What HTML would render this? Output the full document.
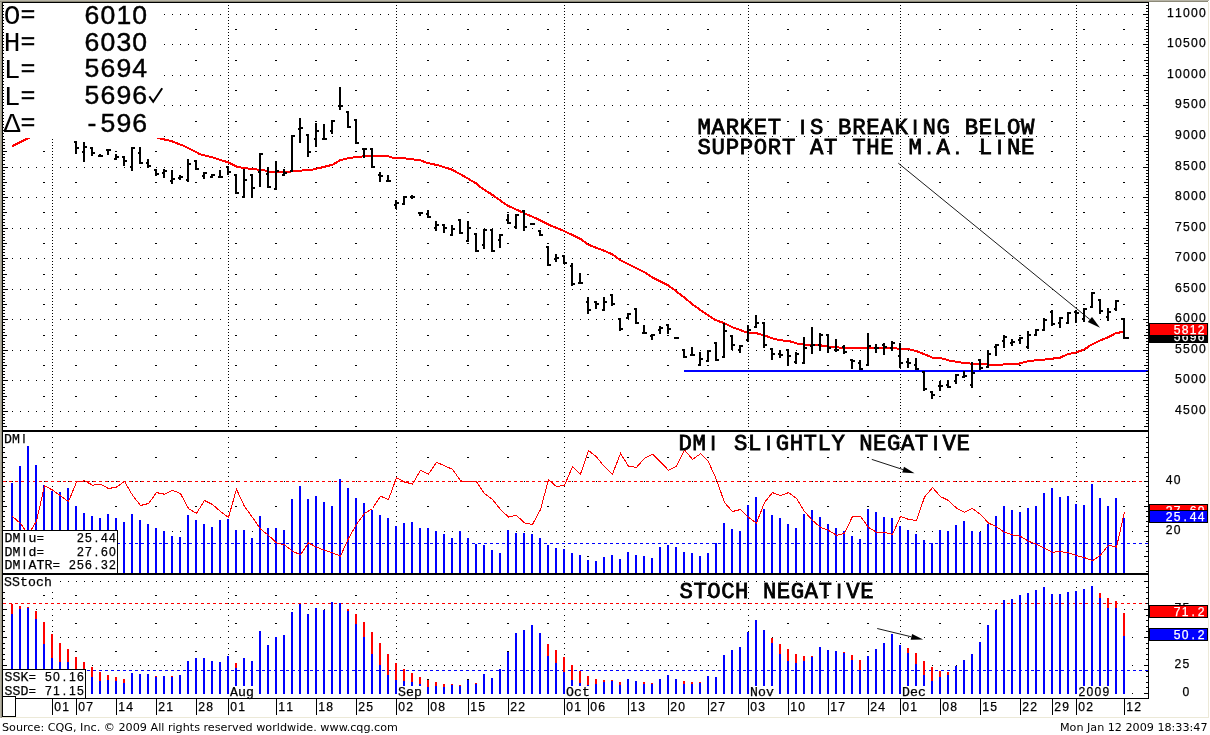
<!DOCTYPE html>
<html lang="en"><head><meta charset="utf-8"><title>CQG Chart</title>
<style>html,body{margin:0;padding:0;background:#fff;overflow:hidden}svg{display:block}text{white-space:pre}</style>
</head><body>
<svg width="1210" height="735" viewBox="0 0 1210 735">
<rect x="0" y="0" width="1210" height="735" fill="#fff"/>
<g shape-rendering="crispEdges">
<path fill="#000" d="M12 14h1v1h-1zM20 14h1v1h-1zM28 14h1v1h-1zM36 14h1v1h-1zM44 14h1v1h-1zM52 14h1v1h-1zM60 14h1v1h-1zM68 14h1v1h-1zM76 14h1v1h-1zM84 14h1v1h-1zM92 14h1v1h-1zM100 14h1v1h-1zM108 14h1v1h-1zM116 14h1v1h-1zM124 14h1v1h-1zM132 14h1v1h-1zM140 14h1v1h-1zM148 14h1v1h-1zM156 14h1v1h-1zM164 14h1v1h-1zM172 14h1v1h-1zM180 14h1v1h-1zM188 14h1v1h-1zM196 14h1v1h-1zM204 14h1v1h-1zM212 14h1v1h-1zM220 14h1v1h-1zM228 14h1v1h-1zM236 14h1v1h-1zM244 14h1v1h-1zM252 14h1v1h-1zM260 14h1v1h-1zM268 14h1v1h-1zM276 14h1v1h-1zM284 14h1v1h-1zM292 14h1v1h-1zM300 14h1v1h-1zM308 14h1v1h-1zM316 14h1v1h-1zM324 14h1v1h-1zM332 14h1v1h-1zM340 14h1v1h-1zM348 14h1v1h-1zM356 14h1v1h-1zM364 14h1v1h-1zM372 14h1v1h-1zM380 14h1v1h-1zM388 14h1v1h-1zM396 14h1v1h-1zM404 14h1v1h-1zM412 14h1v1h-1zM420 14h1v1h-1zM428 14h1v1h-1zM436 14h1v1h-1zM444 14h1v1h-1zM452 14h1v1h-1zM460 14h1v1h-1zM468 14h1v1h-1zM476 14h1v1h-1zM484 14h1v1h-1zM492 14h1v1h-1zM500 14h1v1h-1zM508 14h1v1h-1zM516 14h1v1h-1zM524 14h1v1h-1zM532 14h1v1h-1zM540 14h1v1h-1zM548 14h1v1h-1zM556 14h1v1h-1zM564 14h1v1h-1zM572 14h1v1h-1zM580 14h1v1h-1zM588 14h1v1h-1zM596 14h1v1h-1zM604 14h1v1h-1zM612 14h1v1h-1zM620 14h1v1h-1zM628 14h1v1h-1zM636 14h1v1h-1zM644 14h1v1h-1zM652 14h1v1h-1zM660 14h1v1h-1zM668 14h1v1h-1zM676 14h1v1h-1zM684 14h1v1h-1zM692 14h1v1h-1zM700 14h1v1h-1zM708 14h1v1h-1zM716 14h1v1h-1zM724 14h1v1h-1zM732 14h1v1h-1zM740 14h1v1h-1zM748 14h1v1h-1zM756 14h1v1h-1zM764 14h1v1h-1zM772 14h1v1h-1zM780 14h1v1h-1zM788 14h1v1h-1zM796 14h1v1h-1zM804 14h1v1h-1zM812 14h1v1h-1zM820 14h1v1h-1zM828 14h1v1h-1zM836 14h1v1h-1zM844 14h1v1h-1zM852 14h1v1h-1zM860 14h1v1h-1zM868 14h1v1h-1zM876 14h1v1h-1zM884 14h1v1h-1zM892 14h1v1h-1zM900 14h1v1h-1zM908 14h1v1h-1zM916 14h1v1h-1zM924 14h1v1h-1zM932 14h1v1h-1zM940 14h1v1h-1zM948 14h1v1h-1zM956 14h1v1h-1zM964 14h1v1h-1zM972 14h1v1h-1zM980 14h1v1h-1zM988 14h1v1h-1zM996 14h1v1h-1zM1004 14h1v1h-1zM1012 14h1v1h-1zM1020 14h1v1h-1zM1028 14h1v1h-1zM1036 14h1v1h-1zM1044 14h1v1h-1zM1052 14h1v1h-1zM1060 14h1v1h-1zM1068 14h1v1h-1zM1076 14h1v1h-1zM1084 14h1v1h-1zM1092 14h1v1h-1zM1100 14h1v1h-1zM1108 14h1v1h-1zM1116 14h1v1h-1zM1124 14h1v1h-1zM1132 14h1v1h-1zM43 29h2v1h-2zM75 29h2v1h-2zM115 29h2v1h-2zM155 29h2v1h-2zM195 29h2v1h-2zM235 29h2v1h-2zM275 29h2v1h-2zM315 29h2v1h-2zM355 29h2v1h-2zM427 29h2v1h-2zM467 29h2v1h-2zM507 29h2v1h-2zM547 29h2v1h-2zM587 29h2v1h-2zM627 29h2v1h-2zM667 29h2v1h-2zM707 29h2v1h-2zM787 29h2v1h-2zM827 29h2v1h-2zM867 29h2v1h-2zM939 29h2v1h-2zM979 29h2v1h-2zM1019 29h2v1h-2zM1051 29h2v1h-2zM1083 29h2v1h-2zM1123 29h2v1h-2zM12 44h1v1h-1zM20 44h1v1h-1zM28 44h1v1h-1zM36 44h1v1h-1zM44 44h1v1h-1zM52 44h1v1h-1zM60 44h1v1h-1zM68 44h1v1h-1zM76 44h1v1h-1zM84 44h1v1h-1zM92 44h1v1h-1zM100 44h1v1h-1zM108 44h1v1h-1zM116 44h1v1h-1zM124 44h1v1h-1zM132 44h1v1h-1zM140 44h1v1h-1zM148 44h1v1h-1zM156 44h1v1h-1zM164 44h1v1h-1zM172 44h1v1h-1zM180 44h1v1h-1zM188 44h1v1h-1zM196 44h1v1h-1zM204 44h1v1h-1zM212 44h1v1h-1zM220 44h1v1h-1zM228 44h1v1h-1zM236 44h1v1h-1zM244 44h1v1h-1zM252 44h1v1h-1zM260 44h1v1h-1zM268 44h1v1h-1zM276 44h1v1h-1zM284 44h1v1h-1zM292 44h1v1h-1zM300 44h1v1h-1zM308 44h1v1h-1zM316 44h1v1h-1zM324 44h1v1h-1zM332 44h1v1h-1zM340 44h1v1h-1zM348 44h1v1h-1zM356 44h1v1h-1zM364 44h1v1h-1zM372 44h1v1h-1zM380 44h1v1h-1zM388 44h1v1h-1zM396 44h1v1h-1zM404 44h1v1h-1zM412 44h1v1h-1zM420 44h1v1h-1zM428 44h1v1h-1zM436 44h1v1h-1zM444 44h1v1h-1zM452 44h1v1h-1zM460 44h1v1h-1zM468 44h1v1h-1zM476 44h1v1h-1zM484 44h1v1h-1zM492 44h1v1h-1zM500 44h1v1h-1zM508 44h1v1h-1zM516 44h1v1h-1zM524 44h1v1h-1zM532 44h1v1h-1zM540 44h1v1h-1zM548 44h1v1h-1zM556 44h1v1h-1zM564 44h1v1h-1zM572 44h1v1h-1zM580 44h1v1h-1zM588 44h1v1h-1zM596 44h1v1h-1zM604 44h1v1h-1zM612 44h1v1h-1zM620 44h1v1h-1zM628 44h1v1h-1zM636 44h1v1h-1zM644 44h1v1h-1zM652 44h1v1h-1zM660 44h1v1h-1zM668 44h1v1h-1zM676 44h1v1h-1zM684 44h1v1h-1zM692 44h1v1h-1zM700 44h1v1h-1zM708 44h1v1h-1zM716 44h1v1h-1zM724 44h1v1h-1zM732 44h1v1h-1zM740 44h1v1h-1zM748 44h1v1h-1zM756 44h1v1h-1zM764 44h1v1h-1zM772 44h1v1h-1zM780 44h1v1h-1zM788 44h1v1h-1zM796 44h1v1h-1zM804 44h1v1h-1zM812 44h1v1h-1zM820 44h1v1h-1zM828 44h1v1h-1zM836 44h1v1h-1zM844 44h1v1h-1zM852 44h1v1h-1zM860 44h1v1h-1zM868 44h1v1h-1zM876 44h1v1h-1zM884 44h1v1h-1zM892 44h1v1h-1zM900 44h1v1h-1zM908 44h1v1h-1zM916 44h1v1h-1zM924 44h1v1h-1zM932 44h1v1h-1zM940 44h1v1h-1zM948 44h1v1h-1zM956 44h1v1h-1zM964 44h1v1h-1zM972 44h1v1h-1zM980 44h1v1h-1zM988 44h1v1h-1zM996 44h1v1h-1zM1004 44h1v1h-1zM1012 44h1v1h-1zM1020 44h1v1h-1zM1028 44h1v1h-1zM1036 44h1v1h-1zM1044 44h1v1h-1zM1052 44h1v1h-1zM1060 44h1v1h-1zM1068 44h1v1h-1zM1076 44h1v1h-1zM1084 44h1v1h-1zM1092 44h1v1h-1zM1100 44h1v1h-1zM1108 44h1v1h-1zM1116 44h1v1h-1zM1124 44h1v1h-1zM1132 44h1v1h-1zM43 60h2v1h-2zM75 60h2v1h-2zM115 60h2v1h-2zM155 60h2v1h-2zM195 60h2v1h-2zM235 60h2v1h-2zM275 60h2v1h-2zM315 60h2v1h-2zM355 60h2v1h-2zM427 60h2v1h-2zM467 60h2v1h-2zM507 60h2v1h-2zM547 60h2v1h-2zM587 60h2v1h-2zM627 60h2v1h-2zM667 60h2v1h-2zM707 60h2v1h-2zM787 60h2v1h-2zM827 60h2v1h-2zM867 60h2v1h-2zM939 60h2v1h-2zM979 60h2v1h-2zM1019 60h2v1h-2zM1051 60h2v1h-2zM1083 60h2v1h-2zM1123 60h2v1h-2zM12 75h1v1h-1zM20 75h1v1h-1zM28 75h1v1h-1zM36 75h1v1h-1zM44 75h1v1h-1zM52 75h1v1h-1zM60 75h1v1h-1zM68 75h1v1h-1zM76 75h1v1h-1zM84 75h1v1h-1zM92 75h1v1h-1zM100 75h1v1h-1zM108 75h1v1h-1zM116 75h1v1h-1zM124 75h1v1h-1zM132 75h1v1h-1zM140 75h1v1h-1zM148 75h1v1h-1zM156 75h1v1h-1zM164 75h1v1h-1zM172 75h1v1h-1zM180 75h1v1h-1zM188 75h1v1h-1zM196 75h1v1h-1zM204 75h1v1h-1zM212 75h1v1h-1zM220 75h1v1h-1zM228 75h1v1h-1zM236 75h1v1h-1zM244 75h1v1h-1zM252 75h1v1h-1zM260 75h1v1h-1zM268 75h1v1h-1zM276 75h1v1h-1zM284 75h1v1h-1zM292 75h1v1h-1zM300 75h1v1h-1zM308 75h1v1h-1zM316 75h1v1h-1zM324 75h1v1h-1zM332 75h1v1h-1zM340 75h1v1h-1zM348 75h1v1h-1zM356 75h1v1h-1zM364 75h1v1h-1zM372 75h1v1h-1zM380 75h1v1h-1zM388 75h1v1h-1zM396 75h1v1h-1zM404 75h1v1h-1zM412 75h1v1h-1zM420 75h1v1h-1zM428 75h1v1h-1zM436 75h1v1h-1zM444 75h1v1h-1zM452 75h1v1h-1zM460 75h1v1h-1zM468 75h1v1h-1zM476 75h1v1h-1zM484 75h1v1h-1zM492 75h1v1h-1zM500 75h1v1h-1zM508 75h1v1h-1zM516 75h1v1h-1zM524 75h1v1h-1zM532 75h1v1h-1zM540 75h1v1h-1zM548 75h1v1h-1zM556 75h1v1h-1zM564 75h1v1h-1zM572 75h1v1h-1zM580 75h1v1h-1zM588 75h1v1h-1zM596 75h1v1h-1zM604 75h1v1h-1zM612 75h1v1h-1zM620 75h1v1h-1zM628 75h1v1h-1zM636 75h1v1h-1zM644 75h1v1h-1zM652 75h1v1h-1zM660 75h1v1h-1zM668 75h1v1h-1zM676 75h1v1h-1zM684 75h1v1h-1zM692 75h1v1h-1zM700 75h1v1h-1zM708 75h1v1h-1zM716 75h1v1h-1zM724 75h1v1h-1zM732 75h1v1h-1zM740 75h1v1h-1zM748 75h1v1h-1zM756 75h1v1h-1zM764 75h1v1h-1zM772 75h1v1h-1zM780 75h1v1h-1zM788 75h1v1h-1zM796 75h1v1h-1zM804 75h1v1h-1zM812 75h1v1h-1zM820 75h1v1h-1zM828 75h1v1h-1zM836 75h1v1h-1zM844 75h1v1h-1zM852 75h1v1h-1zM860 75h1v1h-1zM868 75h1v1h-1zM876 75h1v1h-1zM884 75h1v1h-1zM892 75h1v1h-1zM900 75h1v1h-1zM908 75h1v1h-1zM916 75h1v1h-1zM924 75h1v1h-1zM932 75h1v1h-1zM940 75h1v1h-1zM948 75h1v1h-1zM956 75h1v1h-1zM964 75h1v1h-1zM972 75h1v1h-1zM980 75h1v1h-1zM988 75h1v1h-1zM996 75h1v1h-1zM1004 75h1v1h-1zM1012 75h1v1h-1zM1020 75h1v1h-1zM1028 75h1v1h-1zM1036 75h1v1h-1zM1044 75h1v1h-1zM1052 75h1v1h-1zM1060 75h1v1h-1zM1068 75h1v1h-1zM1076 75h1v1h-1zM1084 75h1v1h-1zM1092 75h1v1h-1zM1100 75h1v1h-1zM1108 75h1v1h-1zM1116 75h1v1h-1zM1124 75h1v1h-1zM1132 75h1v1h-1zM43 90h2v1h-2zM75 90h2v1h-2zM115 90h2v1h-2zM155 90h2v1h-2zM195 90h2v1h-2zM235 90h2v1h-2zM275 90h2v1h-2zM315 90h2v1h-2zM355 90h2v1h-2zM427 90h2v1h-2zM467 90h2v1h-2zM507 90h2v1h-2zM547 90h2v1h-2zM587 90h2v1h-2zM627 90h2v1h-2zM667 90h2v1h-2zM707 90h2v1h-2zM787 90h2v1h-2zM827 90h2v1h-2zM867 90h2v1h-2zM939 90h2v1h-2zM979 90h2v1h-2zM1019 90h2v1h-2zM1051 90h2v1h-2zM1083 90h2v1h-2zM1123 90h2v1h-2zM12 105h1v1h-1zM20 105h1v1h-1zM28 105h1v1h-1zM36 105h1v1h-1zM44 105h1v1h-1zM52 105h1v1h-1zM60 105h1v1h-1zM68 105h1v1h-1zM76 105h1v1h-1zM84 105h1v1h-1zM92 105h1v1h-1zM100 105h1v1h-1zM108 105h1v1h-1zM116 105h1v1h-1zM124 105h1v1h-1zM132 105h1v1h-1zM140 105h1v1h-1zM148 105h1v1h-1zM156 105h1v1h-1zM164 105h1v1h-1zM172 105h1v1h-1zM180 105h1v1h-1zM188 105h1v1h-1zM196 105h1v1h-1zM204 105h1v1h-1zM212 105h1v1h-1zM220 105h1v1h-1zM228 105h1v1h-1zM236 105h1v1h-1zM244 105h1v1h-1zM252 105h1v1h-1zM260 105h1v1h-1zM268 105h1v1h-1zM276 105h1v1h-1zM284 105h1v1h-1zM292 105h1v1h-1zM300 105h1v1h-1zM308 105h1v1h-1zM316 105h1v1h-1zM324 105h1v1h-1zM332 105h1v1h-1zM340 105h1v1h-1zM348 105h1v1h-1zM356 105h1v1h-1zM364 105h1v1h-1zM372 105h1v1h-1zM380 105h1v1h-1zM388 105h1v1h-1zM396 105h1v1h-1zM404 105h1v1h-1zM412 105h1v1h-1zM420 105h1v1h-1zM428 105h1v1h-1zM436 105h1v1h-1zM444 105h1v1h-1zM452 105h1v1h-1zM460 105h1v1h-1zM468 105h1v1h-1zM476 105h1v1h-1zM484 105h1v1h-1zM492 105h1v1h-1zM500 105h1v1h-1zM508 105h1v1h-1zM516 105h1v1h-1zM524 105h1v1h-1zM532 105h1v1h-1zM540 105h1v1h-1zM548 105h1v1h-1zM556 105h1v1h-1zM564 105h1v1h-1zM572 105h1v1h-1zM580 105h1v1h-1zM588 105h1v1h-1zM596 105h1v1h-1zM604 105h1v1h-1zM612 105h1v1h-1zM620 105h1v1h-1zM628 105h1v1h-1zM636 105h1v1h-1zM644 105h1v1h-1zM652 105h1v1h-1zM660 105h1v1h-1zM668 105h1v1h-1zM676 105h1v1h-1zM684 105h1v1h-1zM692 105h1v1h-1zM700 105h1v1h-1zM708 105h1v1h-1zM716 105h1v1h-1zM724 105h1v1h-1zM732 105h1v1h-1zM740 105h1v1h-1zM748 105h1v1h-1zM756 105h1v1h-1zM764 105h1v1h-1zM772 105h1v1h-1zM780 105h1v1h-1zM788 105h1v1h-1zM796 105h1v1h-1zM804 105h1v1h-1zM812 105h1v1h-1zM820 105h1v1h-1zM828 105h1v1h-1zM836 105h1v1h-1zM844 105h1v1h-1zM852 105h1v1h-1zM860 105h1v1h-1zM868 105h1v1h-1zM876 105h1v1h-1zM884 105h1v1h-1zM892 105h1v1h-1zM900 105h1v1h-1zM908 105h1v1h-1zM916 105h1v1h-1zM924 105h1v1h-1zM932 105h1v1h-1zM940 105h1v1h-1zM948 105h1v1h-1zM956 105h1v1h-1zM964 105h1v1h-1zM972 105h1v1h-1zM980 105h1v1h-1zM988 105h1v1h-1zM996 105h1v1h-1zM1004 105h1v1h-1zM1012 105h1v1h-1zM1020 105h1v1h-1zM1028 105h1v1h-1zM1036 105h1v1h-1zM1044 105h1v1h-1zM1052 105h1v1h-1zM1060 105h1v1h-1zM1068 105h1v1h-1zM1076 105h1v1h-1zM1084 105h1v1h-1zM1092 105h1v1h-1zM1100 105h1v1h-1zM1108 105h1v1h-1zM1116 105h1v1h-1zM1124 105h1v1h-1zM1132 105h1v1h-1zM43 121h2v1h-2zM75 121h2v1h-2zM115 121h2v1h-2zM155 121h2v1h-2zM195 121h2v1h-2zM235 121h2v1h-2zM275 121h2v1h-2zM315 121h2v1h-2zM355 121h2v1h-2zM427 121h2v1h-2zM467 121h2v1h-2zM507 121h2v1h-2zM547 121h2v1h-2zM587 121h2v1h-2zM627 121h2v1h-2zM667 121h2v1h-2zM707 121h2v1h-2zM787 121h2v1h-2zM827 121h2v1h-2zM867 121h2v1h-2zM939 121h2v1h-2zM979 121h2v1h-2zM1019 121h2v1h-2zM1051 121h2v1h-2zM1083 121h2v1h-2zM1123 121h2v1h-2zM12 136h1v1h-1zM20 136h1v1h-1zM28 136h1v1h-1zM36 136h1v1h-1zM44 136h1v1h-1zM52 136h1v1h-1zM60 136h1v1h-1zM68 136h1v1h-1zM76 136h1v1h-1zM84 136h1v1h-1zM92 136h1v1h-1zM100 136h1v1h-1zM108 136h1v1h-1zM116 136h1v1h-1zM124 136h1v1h-1zM132 136h1v1h-1zM140 136h1v1h-1zM148 136h1v1h-1zM156 136h1v1h-1zM164 136h1v1h-1zM172 136h1v1h-1zM180 136h1v1h-1zM188 136h1v1h-1zM196 136h1v1h-1zM204 136h1v1h-1zM212 136h1v1h-1zM220 136h1v1h-1zM228 136h1v1h-1zM236 136h1v1h-1zM244 136h1v1h-1zM252 136h1v1h-1zM260 136h1v1h-1zM268 136h1v1h-1zM276 136h1v1h-1zM284 136h1v1h-1zM292 136h1v1h-1zM300 136h1v1h-1zM308 136h1v1h-1zM316 136h1v1h-1zM324 136h1v1h-1zM332 136h1v1h-1zM340 136h1v1h-1zM348 136h1v1h-1zM356 136h1v1h-1zM364 136h1v1h-1zM372 136h1v1h-1zM380 136h1v1h-1zM388 136h1v1h-1zM396 136h1v1h-1zM404 136h1v1h-1zM412 136h1v1h-1zM420 136h1v1h-1zM428 136h1v1h-1zM436 136h1v1h-1zM444 136h1v1h-1zM452 136h1v1h-1zM460 136h1v1h-1zM468 136h1v1h-1zM476 136h1v1h-1zM484 136h1v1h-1zM492 136h1v1h-1zM500 136h1v1h-1zM508 136h1v1h-1zM516 136h1v1h-1zM524 136h1v1h-1zM532 136h1v1h-1zM540 136h1v1h-1zM548 136h1v1h-1zM556 136h1v1h-1zM564 136h1v1h-1zM572 136h1v1h-1zM580 136h1v1h-1zM588 136h1v1h-1zM596 136h1v1h-1zM604 136h1v1h-1zM612 136h1v1h-1zM620 136h1v1h-1zM628 136h1v1h-1zM636 136h1v1h-1zM644 136h1v1h-1zM652 136h1v1h-1zM660 136h1v1h-1zM668 136h1v1h-1zM676 136h1v1h-1zM684 136h1v1h-1zM692 136h1v1h-1zM700 136h1v1h-1zM708 136h1v1h-1zM716 136h1v1h-1zM724 136h1v1h-1zM732 136h1v1h-1zM740 136h1v1h-1zM748 136h1v1h-1zM756 136h1v1h-1zM764 136h1v1h-1zM772 136h1v1h-1zM780 136h1v1h-1zM788 136h1v1h-1zM796 136h1v1h-1zM804 136h1v1h-1zM812 136h1v1h-1zM820 136h1v1h-1zM828 136h1v1h-1zM836 136h1v1h-1zM844 136h1v1h-1zM852 136h1v1h-1zM860 136h1v1h-1zM868 136h1v1h-1zM876 136h1v1h-1zM884 136h1v1h-1zM892 136h1v1h-1zM900 136h1v1h-1zM908 136h1v1h-1zM916 136h1v1h-1zM924 136h1v1h-1zM932 136h1v1h-1zM940 136h1v1h-1zM948 136h1v1h-1zM956 136h1v1h-1zM964 136h1v1h-1zM972 136h1v1h-1zM980 136h1v1h-1zM988 136h1v1h-1zM996 136h1v1h-1zM1004 136h1v1h-1zM1012 136h1v1h-1zM1020 136h1v1h-1zM1028 136h1v1h-1zM1036 136h1v1h-1zM1044 136h1v1h-1zM1052 136h1v1h-1zM1060 136h1v1h-1zM1068 136h1v1h-1zM1076 136h1v1h-1zM1084 136h1v1h-1zM1092 136h1v1h-1zM1100 136h1v1h-1zM1108 136h1v1h-1zM1116 136h1v1h-1zM1124 136h1v1h-1zM1132 136h1v1h-1zM43 151h2v1h-2zM75 151h2v1h-2zM115 151h2v1h-2zM155 151h2v1h-2zM195 151h2v1h-2zM235 151h2v1h-2zM275 151h2v1h-2zM315 151h2v1h-2zM355 151h2v1h-2zM427 151h2v1h-2zM467 151h2v1h-2zM507 151h2v1h-2zM547 151h2v1h-2zM587 151h2v1h-2zM627 151h2v1h-2zM667 151h2v1h-2zM707 151h2v1h-2zM787 151h2v1h-2zM827 151h2v1h-2zM867 151h2v1h-2zM939 151h2v1h-2zM979 151h2v1h-2zM1019 151h2v1h-2zM1051 151h2v1h-2zM1083 151h2v1h-2zM1123 151h2v1h-2zM12 167h1v1h-1zM20 167h1v1h-1zM28 167h1v1h-1zM36 167h1v1h-1zM44 167h1v1h-1zM52 167h1v1h-1zM60 167h1v1h-1zM68 167h1v1h-1zM76 167h1v1h-1zM84 167h1v1h-1zM92 167h1v1h-1zM100 167h1v1h-1zM108 167h1v1h-1zM116 167h1v1h-1zM124 167h1v1h-1zM132 167h1v1h-1zM140 167h1v1h-1zM148 167h1v1h-1zM156 167h1v1h-1zM164 167h1v1h-1zM172 167h1v1h-1zM180 167h1v1h-1zM188 167h1v1h-1zM196 167h1v1h-1zM204 167h1v1h-1zM212 167h1v1h-1zM220 167h1v1h-1zM228 167h1v1h-1zM236 167h1v1h-1zM244 167h1v1h-1zM252 167h1v1h-1zM260 167h1v1h-1zM268 167h1v1h-1zM276 167h1v1h-1zM284 167h1v1h-1zM292 167h1v1h-1zM300 167h1v1h-1zM308 167h1v1h-1zM316 167h1v1h-1zM324 167h1v1h-1zM332 167h1v1h-1zM340 167h1v1h-1zM348 167h1v1h-1zM356 167h1v1h-1zM364 167h1v1h-1zM372 167h1v1h-1zM380 167h1v1h-1zM388 167h1v1h-1zM396 167h1v1h-1zM404 167h1v1h-1zM412 167h1v1h-1zM420 167h1v1h-1zM428 167h1v1h-1zM436 167h1v1h-1zM444 167h1v1h-1zM452 167h1v1h-1zM460 167h1v1h-1zM468 167h1v1h-1zM476 167h1v1h-1zM484 167h1v1h-1zM492 167h1v1h-1zM500 167h1v1h-1zM508 167h1v1h-1zM516 167h1v1h-1zM524 167h1v1h-1zM532 167h1v1h-1zM540 167h1v1h-1zM548 167h1v1h-1zM556 167h1v1h-1zM564 167h1v1h-1zM572 167h1v1h-1zM580 167h1v1h-1zM588 167h1v1h-1zM596 167h1v1h-1zM604 167h1v1h-1zM612 167h1v1h-1zM620 167h1v1h-1zM628 167h1v1h-1zM636 167h1v1h-1zM644 167h1v1h-1zM652 167h1v1h-1zM660 167h1v1h-1zM668 167h1v1h-1zM676 167h1v1h-1zM684 167h1v1h-1zM692 167h1v1h-1zM700 167h1v1h-1zM708 167h1v1h-1zM716 167h1v1h-1zM724 167h1v1h-1zM732 167h1v1h-1zM740 167h1v1h-1zM748 167h1v1h-1zM756 167h1v1h-1zM764 167h1v1h-1zM772 167h1v1h-1zM780 167h1v1h-1zM788 167h1v1h-1zM796 167h1v1h-1zM804 167h1v1h-1zM812 167h1v1h-1zM820 167h1v1h-1zM828 167h1v1h-1zM836 167h1v1h-1zM844 167h1v1h-1zM852 167h1v1h-1zM860 167h1v1h-1zM868 167h1v1h-1zM876 167h1v1h-1zM884 167h1v1h-1zM892 167h1v1h-1zM900 167h1v1h-1zM908 167h1v1h-1zM916 167h1v1h-1zM924 167h1v1h-1zM932 167h1v1h-1zM940 167h1v1h-1zM948 167h1v1h-1zM956 167h1v1h-1zM964 167h1v1h-1zM972 167h1v1h-1zM980 167h1v1h-1zM988 167h1v1h-1zM996 167h1v1h-1zM1004 167h1v1h-1zM1012 167h1v1h-1zM1020 167h1v1h-1zM1028 167h1v1h-1zM1036 167h1v1h-1zM1044 167h1v1h-1zM1052 167h1v1h-1zM1060 167h1v1h-1zM1068 167h1v1h-1zM1076 167h1v1h-1zM1084 167h1v1h-1zM1092 167h1v1h-1zM1100 167h1v1h-1zM1108 167h1v1h-1zM1116 167h1v1h-1zM1124 167h1v1h-1zM1132 167h1v1h-1zM43 182h2v1h-2zM75 182h2v1h-2zM115 182h2v1h-2zM155 182h2v1h-2zM195 182h2v1h-2zM235 182h2v1h-2zM275 182h2v1h-2zM315 182h2v1h-2zM355 182h2v1h-2zM427 182h2v1h-2zM467 182h2v1h-2zM507 182h2v1h-2zM547 182h2v1h-2zM587 182h2v1h-2zM627 182h2v1h-2zM667 182h2v1h-2zM707 182h2v1h-2zM787 182h2v1h-2zM827 182h2v1h-2zM867 182h2v1h-2zM939 182h2v1h-2zM979 182h2v1h-2zM1019 182h2v1h-2zM1051 182h2v1h-2zM1083 182h2v1h-2zM1123 182h2v1h-2zM12 197h1v1h-1zM20 197h1v1h-1zM28 197h1v1h-1zM36 197h1v1h-1zM44 197h1v1h-1zM52 197h1v1h-1zM60 197h1v1h-1zM68 197h1v1h-1zM76 197h1v1h-1zM84 197h1v1h-1zM92 197h1v1h-1zM100 197h1v1h-1zM108 197h1v1h-1zM116 197h1v1h-1zM124 197h1v1h-1zM132 197h1v1h-1zM140 197h1v1h-1zM148 197h1v1h-1zM156 197h1v1h-1zM164 197h1v1h-1zM172 197h1v1h-1zM180 197h1v1h-1zM188 197h1v1h-1zM196 197h1v1h-1zM204 197h1v1h-1zM212 197h1v1h-1zM220 197h1v1h-1zM228 197h1v1h-1zM236 197h1v1h-1zM244 197h1v1h-1zM252 197h1v1h-1zM260 197h1v1h-1zM268 197h1v1h-1zM276 197h1v1h-1zM284 197h1v1h-1zM292 197h1v1h-1zM300 197h1v1h-1zM308 197h1v1h-1zM316 197h1v1h-1zM324 197h1v1h-1zM332 197h1v1h-1zM340 197h1v1h-1zM348 197h1v1h-1zM356 197h1v1h-1zM364 197h1v1h-1zM372 197h1v1h-1zM380 197h1v1h-1zM388 197h1v1h-1zM396 197h1v1h-1zM404 197h1v1h-1zM412 197h1v1h-1zM420 197h1v1h-1zM428 197h1v1h-1zM436 197h1v1h-1zM444 197h1v1h-1zM452 197h1v1h-1zM460 197h1v1h-1zM468 197h1v1h-1zM476 197h1v1h-1zM484 197h1v1h-1zM492 197h1v1h-1zM500 197h1v1h-1zM508 197h1v1h-1zM516 197h1v1h-1zM524 197h1v1h-1zM532 197h1v1h-1zM540 197h1v1h-1zM548 197h1v1h-1zM556 197h1v1h-1zM564 197h1v1h-1zM572 197h1v1h-1zM580 197h1v1h-1zM588 197h1v1h-1zM596 197h1v1h-1zM604 197h1v1h-1zM612 197h1v1h-1zM620 197h1v1h-1zM628 197h1v1h-1zM636 197h1v1h-1zM644 197h1v1h-1zM652 197h1v1h-1zM660 197h1v1h-1zM668 197h1v1h-1zM676 197h1v1h-1zM684 197h1v1h-1zM692 197h1v1h-1zM700 197h1v1h-1zM708 197h1v1h-1zM716 197h1v1h-1zM724 197h1v1h-1zM732 197h1v1h-1zM740 197h1v1h-1zM748 197h1v1h-1zM756 197h1v1h-1zM764 197h1v1h-1zM772 197h1v1h-1zM780 197h1v1h-1zM788 197h1v1h-1zM796 197h1v1h-1zM804 197h1v1h-1zM812 197h1v1h-1zM820 197h1v1h-1zM828 197h1v1h-1zM836 197h1v1h-1zM844 197h1v1h-1zM852 197h1v1h-1zM860 197h1v1h-1zM868 197h1v1h-1zM876 197h1v1h-1zM884 197h1v1h-1zM892 197h1v1h-1zM900 197h1v1h-1zM908 197h1v1h-1zM916 197h1v1h-1zM924 197h1v1h-1zM932 197h1v1h-1zM940 197h1v1h-1zM948 197h1v1h-1zM956 197h1v1h-1zM964 197h1v1h-1zM972 197h1v1h-1zM980 197h1v1h-1zM988 197h1v1h-1zM996 197h1v1h-1zM1004 197h1v1h-1zM1012 197h1v1h-1zM1020 197h1v1h-1zM1028 197h1v1h-1zM1036 197h1v1h-1zM1044 197h1v1h-1zM1052 197h1v1h-1zM1060 197h1v1h-1zM1068 197h1v1h-1zM1076 197h1v1h-1zM1084 197h1v1h-1zM1092 197h1v1h-1zM1100 197h1v1h-1zM1108 197h1v1h-1zM1116 197h1v1h-1zM1124 197h1v1h-1zM1132 197h1v1h-1zM43 212h2v1h-2zM75 212h2v1h-2zM115 212h2v1h-2zM155 212h2v1h-2zM195 212h2v1h-2zM235 212h2v1h-2zM275 212h2v1h-2zM315 212h2v1h-2zM355 212h2v1h-2zM427 212h2v1h-2zM467 212h2v1h-2zM507 212h2v1h-2zM547 212h2v1h-2zM587 212h2v1h-2zM627 212h2v1h-2zM667 212h2v1h-2zM707 212h2v1h-2zM787 212h2v1h-2zM827 212h2v1h-2zM867 212h2v1h-2zM939 212h2v1h-2zM979 212h2v1h-2zM1019 212h2v1h-2zM1051 212h2v1h-2zM1083 212h2v1h-2zM1123 212h2v1h-2zM12 228h1v1h-1zM20 228h1v1h-1zM28 228h1v1h-1zM36 228h1v1h-1zM44 228h1v1h-1zM52 228h1v1h-1zM60 228h1v1h-1zM68 228h1v1h-1zM76 228h1v1h-1zM84 228h1v1h-1zM92 228h1v1h-1zM100 228h1v1h-1zM108 228h1v1h-1zM116 228h1v1h-1zM124 228h1v1h-1zM132 228h1v1h-1zM140 228h1v1h-1zM148 228h1v1h-1zM156 228h1v1h-1zM164 228h1v1h-1zM172 228h1v1h-1zM180 228h1v1h-1zM188 228h1v1h-1zM196 228h1v1h-1zM204 228h1v1h-1zM212 228h1v1h-1zM220 228h1v1h-1zM228 228h1v1h-1zM236 228h1v1h-1zM244 228h1v1h-1zM252 228h1v1h-1zM260 228h1v1h-1zM268 228h1v1h-1zM276 228h1v1h-1zM284 228h1v1h-1zM292 228h1v1h-1zM300 228h1v1h-1zM308 228h1v1h-1zM316 228h1v1h-1zM324 228h1v1h-1zM332 228h1v1h-1zM340 228h1v1h-1zM348 228h1v1h-1zM356 228h1v1h-1zM364 228h1v1h-1zM372 228h1v1h-1zM380 228h1v1h-1zM388 228h1v1h-1zM396 228h1v1h-1zM404 228h1v1h-1zM412 228h1v1h-1zM420 228h1v1h-1zM428 228h1v1h-1zM436 228h1v1h-1zM444 228h1v1h-1zM452 228h1v1h-1zM460 228h1v1h-1zM468 228h1v1h-1zM476 228h1v1h-1zM484 228h1v1h-1zM492 228h1v1h-1zM500 228h1v1h-1zM508 228h1v1h-1zM516 228h1v1h-1zM524 228h1v1h-1zM532 228h1v1h-1zM540 228h1v1h-1zM548 228h1v1h-1zM556 228h1v1h-1zM564 228h1v1h-1zM572 228h1v1h-1zM580 228h1v1h-1zM588 228h1v1h-1zM596 228h1v1h-1zM604 228h1v1h-1zM612 228h1v1h-1zM620 228h1v1h-1zM628 228h1v1h-1zM636 228h1v1h-1zM644 228h1v1h-1zM652 228h1v1h-1zM660 228h1v1h-1zM668 228h1v1h-1zM676 228h1v1h-1zM684 228h1v1h-1zM692 228h1v1h-1zM700 228h1v1h-1zM708 228h1v1h-1zM716 228h1v1h-1zM724 228h1v1h-1zM732 228h1v1h-1zM740 228h1v1h-1zM748 228h1v1h-1zM756 228h1v1h-1zM764 228h1v1h-1zM772 228h1v1h-1zM780 228h1v1h-1zM788 228h1v1h-1zM796 228h1v1h-1zM804 228h1v1h-1zM812 228h1v1h-1zM820 228h1v1h-1zM828 228h1v1h-1zM836 228h1v1h-1zM844 228h1v1h-1zM852 228h1v1h-1zM860 228h1v1h-1zM868 228h1v1h-1zM876 228h1v1h-1zM884 228h1v1h-1zM892 228h1v1h-1zM900 228h1v1h-1zM908 228h1v1h-1zM916 228h1v1h-1zM924 228h1v1h-1zM932 228h1v1h-1zM940 228h1v1h-1zM948 228h1v1h-1zM956 228h1v1h-1zM964 228h1v1h-1zM972 228h1v1h-1zM980 228h1v1h-1zM988 228h1v1h-1zM996 228h1v1h-1zM1004 228h1v1h-1zM1012 228h1v1h-1zM1020 228h1v1h-1zM1028 228h1v1h-1zM1036 228h1v1h-1zM1044 228h1v1h-1zM1052 228h1v1h-1zM1060 228h1v1h-1zM1068 228h1v1h-1zM1076 228h1v1h-1zM1084 228h1v1h-1zM1092 228h1v1h-1zM1100 228h1v1h-1zM1108 228h1v1h-1zM1116 228h1v1h-1zM1124 228h1v1h-1zM1132 228h1v1h-1zM43 243h2v1h-2zM75 243h2v1h-2zM115 243h2v1h-2zM155 243h2v1h-2zM195 243h2v1h-2zM235 243h2v1h-2zM275 243h2v1h-2zM315 243h2v1h-2zM355 243h2v1h-2zM427 243h2v1h-2zM467 243h2v1h-2zM507 243h2v1h-2zM547 243h2v1h-2zM587 243h2v1h-2zM627 243h2v1h-2zM667 243h2v1h-2zM707 243h2v1h-2zM787 243h2v1h-2zM827 243h2v1h-2zM867 243h2v1h-2zM939 243h2v1h-2zM979 243h2v1h-2zM1019 243h2v1h-2zM1051 243h2v1h-2zM1083 243h2v1h-2zM1123 243h2v1h-2zM12 258h1v1h-1zM20 258h1v1h-1zM28 258h1v1h-1zM36 258h1v1h-1zM44 258h1v1h-1zM52 258h1v1h-1zM60 258h1v1h-1zM68 258h1v1h-1zM76 258h1v1h-1zM84 258h1v1h-1zM92 258h1v1h-1zM100 258h1v1h-1zM108 258h1v1h-1zM116 258h1v1h-1zM124 258h1v1h-1zM132 258h1v1h-1zM140 258h1v1h-1zM148 258h1v1h-1zM156 258h1v1h-1zM164 258h1v1h-1zM172 258h1v1h-1zM180 258h1v1h-1zM188 258h1v1h-1zM196 258h1v1h-1zM204 258h1v1h-1zM212 258h1v1h-1zM220 258h1v1h-1zM228 258h1v1h-1zM236 258h1v1h-1zM244 258h1v1h-1zM252 258h1v1h-1zM260 258h1v1h-1zM268 258h1v1h-1zM276 258h1v1h-1zM284 258h1v1h-1zM292 258h1v1h-1zM300 258h1v1h-1zM308 258h1v1h-1zM316 258h1v1h-1zM324 258h1v1h-1zM332 258h1v1h-1zM340 258h1v1h-1zM348 258h1v1h-1zM356 258h1v1h-1zM364 258h1v1h-1zM372 258h1v1h-1zM380 258h1v1h-1zM388 258h1v1h-1zM396 258h1v1h-1zM404 258h1v1h-1zM412 258h1v1h-1zM420 258h1v1h-1zM428 258h1v1h-1zM436 258h1v1h-1zM444 258h1v1h-1zM452 258h1v1h-1zM460 258h1v1h-1zM468 258h1v1h-1zM476 258h1v1h-1zM484 258h1v1h-1zM492 258h1v1h-1zM500 258h1v1h-1zM508 258h1v1h-1zM516 258h1v1h-1zM524 258h1v1h-1zM532 258h1v1h-1zM540 258h1v1h-1zM548 258h1v1h-1zM556 258h1v1h-1zM564 258h1v1h-1zM572 258h1v1h-1zM580 258h1v1h-1zM588 258h1v1h-1zM596 258h1v1h-1zM604 258h1v1h-1zM612 258h1v1h-1zM620 258h1v1h-1zM628 258h1v1h-1zM636 258h1v1h-1zM644 258h1v1h-1zM652 258h1v1h-1zM660 258h1v1h-1zM668 258h1v1h-1zM676 258h1v1h-1zM684 258h1v1h-1zM692 258h1v1h-1zM700 258h1v1h-1zM708 258h1v1h-1zM716 258h1v1h-1zM724 258h1v1h-1zM732 258h1v1h-1zM740 258h1v1h-1zM748 258h1v1h-1zM756 258h1v1h-1zM764 258h1v1h-1zM772 258h1v1h-1zM780 258h1v1h-1zM788 258h1v1h-1zM796 258h1v1h-1zM804 258h1v1h-1zM812 258h1v1h-1zM820 258h1v1h-1zM828 258h1v1h-1zM836 258h1v1h-1zM844 258h1v1h-1zM852 258h1v1h-1zM860 258h1v1h-1zM868 258h1v1h-1zM876 258h1v1h-1zM884 258h1v1h-1zM892 258h1v1h-1zM900 258h1v1h-1zM908 258h1v1h-1zM916 258h1v1h-1zM924 258h1v1h-1zM932 258h1v1h-1zM940 258h1v1h-1zM948 258h1v1h-1zM956 258h1v1h-1zM964 258h1v1h-1zM972 258h1v1h-1zM980 258h1v1h-1zM988 258h1v1h-1zM996 258h1v1h-1zM1004 258h1v1h-1zM1012 258h1v1h-1zM1020 258h1v1h-1zM1028 258h1v1h-1zM1036 258h1v1h-1zM1044 258h1v1h-1zM1052 258h1v1h-1zM1060 258h1v1h-1zM1068 258h1v1h-1zM1076 258h1v1h-1zM1084 258h1v1h-1zM1092 258h1v1h-1zM1100 258h1v1h-1zM1108 258h1v1h-1zM1116 258h1v1h-1zM1124 258h1v1h-1zM1132 258h1v1h-1zM43 274h2v1h-2zM75 274h2v1h-2zM115 274h2v1h-2zM155 274h2v1h-2zM195 274h2v1h-2zM235 274h2v1h-2zM275 274h2v1h-2zM315 274h2v1h-2zM355 274h2v1h-2zM427 274h2v1h-2zM467 274h2v1h-2zM507 274h2v1h-2zM547 274h2v1h-2zM587 274h2v1h-2zM627 274h2v1h-2zM667 274h2v1h-2zM707 274h2v1h-2zM787 274h2v1h-2zM827 274h2v1h-2zM867 274h2v1h-2zM939 274h2v1h-2zM979 274h2v1h-2zM1019 274h2v1h-2zM1051 274h2v1h-2zM1083 274h2v1h-2zM1123 274h2v1h-2zM12 289h1v1h-1zM20 289h1v1h-1zM28 289h1v1h-1zM36 289h1v1h-1zM44 289h1v1h-1zM52 289h1v1h-1zM60 289h1v1h-1zM68 289h1v1h-1zM76 289h1v1h-1zM84 289h1v1h-1zM92 289h1v1h-1zM100 289h1v1h-1zM108 289h1v1h-1zM116 289h1v1h-1zM124 289h1v1h-1zM132 289h1v1h-1zM140 289h1v1h-1zM148 289h1v1h-1zM156 289h1v1h-1zM164 289h1v1h-1zM172 289h1v1h-1zM180 289h1v1h-1zM188 289h1v1h-1zM196 289h1v1h-1zM204 289h1v1h-1zM212 289h1v1h-1zM220 289h1v1h-1zM228 289h1v1h-1zM236 289h1v1h-1zM244 289h1v1h-1zM252 289h1v1h-1zM260 289h1v1h-1zM268 289h1v1h-1zM276 289h1v1h-1zM284 289h1v1h-1zM292 289h1v1h-1zM300 289h1v1h-1zM308 289h1v1h-1zM316 289h1v1h-1zM324 289h1v1h-1zM332 289h1v1h-1zM340 289h1v1h-1zM348 289h1v1h-1zM356 289h1v1h-1zM364 289h1v1h-1zM372 289h1v1h-1zM380 289h1v1h-1zM388 289h1v1h-1zM396 289h1v1h-1zM404 289h1v1h-1zM412 289h1v1h-1zM420 289h1v1h-1zM428 289h1v1h-1zM436 289h1v1h-1zM444 289h1v1h-1zM452 289h1v1h-1zM460 289h1v1h-1zM468 289h1v1h-1zM476 289h1v1h-1zM484 289h1v1h-1zM492 289h1v1h-1zM500 289h1v1h-1zM508 289h1v1h-1zM516 289h1v1h-1zM524 289h1v1h-1zM532 289h1v1h-1zM540 289h1v1h-1zM548 289h1v1h-1zM556 289h1v1h-1zM564 289h1v1h-1zM572 289h1v1h-1zM580 289h1v1h-1zM588 289h1v1h-1zM596 289h1v1h-1zM604 289h1v1h-1zM612 289h1v1h-1zM620 289h1v1h-1zM628 289h1v1h-1zM636 289h1v1h-1zM644 289h1v1h-1zM652 289h1v1h-1zM660 289h1v1h-1zM668 289h1v1h-1zM676 289h1v1h-1zM684 289h1v1h-1zM692 289h1v1h-1zM700 289h1v1h-1zM708 289h1v1h-1zM716 289h1v1h-1zM724 289h1v1h-1zM732 289h1v1h-1zM740 289h1v1h-1zM748 289h1v1h-1zM756 289h1v1h-1zM764 289h1v1h-1zM772 289h1v1h-1zM780 289h1v1h-1zM788 289h1v1h-1zM796 289h1v1h-1zM804 289h1v1h-1zM812 289h1v1h-1zM820 289h1v1h-1zM828 289h1v1h-1zM836 289h1v1h-1zM844 289h1v1h-1zM852 289h1v1h-1zM860 289h1v1h-1zM868 289h1v1h-1zM876 289h1v1h-1zM884 289h1v1h-1zM892 289h1v1h-1zM900 289h1v1h-1zM908 289h1v1h-1zM916 289h1v1h-1zM924 289h1v1h-1zM932 289h1v1h-1zM940 289h1v1h-1zM948 289h1v1h-1zM956 289h1v1h-1zM964 289h1v1h-1zM972 289h1v1h-1zM980 289h1v1h-1zM988 289h1v1h-1zM996 289h1v1h-1zM1004 289h1v1h-1zM1012 289h1v1h-1zM1020 289h1v1h-1zM1028 289h1v1h-1zM1036 289h1v1h-1zM1044 289h1v1h-1zM1052 289h1v1h-1zM1060 289h1v1h-1zM1068 289h1v1h-1zM1076 289h1v1h-1zM1084 289h1v1h-1zM1092 289h1v1h-1zM1100 289h1v1h-1zM1108 289h1v1h-1zM1116 289h1v1h-1zM1124 289h1v1h-1zM1132 289h1v1h-1zM43 304h2v1h-2zM75 304h2v1h-2zM115 304h2v1h-2zM155 304h2v1h-2zM195 304h2v1h-2zM235 304h2v1h-2zM275 304h2v1h-2zM315 304h2v1h-2zM355 304h2v1h-2zM427 304h2v1h-2zM467 304h2v1h-2zM507 304h2v1h-2zM547 304h2v1h-2zM587 304h2v1h-2zM627 304h2v1h-2zM667 304h2v1h-2zM707 304h2v1h-2zM787 304h2v1h-2zM827 304h2v1h-2zM867 304h2v1h-2zM939 304h2v1h-2zM979 304h2v1h-2zM1019 304h2v1h-2zM1051 304h2v1h-2zM1083 304h2v1h-2zM1123 304h2v1h-2zM12 319h1v1h-1zM20 319h1v1h-1zM28 319h1v1h-1zM36 319h1v1h-1zM44 319h1v1h-1zM52 319h1v1h-1zM60 319h1v1h-1zM68 319h1v1h-1zM76 319h1v1h-1zM84 319h1v1h-1zM92 319h1v1h-1zM100 319h1v1h-1zM108 319h1v1h-1zM116 319h1v1h-1zM124 319h1v1h-1zM132 319h1v1h-1zM140 319h1v1h-1zM148 319h1v1h-1zM156 319h1v1h-1zM164 319h1v1h-1zM172 319h1v1h-1zM180 319h1v1h-1zM188 319h1v1h-1zM196 319h1v1h-1zM204 319h1v1h-1zM212 319h1v1h-1zM220 319h1v1h-1zM228 319h1v1h-1zM236 319h1v1h-1zM244 319h1v1h-1zM252 319h1v1h-1zM260 319h1v1h-1zM268 319h1v1h-1zM276 319h1v1h-1zM284 319h1v1h-1zM292 319h1v1h-1zM300 319h1v1h-1zM308 319h1v1h-1zM316 319h1v1h-1zM324 319h1v1h-1zM332 319h1v1h-1zM340 319h1v1h-1zM348 319h1v1h-1zM356 319h1v1h-1zM364 319h1v1h-1zM372 319h1v1h-1zM380 319h1v1h-1zM388 319h1v1h-1zM396 319h1v1h-1zM404 319h1v1h-1zM412 319h1v1h-1zM420 319h1v1h-1zM428 319h1v1h-1zM436 319h1v1h-1zM444 319h1v1h-1zM452 319h1v1h-1zM460 319h1v1h-1zM468 319h1v1h-1zM476 319h1v1h-1zM484 319h1v1h-1zM492 319h1v1h-1zM500 319h1v1h-1zM508 319h1v1h-1zM516 319h1v1h-1zM524 319h1v1h-1zM532 319h1v1h-1zM540 319h1v1h-1zM548 319h1v1h-1zM556 319h1v1h-1zM564 319h1v1h-1zM572 319h1v1h-1zM580 319h1v1h-1zM588 319h1v1h-1zM596 319h1v1h-1zM604 319h1v1h-1zM612 319h1v1h-1zM620 319h1v1h-1zM628 319h1v1h-1zM636 319h1v1h-1zM644 319h1v1h-1zM652 319h1v1h-1zM660 319h1v1h-1zM668 319h1v1h-1zM676 319h1v1h-1zM684 319h1v1h-1zM692 319h1v1h-1zM700 319h1v1h-1zM708 319h1v1h-1zM716 319h1v1h-1zM724 319h1v1h-1zM732 319h1v1h-1zM740 319h1v1h-1zM748 319h1v1h-1zM756 319h1v1h-1zM764 319h1v1h-1zM772 319h1v1h-1zM780 319h1v1h-1zM788 319h1v1h-1zM796 319h1v1h-1zM804 319h1v1h-1zM812 319h1v1h-1zM820 319h1v1h-1zM828 319h1v1h-1zM836 319h1v1h-1zM844 319h1v1h-1zM852 319h1v1h-1zM860 319h1v1h-1zM868 319h1v1h-1zM876 319h1v1h-1zM884 319h1v1h-1zM892 319h1v1h-1zM900 319h1v1h-1zM908 319h1v1h-1zM916 319h1v1h-1zM924 319h1v1h-1zM932 319h1v1h-1zM940 319h1v1h-1zM948 319h1v1h-1zM956 319h1v1h-1zM964 319h1v1h-1zM972 319h1v1h-1zM980 319h1v1h-1zM988 319h1v1h-1zM996 319h1v1h-1zM1004 319h1v1h-1zM1012 319h1v1h-1zM1020 319h1v1h-1zM1028 319h1v1h-1zM1036 319h1v1h-1zM1044 319h1v1h-1zM1052 319h1v1h-1zM1060 319h1v1h-1zM1068 319h1v1h-1zM1076 319h1v1h-1zM1084 319h1v1h-1zM1092 319h1v1h-1zM1100 319h1v1h-1zM1108 319h1v1h-1zM1116 319h1v1h-1zM1124 319h1v1h-1zM1132 319h1v1h-1zM43 335h2v1h-2zM75 335h2v1h-2zM115 335h2v1h-2zM155 335h2v1h-2zM195 335h2v1h-2zM235 335h2v1h-2zM275 335h2v1h-2zM315 335h2v1h-2zM355 335h2v1h-2zM427 335h2v1h-2zM467 335h2v1h-2zM507 335h2v1h-2zM547 335h2v1h-2zM587 335h2v1h-2zM627 335h2v1h-2zM667 335h2v1h-2zM707 335h2v1h-2zM787 335h2v1h-2zM827 335h2v1h-2zM867 335h2v1h-2zM939 335h2v1h-2zM979 335h2v1h-2zM1019 335h2v1h-2zM1051 335h2v1h-2zM1083 335h2v1h-2zM1123 335h2v1h-2zM12 350h1v1h-1zM20 350h1v1h-1zM28 350h1v1h-1zM36 350h1v1h-1zM44 350h1v1h-1zM52 350h1v1h-1zM60 350h1v1h-1zM68 350h1v1h-1zM76 350h1v1h-1zM84 350h1v1h-1zM92 350h1v1h-1zM100 350h1v1h-1zM108 350h1v1h-1zM116 350h1v1h-1zM124 350h1v1h-1zM132 350h1v1h-1zM140 350h1v1h-1zM148 350h1v1h-1zM156 350h1v1h-1zM164 350h1v1h-1zM172 350h1v1h-1zM180 350h1v1h-1zM188 350h1v1h-1zM196 350h1v1h-1zM204 350h1v1h-1zM212 350h1v1h-1zM220 350h1v1h-1zM228 350h1v1h-1zM236 350h1v1h-1zM244 350h1v1h-1zM252 350h1v1h-1zM260 350h1v1h-1zM268 350h1v1h-1zM276 350h1v1h-1zM284 350h1v1h-1zM292 350h1v1h-1zM300 350h1v1h-1zM308 350h1v1h-1zM316 350h1v1h-1zM324 350h1v1h-1zM332 350h1v1h-1zM340 350h1v1h-1zM348 350h1v1h-1zM356 350h1v1h-1zM364 350h1v1h-1zM372 350h1v1h-1zM380 350h1v1h-1zM388 350h1v1h-1zM396 350h1v1h-1zM404 350h1v1h-1zM412 350h1v1h-1zM420 350h1v1h-1zM428 350h1v1h-1zM436 350h1v1h-1zM444 350h1v1h-1zM452 350h1v1h-1zM460 350h1v1h-1zM468 350h1v1h-1zM476 350h1v1h-1zM484 350h1v1h-1zM492 350h1v1h-1zM500 350h1v1h-1zM508 350h1v1h-1zM516 350h1v1h-1zM524 350h1v1h-1zM532 350h1v1h-1zM540 350h1v1h-1zM548 350h1v1h-1zM556 350h1v1h-1zM564 350h1v1h-1zM572 350h1v1h-1zM580 350h1v1h-1zM588 350h1v1h-1zM596 350h1v1h-1zM604 350h1v1h-1zM612 350h1v1h-1zM620 350h1v1h-1zM628 350h1v1h-1zM636 350h1v1h-1zM644 350h1v1h-1zM652 350h1v1h-1zM660 350h1v1h-1zM668 350h1v1h-1zM676 350h1v1h-1zM684 350h1v1h-1zM692 350h1v1h-1zM700 350h1v1h-1zM708 350h1v1h-1zM716 350h1v1h-1zM724 350h1v1h-1zM732 350h1v1h-1zM740 350h1v1h-1zM748 350h1v1h-1zM756 350h1v1h-1zM764 350h1v1h-1zM772 350h1v1h-1zM780 350h1v1h-1zM788 350h1v1h-1zM796 350h1v1h-1zM804 350h1v1h-1zM812 350h1v1h-1zM820 350h1v1h-1zM828 350h1v1h-1zM836 350h1v1h-1zM844 350h1v1h-1zM852 350h1v1h-1zM860 350h1v1h-1zM868 350h1v1h-1zM876 350h1v1h-1zM884 350h1v1h-1zM892 350h1v1h-1zM900 350h1v1h-1zM908 350h1v1h-1zM916 350h1v1h-1zM924 350h1v1h-1zM932 350h1v1h-1zM940 350h1v1h-1zM948 350h1v1h-1zM956 350h1v1h-1zM964 350h1v1h-1zM972 350h1v1h-1zM980 350h1v1h-1zM988 350h1v1h-1zM996 350h1v1h-1zM1004 350h1v1h-1zM1012 350h1v1h-1zM1020 350h1v1h-1zM1028 350h1v1h-1zM1036 350h1v1h-1zM1044 350h1v1h-1zM1052 350h1v1h-1zM1060 350h1v1h-1zM1068 350h1v1h-1zM1076 350h1v1h-1zM1084 350h1v1h-1zM1092 350h1v1h-1zM1100 350h1v1h-1zM1108 350h1v1h-1zM1116 350h1v1h-1zM1124 350h1v1h-1zM1132 350h1v1h-1zM43 365h2v1h-2zM75 365h2v1h-2zM115 365h2v1h-2zM155 365h2v1h-2zM195 365h2v1h-2zM235 365h2v1h-2zM275 365h2v1h-2zM315 365h2v1h-2zM355 365h2v1h-2zM427 365h2v1h-2zM467 365h2v1h-2zM507 365h2v1h-2zM547 365h2v1h-2zM587 365h2v1h-2zM627 365h2v1h-2zM667 365h2v1h-2zM707 365h2v1h-2zM787 365h2v1h-2zM827 365h2v1h-2zM867 365h2v1h-2zM939 365h2v1h-2zM979 365h2v1h-2zM1019 365h2v1h-2zM1051 365h2v1h-2zM1083 365h2v1h-2zM1123 365h2v1h-2zM12 380h1v1h-1zM20 380h1v1h-1zM28 380h1v1h-1zM36 380h1v1h-1zM44 380h1v1h-1zM52 380h1v1h-1zM60 380h1v1h-1zM68 380h1v1h-1zM76 380h1v1h-1zM84 380h1v1h-1zM92 380h1v1h-1zM100 380h1v1h-1zM108 380h1v1h-1zM116 380h1v1h-1zM124 380h1v1h-1zM132 380h1v1h-1zM140 380h1v1h-1zM148 380h1v1h-1zM156 380h1v1h-1zM164 380h1v1h-1zM172 380h1v1h-1zM180 380h1v1h-1zM188 380h1v1h-1zM196 380h1v1h-1zM204 380h1v1h-1zM212 380h1v1h-1zM220 380h1v1h-1zM228 380h1v1h-1zM236 380h1v1h-1zM244 380h1v1h-1zM252 380h1v1h-1zM260 380h1v1h-1zM268 380h1v1h-1zM276 380h1v1h-1zM284 380h1v1h-1zM292 380h1v1h-1zM300 380h1v1h-1zM308 380h1v1h-1zM316 380h1v1h-1zM324 380h1v1h-1zM332 380h1v1h-1zM340 380h1v1h-1zM348 380h1v1h-1zM356 380h1v1h-1zM364 380h1v1h-1zM372 380h1v1h-1zM380 380h1v1h-1zM388 380h1v1h-1zM396 380h1v1h-1zM404 380h1v1h-1zM412 380h1v1h-1zM420 380h1v1h-1zM428 380h1v1h-1zM436 380h1v1h-1zM444 380h1v1h-1zM452 380h1v1h-1zM460 380h1v1h-1zM468 380h1v1h-1zM476 380h1v1h-1zM484 380h1v1h-1zM492 380h1v1h-1zM500 380h1v1h-1zM508 380h1v1h-1zM516 380h1v1h-1zM524 380h1v1h-1zM532 380h1v1h-1zM540 380h1v1h-1zM548 380h1v1h-1zM556 380h1v1h-1zM564 380h1v1h-1zM572 380h1v1h-1zM580 380h1v1h-1zM588 380h1v1h-1zM596 380h1v1h-1zM604 380h1v1h-1zM612 380h1v1h-1zM620 380h1v1h-1zM628 380h1v1h-1zM636 380h1v1h-1zM644 380h1v1h-1zM652 380h1v1h-1zM660 380h1v1h-1zM668 380h1v1h-1zM676 380h1v1h-1zM684 380h1v1h-1zM692 380h1v1h-1zM700 380h1v1h-1zM708 380h1v1h-1zM716 380h1v1h-1zM724 380h1v1h-1zM732 380h1v1h-1zM740 380h1v1h-1zM748 380h1v1h-1zM756 380h1v1h-1zM764 380h1v1h-1zM772 380h1v1h-1zM780 380h1v1h-1zM788 380h1v1h-1zM796 380h1v1h-1zM804 380h1v1h-1zM812 380h1v1h-1zM820 380h1v1h-1zM828 380h1v1h-1zM836 380h1v1h-1zM844 380h1v1h-1zM852 380h1v1h-1zM860 380h1v1h-1zM868 380h1v1h-1zM876 380h1v1h-1zM884 380h1v1h-1zM892 380h1v1h-1zM900 380h1v1h-1zM908 380h1v1h-1zM916 380h1v1h-1zM924 380h1v1h-1zM932 380h1v1h-1zM940 380h1v1h-1zM948 380h1v1h-1zM956 380h1v1h-1zM964 380h1v1h-1zM972 380h1v1h-1zM980 380h1v1h-1zM988 380h1v1h-1zM996 380h1v1h-1zM1004 380h1v1h-1zM1012 380h1v1h-1zM1020 380h1v1h-1zM1028 380h1v1h-1zM1036 380h1v1h-1zM1044 380h1v1h-1zM1052 380h1v1h-1zM1060 380h1v1h-1zM1068 380h1v1h-1zM1076 380h1v1h-1zM1084 380h1v1h-1zM1092 380h1v1h-1zM1100 380h1v1h-1zM1108 380h1v1h-1zM1116 380h1v1h-1zM1124 380h1v1h-1zM1132 380h1v1h-1zM43 396h2v1h-2zM75 396h2v1h-2zM115 396h2v1h-2zM155 396h2v1h-2zM195 396h2v1h-2zM235 396h2v1h-2zM275 396h2v1h-2zM315 396h2v1h-2zM355 396h2v1h-2zM427 396h2v1h-2zM467 396h2v1h-2zM507 396h2v1h-2zM547 396h2v1h-2zM587 396h2v1h-2zM627 396h2v1h-2zM667 396h2v1h-2zM707 396h2v1h-2zM787 396h2v1h-2zM827 396h2v1h-2zM867 396h2v1h-2zM939 396h2v1h-2zM979 396h2v1h-2zM1019 396h2v1h-2zM1051 396h2v1h-2zM1083 396h2v1h-2zM1123 396h2v1h-2zM12 411h1v1h-1zM20 411h1v1h-1zM28 411h1v1h-1zM36 411h1v1h-1zM44 411h1v1h-1zM52 411h1v1h-1zM60 411h1v1h-1zM68 411h1v1h-1zM76 411h1v1h-1zM84 411h1v1h-1zM92 411h1v1h-1zM100 411h1v1h-1zM108 411h1v1h-1zM116 411h1v1h-1zM124 411h1v1h-1zM132 411h1v1h-1zM140 411h1v1h-1zM148 411h1v1h-1zM156 411h1v1h-1zM164 411h1v1h-1zM172 411h1v1h-1zM180 411h1v1h-1zM188 411h1v1h-1zM196 411h1v1h-1zM204 411h1v1h-1zM212 411h1v1h-1zM220 411h1v1h-1zM228 411h1v1h-1zM236 411h1v1h-1zM244 411h1v1h-1zM252 411h1v1h-1zM260 411h1v1h-1zM268 411h1v1h-1zM276 411h1v1h-1zM284 411h1v1h-1zM292 411h1v1h-1zM300 411h1v1h-1zM308 411h1v1h-1zM316 411h1v1h-1zM324 411h1v1h-1zM332 411h1v1h-1zM340 411h1v1h-1zM348 411h1v1h-1zM356 411h1v1h-1zM364 411h1v1h-1zM372 411h1v1h-1zM380 411h1v1h-1zM388 411h1v1h-1zM396 411h1v1h-1zM404 411h1v1h-1zM412 411h1v1h-1zM420 411h1v1h-1zM428 411h1v1h-1zM436 411h1v1h-1zM444 411h1v1h-1zM452 411h1v1h-1zM460 411h1v1h-1zM468 411h1v1h-1zM476 411h1v1h-1zM484 411h1v1h-1zM492 411h1v1h-1zM500 411h1v1h-1zM508 411h1v1h-1zM516 411h1v1h-1zM524 411h1v1h-1zM532 411h1v1h-1zM540 411h1v1h-1zM548 411h1v1h-1zM556 411h1v1h-1zM564 411h1v1h-1zM572 411h1v1h-1zM580 411h1v1h-1zM588 411h1v1h-1zM596 411h1v1h-1zM604 411h1v1h-1zM612 411h1v1h-1zM620 411h1v1h-1zM628 411h1v1h-1zM636 411h1v1h-1zM644 411h1v1h-1zM652 411h1v1h-1zM660 411h1v1h-1zM668 411h1v1h-1zM676 411h1v1h-1zM684 411h1v1h-1zM692 411h1v1h-1zM700 411h1v1h-1zM708 411h1v1h-1zM716 411h1v1h-1zM724 411h1v1h-1zM732 411h1v1h-1zM740 411h1v1h-1zM748 411h1v1h-1zM756 411h1v1h-1zM764 411h1v1h-1zM772 411h1v1h-1zM780 411h1v1h-1zM788 411h1v1h-1zM796 411h1v1h-1zM804 411h1v1h-1zM812 411h1v1h-1zM820 411h1v1h-1zM828 411h1v1h-1zM836 411h1v1h-1zM844 411h1v1h-1zM852 411h1v1h-1zM860 411h1v1h-1zM868 411h1v1h-1zM876 411h1v1h-1zM884 411h1v1h-1zM892 411h1v1h-1zM900 411h1v1h-1zM908 411h1v1h-1zM916 411h1v1h-1zM924 411h1v1h-1zM932 411h1v1h-1zM940 411h1v1h-1zM948 411h1v1h-1zM956 411h1v1h-1zM964 411h1v1h-1zM972 411h1v1h-1zM980 411h1v1h-1zM988 411h1v1h-1zM996 411h1v1h-1zM1004 411h1v1h-1zM1012 411h1v1h-1zM1020 411h1v1h-1zM1028 411h1v1h-1zM1036 411h1v1h-1zM1044 411h1v1h-1zM1052 411h1v1h-1zM1060 411h1v1h-1zM1068 411h1v1h-1zM1076 411h1v1h-1zM1084 411h1v1h-1zM1092 411h1v1h-1zM1100 411h1v1h-1zM1108 411h1v1h-1zM1116 411h1v1h-1zM1124 411h1v1h-1zM1132 411h1v1h-1zM43 426h2v1h-2zM75 426h2v1h-2zM115 426h2v1h-2zM155 426h2v1h-2zM195 426h2v1h-2zM235 426h2v1h-2zM275 426h2v1h-2zM315 426h2v1h-2zM355 426h2v1h-2zM427 426h2v1h-2zM467 426h2v1h-2zM507 426h2v1h-2zM547 426h2v1h-2zM587 426h2v1h-2zM627 426h2v1h-2zM667 426h2v1h-2zM707 426h2v1h-2zM787 426h2v1h-2zM827 426h2v1h-2zM867 426h2v1h-2zM939 426h2v1h-2zM979 426h2v1h-2zM1019 426h2v1h-2zM1051 426h2v1h-2zM1083 426h2v1h-2zM1123 426h2v1h-2zM12 481h1v1h-1zM20 481h1v1h-1zM28 481h1v1h-1zM36 481h1v1h-1zM44 481h1v1h-1zM52 481h1v1h-1zM60 481h1v1h-1zM68 481h1v1h-1zM76 481h1v1h-1zM84 481h1v1h-1zM92 481h1v1h-1zM100 481h1v1h-1zM108 481h1v1h-1zM116 481h1v1h-1zM124 481h1v1h-1zM132 481h1v1h-1zM140 481h1v1h-1zM148 481h1v1h-1zM156 481h1v1h-1zM164 481h1v1h-1zM172 481h1v1h-1zM180 481h1v1h-1zM188 481h1v1h-1zM196 481h1v1h-1zM204 481h1v1h-1zM212 481h1v1h-1zM220 481h1v1h-1zM228 481h1v1h-1zM236 481h1v1h-1zM244 481h1v1h-1zM252 481h1v1h-1zM260 481h1v1h-1zM268 481h1v1h-1zM276 481h1v1h-1zM284 481h1v1h-1zM292 481h1v1h-1zM300 481h1v1h-1zM308 481h1v1h-1zM316 481h1v1h-1zM324 481h1v1h-1zM332 481h1v1h-1zM340 481h1v1h-1zM348 481h1v1h-1zM356 481h1v1h-1zM364 481h1v1h-1zM372 481h1v1h-1zM380 481h1v1h-1zM388 481h1v1h-1zM396 481h1v1h-1zM404 481h1v1h-1zM412 481h1v1h-1zM420 481h1v1h-1zM428 481h1v1h-1zM436 481h1v1h-1zM444 481h1v1h-1zM452 481h1v1h-1zM460 481h1v1h-1zM468 481h1v1h-1zM476 481h1v1h-1zM484 481h1v1h-1zM492 481h1v1h-1zM500 481h1v1h-1zM508 481h1v1h-1zM516 481h1v1h-1zM524 481h1v1h-1zM532 481h1v1h-1zM540 481h1v1h-1zM548 481h1v1h-1zM556 481h1v1h-1zM564 481h1v1h-1zM572 481h1v1h-1zM580 481h1v1h-1zM588 481h1v1h-1zM596 481h1v1h-1zM604 481h1v1h-1zM612 481h1v1h-1zM620 481h1v1h-1zM628 481h1v1h-1zM636 481h1v1h-1zM644 481h1v1h-1zM652 481h1v1h-1zM660 481h1v1h-1zM668 481h1v1h-1zM676 481h1v1h-1zM684 481h1v1h-1zM692 481h1v1h-1zM700 481h1v1h-1zM708 481h1v1h-1zM716 481h1v1h-1zM724 481h1v1h-1zM732 481h1v1h-1zM740 481h1v1h-1zM748 481h1v1h-1zM756 481h1v1h-1zM764 481h1v1h-1zM772 481h1v1h-1zM780 481h1v1h-1zM788 481h1v1h-1zM796 481h1v1h-1zM804 481h1v1h-1zM812 481h1v1h-1zM820 481h1v1h-1zM828 481h1v1h-1zM836 481h1v1h-1zM844 481h1v1h-1zM852 481h1v1h-1zM860 481h1v1h-1zM868 481h1v1h-1zM876 481h1v1h-1zM884 481h1v1h-1zM892 481h1v1h-1zM900 481h1v1h-1zM908 481h1v1h-1zM916 481h1v1h-1zM924 481h1v1h-1zM932 481h1v1h-1zM940 481h1v1h-1zM948 481h1v1h-1zM956 481h1v1h-1zM964 481h1v1h-1zM972 481h1v1h-1zM980 481h1v1h-1zM988 481h1v1h-1zM996 481h1v1h-1zM1004 481h1v1h-1zM1012 481h1v1h-1zM1020 481h1v1h-1zM1028 481h1v1h-1zM1036 481h1v1h-1zM1044 481h1v1h-1zM1052 481h1v1h-1zM1060 481h1v1h-1zM1068 481h1v1h-1zM1076 481h1v1h-1zM1084 481h1v1h-1zM1092 481h1v1h-1zM1100 481h1v1h-1zM1108 481h1v1h-1zM1116 481h1v1h-1zM1124 481h1v1h-1zM1132 481h1v1h-1zM12 531h1v1h-1zM20 531h1v1h-1zM28 531h1v1h-1zM36 531h1v1h-1zM44 531h1v1h-1zM52 531h1v1h-1zM60 531h1v1h-1zM68 531h1v1h-1zM76 531h1v1h-1zM84 531h1v1h-1zM92 531h1v1h-1zM100 531h1v1h-1zM108 531h1v1h-1zM116 531h1v1h-1zM124 531h1v1h-1zM132 531h1v1h-1zM140 531h1v1h-1zM148 531h1v1h-1zM156 531h1v1h-1zM164 531h1v1h-1zM172 531h1v1h-1zM180 531h1v1h-1zM188 531h1v1h-1zM196 531h1v1h-1zM204 531h1v1h-1zM212 531h1v1h-1zM220 531h1v1h-1zM228 531h1v1h-1zM236 531h1v1h-1zM244 531h1v1h-1zM252 531h1v1h-1zM260 531h1v1h-1zM268 531h1v1h-1zM276 531h1v1h-1zM284 531h1v1h-1zM292 531h1v1h-1zM300 531h1v1h-1zM308 531h1v1h-1zM316 531h1v1h-1zM324 531h1v1h-1zM332 531h1v1h-1zM340 531h1v1h-1zM348 531h1v1h-1zM356 531h1v1h-1zM364 531h1v1h-1zM372 531h1v1h-1zM380 531h1v1h-1zM388 531h1v1h-1zM396 531h1v1h-1zM404 531h1v1h-1zM412 531h1v1h-1zM420 531h1v1h-1zM428 531h1v1h-1zM436 531h1v1h-1zM444 531h1v1h-1zM452 531h1v1h-1zM460 531h1v1h-1zM468 531h1v1h-1zM476 531h1v1h-1zM484 531h1v1h-1zM492 531h1v1h-1zM500 531h1v1h-1zM508 531h1v1h-1zM516 531h1v1h-1zM524 531h1v1h-1zM532 531h1v1h-1zM540 531h1v1h-1zM548 531h1v1h-1zM556 531h1v1h-1zM564 531h1v1h-1zM572 531h1v1h-1zM580 531h1v1h-1zM588 531h1v1h-1zM596 531h1v1h-1zM604 531h1v1h-1zM612 531h1v1h-1zM620 531h1v1h-1zM628 531h1v1h-1zM636 531h1v1h-1zM644 531h1v1h-1zM652 531h1v1h-1zM660 531h1v1h-1zM668 531h1v1h-1zM676 531h1v1h-1zM684 531h1v1h-1zM692 531h1v1h-1zM700 531h1v1h-1zM708 531h1v1h-1zM716 531h1v1h-1zM724 531h1v1h-1zM732 531h1v1h-1zM740 531h1v1h-1zM748 531h1v1h-1zM756 531h1v1h-1zM764 531h1v1h-1zM772 531h1v1h-1zM780 531h1v1h-1zM788 531h1v1h-1zM796 531h1v1h-1zM804 531h1v1h-1zM812 531h1v1h-1zM820 531h1v1h-1zM828 531h1v1h-1zM836 531h1v1h-1zM844 531h1v1h-1zM852 531h1v1h-1zM860 531h1v1h-1zM868 531h1v1h-1zM876 531h1v1h-1zM884 531h1v1h-1zM892 531h1v1h-1zM900 531h1v1h-1zM908 531h1v1h-1zM916 531h1v1h-1zM924 531h1v1h-1zM932 531h1v1h-1zM940 531h1v1h-1zM948 531h1v1h-1zM956 531h1v1h-1zM964 531h1v1h-1zM972 531h1v1h-1zM980 531h1v1h-1zM988 531h1v1h-1zM996 531h1v1h-1zM1004 531h1v1h-1zM1012 531h1v1h-1zM1020 531h1v1h-1zM1028 531h1v1h-1zM1036 531h1v1h-1zM1044 531h1v1h-1zM1052 531h1v1h-1zM1060 531h1v1h-1zM1068 531h1v1h-1zM1076 531h1v1h-1zM1084 531h1v1h-1zM1092 531h1v1h-1zM1100 531h1v1h-1zM1108 531h1v1h-1zM1116 531h1v1h-1zM1124 531h1v1h-1zM1132 531h1v1h-1zM43 457h2v1h-2zM75 457h2v1h-2zM115 457h2v1h-2zM155 457h2v1h-2zM195 457h2v1h-2zM235 457h2v1h-2zM275 457h2v1h-2zM315 457h2v1h-2zM355 457h2v1h-2zM427 457h2v1h-2zM467 457h2v1h-2zM507 457h2v1h-2zM547 457h2v1h-2zM587 457h2v1h-2zM627 457h2v1h-2zM667 457h2v1h-2zM707 457h2v1h-2zM787 457h2v1h-2zM827 457h2v1h-2zM867 457h2v1h-2zM939 457h2v1h-2zM979 457h2v1h-2zM1019 457h2v1h-2zM1051 457h2v1h-2zM1083 457h2v1h-2zM1123 457h2v1h-2zM43 506h2v1h-2zM75 506h2v1h-2zM115 506h2v1h-2zM155 506h2v1h-2zM195 506h2v1h-2zM235 506h2v1h-2zM275 506h2v1h-2zM315 506h2v1h-2zM355 506h2v1h-2zM427 506h2v1h-2zM467 506h2v1h-2zM507 506h2v1h-2zM547 506h2v1h-2zM587 506h2v1h-2zM627 506h2v1h-2zM667 506h2v1h-2zM707 506h2v1h-2zM787 506h2v1h-2zM827 506h2v1h-2zM867 506h2v1h-2zM939 506h2v1h-2zM979 506h2v1h-2zM1019 506h2v1h-2zM1051 506h2v1h-2zM1083 506h2v1h-2zM1123 506h2v1h-2zM43 556h2v1h-2zM75 556h2v1h-2zM115 556h2v1h-2zM155 556h2v1h-2zM195 556h2v1h-2zM235 556h2v1h-2zM275 556h2v1h-2zM315 556h2v1h-2zM355 556h2v1h-2zM427 556h2v1h-2zM467 556h2v1h-2zM507 556h2v1h-2zM547 556h2v1h-2zM587 556h2v1h-2zM627 556h2v1h-2zM667 556h2v1h-2zM707 556h2v1h-2zM787 556h2v1h-2zM827 556h2v1h-2zM867 556h2v1h-2zM939 556h2v1h-2zM979 556h2v1h-2zM1019 556h2v1h-2zM1051 556h2v1h-2zM1083 556h2v1h-2zM1123 556h2v1h-2zM12 581h1v1h-1zM20 581h1v1h-1zM28 581h1v1h-1zM36 581h1v1h-1zM44 581h1v1h-1zM52 581h1v1h-1zM60 581h1v1h-1zM68 581h1v1h-1zM76 581h1v1h-1zM84 581h1v1h-1zM92 581h1v1h-1zM100 581h1v1h-1zM108 581h1v1h-1zM116 581h1v1h-1zM124 581h1v1h-1zM132 581h1v1h-1zM140 581h1v1h-1zM148 581h1v1h-1zM156 581h1v1h-1zM164 581h1v1h-1zM172 581h1v1h-1zM180 581h1v1h-1zM188 581h1v1h-1zM196 581h1v1h-1zM204 581h1v1h-1zM212 581h1v1h-1zM220 581h1v1h-1zM228 581h1v1h-1zM236 581h1v1h-1zM244 581h1v1h-1zM252 581h1v1h-1zM260 581h1v1h-1zM268 581h1v1h-1zM276 581h1v1h-1zM284 581h1v1h-1zM292 581h1v1h-1zM300 581h1v1h-1zM308 581h1v1h-1zM316 581h1v1h-1zM324 581h1v1h-1zM332 581h1v1h-1zM340 581h1v1h-1zM348 581h1v1h-1zM356 581h1v1h-1zM364 581h1v1h-1zM372 581h1v1h-1zM380 581h1v1h-1zM388 581h1v1h-1zM396 581h1v1h-1zM404 581h1v1h-1zM412 581h1v1h-1zM420 581h1v1h-1zM428 581h1v1h-1zM436 581h1v1h-1zM444 581h1v1h-1zM452 581h1v1h-1zM460 581h1v1h-1zM468 581h1v1h-1zM476 581h1v1h-1zM484 581h1v1h-1zM492 581h1v1h-1zM500 581h1v1h-1zM508 581h1v1h-1zM516 581h1v1h-1zM524 581h1v1h-1zM532 581h1v1h-1zM540 581h1v1h-1zM548 581h1v1h-1zM556 581h1v1h-1zM564 581h1v1h-1zM572 581h1v1h-1zM580 581h1v1h-1zM588 581h1v1h-1zM596 581h1v1h-1zM604 581h1v1h-1zM612 581h1v1h-1zM620 581h1v1h-1zM628 581h1v1h-1zM636 581h1v1h-1zM644 581h1v1h-1zM652 581h1v1h-1zM660 581h1v1h-1zM668 581h1v1h-1zM676 581h1v1h-1zM684 581h1v1h-1zM692 581h1v1h-1zM700 581h1v1h-1zM708 581h1v1h-1zM716 581h1v1h-1zM724 581h1v1h-1zM732 581h1v1h-1zM740 581h1v1h-1zM748 581h1v1h-1zM756 581h1v1h-1zM764 581h1v1h-1zM772 581h1v1h-1zM780 581h1v1h-1zM788 581h1v1h-1zM796 581h1v1h-1zM804 581h1v1h-1zM812 581h1v1h-1zM820 581h1v1h-1zM828 581h1v1h-1zM836 581h1v1h-1zM844 581h1v1h-1zM852 581h1v1h-1zM860 581h1v1h-1zM868 581h1v1h-1zM876 581h1v1h-1zM884 581h1v1h-1zM892 581h1v1h-1zM900 581h1v1h-1zM908 581h1v1h-1zM916 581h1v1h-1zM924 581h1v1h-1zM932 581h1v1h-1zM940 581h1v1h-1zM948 581h1v1h-1zM956 581h1v1h-1zM964 581h1v1h-1zM972 581h1v1h-1zM980 581h1v1h-1zM988 581h1v1h-1zM996 581h1v1h-1zM1004 581h1v1h-1zM1012 581h1v1h-1zM1020 581h1v1h-1zM1028 581h1v1h-1zM1036 581h1v1h-1zM1044 581h1v1h-1zM1052 581h1v1h-1zM1060 581h1v1h-1zM1068 581h1v1h-1zM1076 581h1v1h-1zM1084 581h1v1h-1zM1092 581h1v1h-1zM1100 581h1v1h-1zM1108 581h1v1h-1zM1116 581h1v1h-1zM1124 581h1v1h-1zM1132 581h1v1h-1zM12 609h1v1h-1zM20 609h1v1h-1zM28 609h1v1h-1zM36 609h1v1h-1zM44 609h1v1h-1zM52 609h1v1h-1zM60 609h1v1h-1zM68 609h1v1h-1zM76 609h1v1h-1zM84 609h1v1h-1zM92 609h1v1h-1zM100 609h1v1h-1zM108 609h1v1h-1zM116 609h1v1h-1zM124 609h1v1h-1zM132 609h1v1h-1zM140 609h1v1h-1zM148 609h1v1h-1zM156 609h1v1h-1zM164 609h1v1h-1zM172 609h1v1h-1zM180 609h1v1h-1zM188 609h1v1h-1zM196 609h1v1h-1zM204 609h1v1h-1zM212 609h1v1h-1zM220 609h1v1h-1zM228 609h1v1h-1zM236 609h1v1h-1zM244 609h1v1h-1zM252 609h1v1h-1zM260 609h1v1h-1zM268 609h1v1h-1zM276 609h1v1h-1zM284 609h1v1h-1zM292 609h1v1h-1zM300 609h1v1h-1zM308 609h1v1h-1zM316 609h1v1h-1zM324 609h1v1h-1zM332 609h1v1h-1zM340 609h1v1h-1zM348 609h1v1h-1zM356 609h1v1h-1zM364 609h1v1h-1zM372 609h1v1h-1zM380 609h1v1h-1zM388 609h1v1h-1zM396 609h1v1h-1zM404 609h1v1h-1zM412 609h1v1h-1zM420 609h1v1h-1zM428 609h1v1h-1zM436 609h1v1h-1zM444 609h1v1h-1zM452 609h1v1h-1zM460 609h1v1h-1zM468 609h1v1h-1zM476 609h1v1h-1zM484 609h1v1h-1zM492 609h1v1h-1zM500 609h1v1h-1zM508 609h1v1h-1zM516 609h1v1h-1zM524 609h1v1h-1zM532 609h1v1h-1zM540 609h1v1h-1zM548 609h1v1h-1zM556 609h1v1h-1zM564 609h1v1h-1zM572 609h1v1h-1zM580 609h1v1h-1zM588 609h1v1h-1zM596 609h1v1h-1zM604 609h1v1h-1zM612 609h1v1h-1zM620 609h1v1h-1zM628 609h1v1h-1zM636 609h1v1h-1zM644 609h1v1h-1zM652 609h1v1h-1zM660 609h1v1h-1zM668 609h1v1h-1zM676 609h1v1h-1zM684 609h1v1h-1zM692 609h1v1h-1zM700 609h1v1h-1zM708 609h1v1h-1zM716 609h1v1h-1zM724 609h1v1h-1zM732 609h1v1h-1zM740 609h1v1h-1zM748 609h1v1h-1zM756 609h1v1h-1zM764 609h1v1h-1zM772 609h1v1h-1zM780 609h1v1h-1zM788 609h1v1h-1zM796 609h1v1h-1zM804 609h1v1h-1zM812 609h1v1h-1zM820 609h1v1h-1zM828 609h1v1h-1zM836 609h1v1h-1zM844 609h1v1h-1zM852 609h1v1h-1zM860 609h1v1h-1zM868 609h1v1h-1zM876 609h1v1h-1zM884 609h1v1h-1zM892 609h1v1h-1zM900 609h1v1h-1zM908 609h1v1h-1zM916 609h1v1h-1zM924 609h1v1h-1zM932 609h1v1h-1zM940 609h1v1h-1zM948 609h1v1h-1zM956 609h1v1h-1zM964 609h1v1h-1zM972 609h1v1h-1zM980 609h1v1h-1zM988 609h1v1h-1zM996 609h1v1h-1zM1004 609h1v1h-1zM1012 609h1v1h-1zM1020 609h1v1h-1zM1028 609h1v1h-1zM1036 609h1v1h-1zM1044 609h1v1h-1zM1052 609h1v1h-1zM1060 609h1v1h-1zM1068 609h1v1h-1zM1076 609h1v1h-1zM1084 609h1v1h-1zM1092 609h1v1h-1zM1100 609h1v1h-1zM1108 609h1v1h-1zM1116 609h1v1h-1zM1124 609h1v1h-1zM1132 609h1v1h-1zM12 637h1v1h-1zM20 637h1v1h-1zM28 637h1v1h-1zM36 637h1v1h-1zM44 637h1v1h-1zM52 637h1v1h-1zM60 637h1v1h-1zM68 637h1v1h-1zM76 637h1v1h-1zM84 637h1v1h-1zM92 637h1v1h-1zM100 637h1v1h-1zM108 637h1v1h-1zM116 637h1v1h-1zM124 637h1v1h-1zM132 637h1v1h-1zM140 637h1v1h-1zM148 637h1v1h-1zM156 637h1v1h-1zM164 637h1v1h-1zM172 637h1v1h-1zM180 637h1v1h-1zM188 637h1v1h-1zM196 637h1v1h-1zM204 637h1v1h-1zM212 637h1v1h-1zM220 637h1v1h-1zM228 637h1v1h-1zM236 637h1v1h-1zM244 637h1v1h-1zM252 637h1v1h-1zM260 637h1v1h-1zM268 637h1v1h-1zM276 637h1v1h-1zM284 637h1v1h-1zM292 637h1v1h-1zM300 637h1v1h-1zM308 637h1v1h-1zM316 637h1v1h-1zM324 637h1v1h-1zM332 637h1v1h-1zM340 637h1v1h-1zM348 637h1v1h-1zM356 637h1v1h-1zM364 637h1v1h-1zM372 637h1v1h-1zM380 637h1v1h-1zM388 637h1v1h-1zM396 637h1v1h-1zM404 637h1v1h-1zM412 637h1v1h-1zM420 637h1v1h-1zM428 637h1v1h-1zM436 637h1v1h-1zM444 637h1v1h-1zM452 637h1v1h-1zM460 637h1v1h-1zM468 637h1v1h-1zM476 637h1v1h-1zM484 637h1v1h-1zM492 637h1v1h-1zM500 637h1v1h-1zM508 637h1v1h-1zM516 637h1v1h-1zM524 637h1v1h-1zM532 637h1v1h-1zM540 637h1v1h-1zM548 637h1v1h-1zM556 637h1v1h-1zM564 637h1v1h-1zM572 637h1v1h-1zM580 637h1v1h-1zM588 637h1v1h-1zM596 637h1v1h-1zM604 637h1v1h-1zM612 637h1v1h-1zM620 637h1v1h-1zM628 637h1v1h-1zM636 637h1v1h-1zM644 637h1v1h-1zM652 637h1v1h-1zM660 637h1v1h-1zM668 637h1v1h-1zM676 637h1v1h-1zM684 637h1v1h-1zM692 637h1v1h-1zM700 637h1v1h-1zM708 637h1v1h-1zM716 637h1v1h-1zM724 637h1v1h-1zM732 637h1v1h-1zM740 637h1v1h-1zM748 637h1v1h-1zM756 637h1v1h-1zM764 637h1v1h-1zM772 637h1v1h-1zM780 637h1v1h-1zM788 637h1v1h-1zM796 637h1v1h-1zM804 637h1v1h-1zM812 637h1v1h-1zM820 637h1v1h-1zM828 637h1v1h-1zM836 637h1v1h-1zM844 637h1v1h-1zM852 637h1v1h-1zM860 637h1v1h-1zM868 637h1v1h-1zM876 637h1v1h-1zM884 637h1v1h-1zM892 637h1v1h-1zM900 637h1v1h-1zM908 637h1v1h-1zM916 637h1v1h-1zM924 637h1v1h-1zM932 637h1v1h-1zM940 637h1v1h-1zM948 637h1v1h-1zM956 637h1v1h-1zM964 637h1v1h-1zM972 637h1v1h-1zM980 637h1v1h-1zM988 637h1v1h-1zM996 637h1v1h-1zM1004 637h1v1h-1zM1012 637h1v1h-1zM1020 637h1v1h-1zM1028 637h1v1h-1zM1036 637h1v1h-1zM1044 637h1v1h-1zM1052 637h1v1h-1zM1060 637h1v1h-1zM1068 637h1v1h-1zM1076 637h1v1h-1zM1084 637h1v1h-1zM1092 637h1v1h-1zM1100 637h1v1h-1zM1108 637h1v1h-1zM1116 637h1v1h-1zM1124 637h1v1h-1zM1132 637h1v1h-1zM12 665h1v1h-1zM20 665h1v1h-1zM28 665h1v1h-1zM36 665h1v1h-1zM44 665h1v1h-1zM52 665h1v1h-1zM60 665h1v1h-1zM68 665h1v1h-1zM76 665h1v1h-1zM84 665h1v1h-1zM92 665h1v1h-1zM100 665h1v1h-1zM108 665h1v1h-1zM116 665h1v1h-1zM124 665h1v1h-1zM132 665h1v1h-1zM140 665h1v1h-1zM148 665h1v1h-1zM156 665h1v1h-1zM164 665h1v1h-1zM172 665h1v1h-1zM180 665h1v1h-1zM188 665h1v1h-1zM196 665h1v1h-1zM204 665h1v1h-1zM212 665h1v1h-1zM220 665h1v1h-1zM228 665h1v1h-1zM236 665h1v1h-1zM244 665h1v1h-1zM252 665h1v1h-1zM260 665h1v1h-1zM268 665h1v1h-1zM276 665h1v1h-1zM284 665h1v1h-1zM292 665h1v1h-1zM300 665h1v1h-1zM308 665h1v1h-1zM316 665h1v1h-1zM324 665h1v1h-1zM332 665h1v1h-1zM340 665h1v1h-1zM348 665h1v1h-1zM356 665h1v1h-1zM364 665h1v1h-1zM372 665h1v1h-1zM380 665h1v1h-1zM388 665h1v1h-1zM396 665h1v1h-1zM404 665h1v1h-1zM412 665h1v1h-1zM420 665h1v1h-1zM428 665h1v1h-1zM436 665h1v1h-1zM444 665h1v1h-1zM452 665h1v1h-1zM460 665h1v1h-1zM468 665h1v1h-1zM476 665h1v1h-1zM484 665h1v1h-1zM492 665h1v1h-1zM500 665h1v1h-1zM508 665h1v1h-1zM516 665h1v1h-1zM524 665h1v1h-1zM532 665h1v1h-1zM540 665h1v1h-1zM548 665h1v1h-1zM556 665h1v1h-1zM564 665h1v1h-1zM572 665h1v1h-1zM580 665h1v1h-1zM588 665h1v1h-1zM596 665h1v1h-1zM604 665h1v1h-1zM612 665h1v1h-1zM620 665h1v1h-1zM628 665h1v1h-1zM636 665h1v1h-1zM644 665h1v1h-1zM652 665h1v1h-1zM660 665h1v1h-1zM668 665h1v1h-1zM676 665h1v1h-1zM684 665h1v1h-1zM692 665h1v1h-1zM700 665h1v1h-1zM708 665h1v1h-1zM716 665h1v1h-1zM724 665h1v1h-1zM732 665h1v1h-1zM740 665h1v1h-1zM748 665h1v1h-1zM756 665h1v1h-1zM764 665h1v1h-1zM772 665h1v1h-1zM780 665h1v1h-1zM788 665h1v1h-1zM796 665h1v1h-1zM804 665h1v1h-1zM812 665h1v1h-1zM820 665h1v1h-1zM828 665h1v1h-1zM836 665h1v1h-1zM844 665h1v1h-1zM852 665h1v1h-1zM860 665h1v1h-1zM868 665h1v1h-1zM876 665h1v1h-1zM884 665h1v1h-1zM892 665h1v1h-1zM900 665h1v1h-1zM908 665h1v1h-1zM916 665h1v1h-1zM924 665h1v1h-1zM932 665h1v1h-1zM940 665h1v1h-1zM948 665h1v1h-1zM956 665h1v1h-1zM964 665h1v1h-1zM972 665h1v1h-1zM980 665h1v1h-1zM988 665h1v1h-1zM996 665h1v1h-1zM1004 665h1v1h-1zM1012 665h1v1h-1zM1020 665h1v1h-1zM1028 665h1v1h-1zM1036 665h1v1h-1zM1044 665h1v1h-1zM1052 665h1v1h-1zM1060 665h1v1h-1zM1068 665h1v1h-1zM1076 665h1v1h-1zM1084 665h1v1h-1zM1092 665h1v1h-1zM1100 665h1v1h-1zM1108 665h1v1h-1zM1116 665h1v1h-1zM1124 665h1v1h-1zM1132 665h1v1h-1zM12 693h1v1h-1zM20 693h1v1h-1zM28 693h1v1h-1zM36 693h1v1h-1zM44 693h1v1h-1zM52 693h1v1h-1zM60 693h1v1h-1zM68 693h1v1h-1zM76 693h1v1h-1zM84 693h1v1h-1zM92 693h1v1h-1zM100 693h1v1h-1zM108 693h1v1h-1zM116 693h1v1h-1zM124 693h1v1h-1zM132 693h1v1h-1zM140 693h1v1h-1zM148 693h1v1h-1zM156 693h1v1h-1zM164 693h1v1h-1zM172 693h1v1h-1zM180 693h1v1h-1zM188 693h1v1h-1zM196 693h1v1h-1zM204 693h1v1h-1zM212 693h1v1h-1zM220 693h1v1h-1zM228 693h1v1h-1zM236 693h1v1h-1zM244 693h1v1h-1zM252 693h1v1h-1zM260 693h1v1h-1zM268 693h1v1h-1zM276 693h1v1h-1zM284 693h1v1h-1zM292 693h1v1h-1zM300 693h1v1h-1zM308 693h1v1h-1zM316 693h1v1h-1zM324 693h1v1h-1zM332 693h1v1h-1zM340 693h1v1h-1zM348 693h1v1h-1zM356 693h1v1h-1zM364 693h1v1h-1zM372 693h1v1h-1zM380 693h1v1h-1zM388 693h1v1h-1zM396 693h1v1h-1zM404 693h1v1h-1zM412 693h1v1h-1zM420 693h1v1h-1zM428 693h1v1h-1zM436 693h1v1h-1zM444 693h1v1h-1zM452 693h1v1h-1zM460 693h1v1h-1zM468 693h1v1h-1zM476 693h1v1h-1zM484 693h1v1h-1zM492 693h1v1h-1zM500 693h1v1h-1zM508 693h1v1h-1zM516 693h1v1h-1zM524 693h1v1h-1zM532 693h1v1h-1zM540 693h1v1h-1zM548 693h1v1h-1zM556 693h1v1h-1zM564 693h1v1h-1zM572 693h1v1h-1zM580 693h1v1h-1zM588 693h1v1h-1zM596 693h1v1h-1zM604 693h1v1h-1zM612 693h1v1h-1zM620 693h1v1h-1zM628 693h1v1h-1zM636 693h1v1h-1zM644 693h1v1h-1zM652 693h1v1h-1zM660 693h1v1h-1zM668 693h1v1h-1zM676 693h1v1h-1zM684 693h1v1h-1zM692 693h1v1h-1zM700 693h1v1h-1zM708 693h1v1h-1zM716 693h1v1h-1zM724 693h1v1h-1zM732 693h1v1h-1zM740 693h1v1h-1zM748 693h1v1h-1zM756 693h1v1h-1zM764 693h1v1h-1zM772 693h1v1h-1zM780 693h1v1h-1zM788 693h1v1h-1zM796 693h1v1h-1zM804 693h1v1h-1zM812 693h1v1h-1zM820 693h1v1h-1zM828 693h1v1h-1zM836 693h1v1h-1zM844 693h1v1h-1zM852 693h1v1h-1zM860 693h1v1h-1zM868 693h1v1h-1zM876 693h1v1h-1zM884 693h1v1h-1zM892 693h1v1h-1zM900 693h1v1h-1zM908 693h1v1h-1zM916 693h1v1h-1zM924 693h1v1h-1zM932 693h1v1h-1zM940 693h1v1h-1zM948 693h1v1h-1zM956 693h1v1h-1zM964 693h1v1h-1zM972 693h1v1h-1zM980 693h1v1h-1zM988 693h1v1h-1zM996 693h1v1h-1zM1004 693h1v1h-1zM1012 693h1v1h-1zM1020 693h1v1h-1zM1028 693h1v1h-1zM1036 693h1v1h-1zM1044 693h1v1h-1zM1052 693h1v1h-1zM1060 693h1v1h-1zM1068 693h1v1h-1zM1076 693h1v1h-1zM1084 693h1v1h-1zM1092 693h1v1h-1zM1100 693h1v1h-1zM1108 693h1v1h-1zM1116 693h1v1h-1zM1124 693h1v1h-1zM1132 693h1v1h-1zM43 595h2v1h-2zM75 595h2v1h-2zM115 595h2v1h-2zM155 595h2v1h-2zM195 595h2v1h-2zM235 595h2v1h-2zM275 595h2v1h-2zM315 595h2v1h-2zM355 595h2v1h-2zM427 595h2v1h-2zM467 595h2v1h-2zM507 595h2v1h-2zM547 595h2v1h-2zM587 595h2v1h-2zM627 595h2v1h-2zM667 595h2v1h-2zM707 595h2v1h-2zM787 595h2v1h-2zM827 595h2v1h-2zM867 595h2v1h-2zM939 595h2v1h-2zM979 595h2v1h-2zM1019 595h2v1h-2zM1051 595h2v1h-2zM1083 595h2v1h-2zM1123 595h2v1h-2zM43 623h2v1h-2zM75 623h2v1h-2zM115 623h2v1h-2zM155 623h2v1h-2zM195 623h2v1h-2zM235 623h2v1h-2zM275 623h2v1h-2zM315 623h2v1h-2zM355 623h2v1h-2zM427 623h2v1h-2zM467 623h2v1h-2zM507 623h2v1h-2zM547 623h2v1h-2zM587 623h2v1h-2zM627 623h2v1h-2zM667 623h2v1h-2zM707 623h2v1h-2zM787 623h2v1h-2zM827 623h2v1h-2zM867 623h2v1h-2zM939 623h2v1h-2zM979 623h2v1h-2zM1019 623h2v1h-2zM1051 623h2v1h-2zM1083 623h2v1h-2zM1123 623h2v1h-2zM43 651h2v1h-2zM75 651h2v1h-2zM115 651h2v1h-2zM155 651h2v1h-2zM195 651h2v1h-2zM235 651h2v1h-2zM275 651h2v1h-2zM315 651h2v1h-2zM355 651h2v1h-2zM427 651h2v1h-2zM467 651h2v1h-2zM507 651h2v1h-2zM547 651h2v1h-2zM587 651h2v1h-2zM627 651h2v1h-2zM667 651h2v1h-2zM707 651h2v1h-2zM787 651h2v1h-2zM827 651h2v1h-2zM867 651h2v1h-2zM939 651h2v1h-2zM979 651h2v1h-2zM1019 651h2v1h-2zM1051 651h2v1h-2zM1083 651h2v1h-2zM1123 651h2v1h-2zM43 679h2v1h-2zM75 679h2v1h-2zM115 679h2v1h-2zM155 679h2v1h-2zM195 679h2v1h-2zM235 679h2v1h-2zM275 679h2v1h-2zM315 679h2v1h-2zM355 679h2v1h-2zM427 679h2v1h-2zM467 679h2v1h-2zM507 679h2v1h-2zM547 679h2v1h-2zM587 679h2v1h-2zM627 679h2v1h-2zM667 679h2v1h-2zM707 679h2v1h-2zM787 679h2v1h-2zM827 679h2v1h-2zM867 679h2v1h-2zM939 679h2v1h-2zM979 679h2v1h-2zM1019 679h2v1h-2zM1051 679h2v1h-2zM1083 679h2v1h-2zM1123 679h2v1h-2zM52 5h1v1h-1zM52 8h1v1h-1zM52 11h1v1h-1zM52 14h1v1h-1zM52 17h1v1h-1zM52 20h1v1h-1zM52 23h1v1h-1zM52 26h1v1h-1zM52 29h1v1h-1zM52 32h1v1h-1zM52 35h1v1h-1zM52 38h1v1h-1zM52 41h1v1h-1zM52 44h1v1h-1zM52 47h1v1h-1zM52 50h1v1h-1zM52 53h1v1h-1zM52 57h1v1h-1zM52 60h1v1h-1zM52 63h1v1h-1zM52 66h1v1h-1zM52 69h1v1h-1zM52 72h1v1h-1zM52 75h1v1h-1zM52 78h1v1h-1zM52 81h1v1h-1zM52 84h1v1h-1zM52 87h1v1h-1zM52 90h1v1h-1zM52 93h1v1h-1zM52 96h1v1h-1zM52 99h1v1h-1zM52 102h1v1h-1zM52 105h1v1h-1zM52 108h1v1h-1zM52 112h1v1h-1zM52 115h1v1h-1zM52 118h1v1h-1zM52 121h1v1h-1zM52 124h1v1h-1zM52 127h1v1h-1zM52 130h1v1h-1zM52 133h1v1h-1zM52 136h1v1h-1zM52 139h1v1h-1zM52 142h1v1h-1zM52 145h1v1h-1zM52 148h1v1h-1zM52 151h1v1h-1zM52 154h1v1h-1zM52 157h1v1h-1zM52 160h1v1h-1zM52 164h1v1h-1zM52 167h1v1h-1zM52 170h1v1h-1zM52 173h1v1h-1zM52 176h1v1h-1zM52 179h1v1h-1zM52 182h1v1h-1zM52 185h1v1h-1zM52 188h1v1h-1zM52 191h1v1h-1zM52 194h1v1h-1zM52 197h1v1h-1zM52 200h1v1h-1zM52 203h1v1h-1zM52 206h1v1h-1zM52 209h1v1h-1zM52 212h1v1h-1zM52 215h1v1h-1zM52 219h1v1h-1zM52 222h1v1h-1zM52 225h1v1h-1zM52 228h1v1h-1zM52 231h1v1h-1zM52 234h1v1h-1zM52 237h1v1h-1zM52 240h1v1h-1zM52 243h1v1h-1zM52 246h1v1h-1zM52 249h1v1h-1zM52 252h1v1h-1zM52 255h1v1h-1zM52 258h1v1h-1zM52 261h1v1h-1zM52 264h1v1h-1zM52 267h1v1h-1zM52 270h1v1h-1zM52 274h1v1h-1zM52 277h1v1h-1zM52 280h1v1h-1zM52 283h1v1h-1zM52 286h1v1h-1zM52 289h1v1h-1zM52 292h1v1h-1zM52 295h1v1h-1zM52 298h1v1h-1zM52 301h1v1h-1zM52 304h1v1h-1zM52 307h1v1h-1zM52 310h1v1h-1zM52 313h1v1h-1zM52 316h1v1h-1zM52 319h1v1h-1zM52 322h1v1h-1zM52 325h1v1h-1zM52 329h1v1h-1zM52 332h1v1h-1zM52 335h1v1h-1zM52 338h1v1h-1zM52 341h1v1h-1zM52 344h1v1h-1zM52 347h1v1h-1zM52 350h1v1h-1zM52 353h1v1h-1zM52 356h1v1h-1zM52 359h1v1h-1zM52 362h1v1h-1zM52 365h1v1h-1zM52 368h1v1h-1zM52 371h1v1h-1zM52 374h1v1h-1zM52 377h1v1h-1zM52 380h1v1h-1zM52 384h1v1h-1zM52 387h1v1h-1zM52 390h1v1h-1zM52 393h1v1h-1zM52 396h1v1h-1zM52 399h1v1h-1zM52 402h1v1h-1zM52 405h1v1h-1zM52 408h1v1h-1zM52 411h1v1h-1zM52 414h1v1h-1zM52 417h1v1h-1zM52 420h1v1h-1zM52 423h1v1h-1zM52 426h1v1h-1zM52 437h1v1h-1zM52 442h1v1h-1zM52 447h1v1h-1zM52 452h1v1h-1zM52 457h1v1h-1zM52 462h1v1h-1zM52 467h1v1h-1zM52 472h1v1h-1zM52 476h1v1h-1zM52 481h1v1h-1zM52 486h1v1h-1zM52 491h1v1h-1zM52 496h1v1h-1zM52 501h1v1h-1zM52 506h1v1h-1zM52 511h1v1h-1zM52 516h1v1h-1zM52 521h1v1h-1zM52 526h1v1h-1zM52 531h1v1h-1zM52 536h1v1h-1zM52 541h1v1h-1zM52 546h1v1h-1zM52 551h1v1h-1zM52 556h1v1h-1zM52 561h1v1h-1zM52 566h1v1h-1zM52 571h1v1h-1zM52 581h1v1h-1zM52 587h1v1h-1zM52 592h1v1h-1zM52 598h1v1h-1zM52 603h1v1h-1zM52 609h1v1h-1zM52 615h1v1h-1zM52 620h1v1h-1zM52 626h1v1h-1zM52 631h1v1h-1zM52 637h1v1h-1zM52 643h1v1h-1zM52 648h1v1h-1zM52 654h1v1h-1zM52 659h1v1h-1zM52 665h1v1h-1zM52 671h1v1h-1zM52 676h1v1h-1zM52 682h1v1h-1zM52 687h1v1h-1zM52 693h1v1h-1zM228 5h1v1h-1zM228 8h1v1h-1zM228 11h1v1h-1zM228 14h1v1h-1zM228 17h1v1h-1zM228 20h1v1h-1zM228 23h1v1h-1zM228 26h1v1h-1zM228 29h1v1h-1zM228 32h1v1h-1zM228 35h1v1h-1zM228 38h1v1h-1zM228 41h1v1h-1zM228 44h1v1h-1zM228 47h1v1h-1zM228 50h1v1h-1zM228 53h1v1h-1zM228 57h1v1h-1zM228 60h1v1h-1zM228 63h1v1h-1zM228 66h1v1h-1zM228 69h1v1h-1zM228 72h1v1h-1zM228 75h1v1h-1zM228 78h1v1h-1zM228 81h1v1h-1zM228 84h1v1h-1zM228 87h1v1h-1zM228 90h1v1h-1zM228 93h1v1h-1zM228 96h1v1h-1zM228 99h1v1h-1zM228 102h1v1h-1zM228 105h1v1h-1zM228 108h1v1h-1zM228 112h1v1h-1zM228 115h1v1h-1zM228 118h1v1h-1zM228 121h1v1h-1zM228 124h1v1h-1zM228 127h1v1h-1zM228 130h1v1h-1zM228 133h1v1h-1zM228 136h1v1h-1zM228 139h1v1h-1zM228 142h1v1h-1zM228 145h1v1h-1zM228 148h1v1h-1zM228 151h1v1h-1zM228 154h1v1h-1zM228 157h1v1h-1zM228 160h1v1h-1zM228 164h1v1h-1zM228 167h1v1h-1zM228 170h1v1h-1zM228 173h1v1h-1zM228 176h1v1h-1zM228 179h1v1h-1zM228 182h1v1h-1zM228 185h1v1h-1zM228 188h1v1h-1zM228 191h1v1h-1zM228 194h1v1h-1zM228 197h1v1h-1zM228 200h1v1h-1zM228 203h1v1h-1zM228 206h1v1h-1zM228 209h1v1h-1zM228 212h1v1h-1zM228 215h1v1h-1zM228 219h1v1h-1zM228 222h1v1h-1zM228 225h1v1h-1zM228 228h1v1h-1zM228 231h1v1h-1zM228 234h1v1h-1zM228 237h1v1h-1zM228 240h1v1h-1zM228 243h1v1h-1zM228 246h1v1h-1zM228 249h1v1h-1zM228 252h1v1h-1zM228 255h1v1h-1zM228 258h1v1h-1zM228 261h1v1h-1zM228 264h1v1h-1zM228 267h1v1h-1zM228 270h1v1h-1zM228 274h1v1h-1zM228 277h1v1h-1zM228 280h1v1h-1zM228 283h1v1h-1zM228 286h1v1h-1zM228 289h1v1h-1zM228 292h1v1h-1zM228 295h1v1h-1zM228 298h1v1h-1zM228 301h1v1h-1zM228 304h1v1h-1zM228 307h1v1h-1zM228 310h1v1h-1zM228 313h1v1h-1zM228 316h1v1h-1zM228 319h1v1h-1zM228 322h1v1h-1zM228 325h1v1h-1zM228 329h1v1h-1zM228 332h1v1h-1zM228 335h1v1h-1zM228 338h1v1h-1zM228 341h1v1h-1zM228 344h1v1h-1zM228 347h1v1h-1zM228 350h1v1h-1zM228 353h1v1h-1zM228 356h1v1h-1zM228 359h1v1h-1zM228 362h1v1h-1zM228 365h1v1h-1zM228 368h1v1h-1zM228 371h1v1h-1zM228 374h1v1h-1zM228 377h1v1h-1zM228 380h1v1h-1zM228 384h1v1h-1zM228 387h1v1h-1zM228 390h1v1h-1zM228 393h1v1h-1zM228 396h1v1h-1zM228 399h1v1h-1zM228 402h1v1h-1zM228 405h1v1h-1zM228 408h1v1h-1zM228 411h1v1h-1zM228 414h1v1h-1zM228 417h1v1h-1zM228 420h1v1h-1zM228 423h1v1h-1zM228 426h1v1h-1zM228 437h1v1h-1zM228 442h1v1h-1zM228 447h1v1h-1zM228 452h1v1h-1zM228 457h1v1h-1zM228 462h1v1h-1zM228 467h1v1h-1zM228 472h1v1h-1zM228 476h1v1h-1zM228 481h1v1h-1zM228 486h1v1h-1zM228 491h1v1h-1zM228 496h1v1h-1zM228 501h1v1h-1zM228 506h1v1h-1zM228 511h1v1h-1zM228 516h1v1h-1zM228 521h1v1h-1zM228 526h1v1h-1zM228 531h1v1h-1zM228 536h1v1h-1zM228 541h1v1h-1zM228 546h1v1h-1zM228 551h1v1h-1zM228 556h1v1h-1zM228 561h1v1h-1zM228 566h1v1h-1zM228 571h1v1h-1zM228 581h1v1h-1zM228 587h1v1h-1zM228 592h1v1h-1zM228 598h1v1h-1zM228 603h1v1h-1zM228 609h1v1h-1zM228 615h1v1h-1zM228 620h1v1h-1zM228 626h1v1h-1zM228 631h1v1h-1zM228 637h1v1h-1zM228 643h1v1h-1zM228 648h1v1h-1zM228 654h1v1h-1zM228 659h1v1h-1zM228 665h1v1h-1zM228 671h1v1h-1zM228 676h1v1h-1zM228 682h1v1h-1zM228 687h1v1h-1zM228 693h1v1h-1zM396 5h1v1h-1zM396 8h1v1h-1zM396 11h1v1h-1zM396 14h1v1h-1zM396 17h1v1h-1zM396 20h1v1h-1zM396 23h1v1h-1zM396 26h1v1h-1zM396 29h1v1h-1zM396 32h1v1h-1zM396 35h1v1h-1zM396 38h1v1h-1zM396 41h1v1h-1zM396 44h1v1h-1zM396 47h1v1h-1zM396 50h1v1h-1zM396 53h1v1h-1zM396 57h1v1h-1zM396 60h1v1h-1zM396 63h1v1h-1zM396 66h1v1h-1zM396 69h1v1h-1zM396 72h1v1h-1zM396 75h1v1h-1zM396 78h1v1h-1zM396 81h1v1h-1zM396 84h1v1h-1zM396 87h1v1h-1zM396 90h1v1h-1zM396 93h1v1h-1zM396 96h1v1h-1zM396 99h1v1h-1zM396 102h1v1h-1zM396 105h1v1h-1zM396 108h1v1h-1zM396 112h1v1h-1zM396 115h1v1h-1zM396 118h1v1h-1zM396 121h1v1h-1zM396 124h1v1h-1zM396 127h1v1h-1zM396 130h1v1h-1zM396 133h1v1h-1zM396 136h1v1h-1zM396 139h1v1h-1zM396 142h1v1h-1zM396 145h1v1h-1zM396 148h1v1h-1zM396 151h1v1h-1zM396 154h1v1h-1zM396 157h1v1h-1zM396 160h1v1h-1zM396 164h1v1h-1zM396 167h1v1h-1zM396 170h1v1h-1zM396 173h1v1h-1zM396 176h1v1h-1zM396 179h1v1h-1zM396 182h1v1h-1zM396 185h1v1h-1zM396 188h1v1h-1zM396 191h1v1h-1zM396 194h1v1h-1zM396 197h1v1h-1zM396 200h1v1h-1zM396 203h1v1h-1zM396 206h1v1h-1zM396 209h1v1h-1zM396 212h1v1h-1zM396 215h1v1h-1zM396 219h1v1h-1zM396 222h1v1h-1zM396 225h1v1h-1zM396 228h1v1h-1zM396 231h1v1h-1zM396 234h1v1h-1zM396 237h1v1h-1zM396 240h1v1h-1zM396 243h1v1h-1zM396 246h1v1h-1zM396 249h1v1h-1zM396 252h1v1h-1zM396 255h1v1h-1zM396 258h1v1h-1zM396 261h1v1h-1zM396 264h1v1h-1zM396 267h1v1h-1zM396 270h1v1h-1zM396 274h1v1h-1zM396 277h1v1h-1zM396 280h1v1h-1zM396 283h1v1h-1zM396 286h1v1h-1zM396 289h1v1h-1zM396 292h1v1h-1zM396 295h1v1h-1zM396 298h1v1h-1zM396 301h1v1h-1zM396 304h1v1h-1zM396 307h1v1h-1zM396 310h1v1h-1zM396 313h1v1h-1zM396 316h1v1h-1zM396 319h1v1h-1zM396 322h1v1h-1zM396 325h1v1h-1zM396 329h1v1h-1zM396 332h1v1h-1zM396 335h1v1h-1zM396 338h1v1h-1zM396 341h1v1h-1zM396 344h1v1h-1zM396 347h1v1h-1zM396 350h1v1h-1zM396 353h1v1h-1zM396 356h1v1h-1zM396 359h1v1h-1zM396 362h1v1h-1zM396 365h1v1h-1zM396 368h1v1h-1zM396 371h1v1h-1zM396 374h1v1h-1zM396 377h1v1h-1zM396 380h1v1h-1zM396 384h1v1h-1zM396 387h1v1h-1zM396 390h1v1h-1zM396 393h1v1h-1zM396 396h1v1h-1zM396 399h1v1h-1zM396 402h1v1h-1zM396 405h1v1h-1zM396 408h1v1h-1zM396 411h1v1h-1zM396 414h1v1h-1zM396 417h1v1h-1zM396 420h1v1h-1zM396 423h1v1h-1zM396 426h1v1h-1zM396 437h1v1h-1zM396 442h1v1h-1zM396 447h1v1h-1zM396 452h1v1h-1zM396 457h1v1h-1zM396 462h1v1h-1zM396 467h1v1h-1zM396 472h1v1h-1zM396 476h1v1h-1zM396 481h1v1h-1zM396 486h1v1h-1zM396 491h1v1h-1zM396 496h1v1h-1zM396 501h1v1h-1zM396 506h1v1h-1zM396 511h1v1h-1zM396 516h1v1h-1zM396 521h1v1h-1zM396 526h1v1h-1zM396 531h1v1h-1zM396 536h1v1h-1zM396 541h1v1h-1zM396 546h1v1h-1zM396 551h1v1h-1zM396 556h1v1h-1zM396 561h1v1h-1zM396 566h1v1h-1zM396 571h1v1h-1zM396 581h1v1h-1zM396 587h1v1h-1zM396 592h1v1h-1zM396 598h1v1h-1zM396 603h1v1h-1zM396 609h1v1h-1zM396 615h1v1h-1zM396 620h1v1h-1zM396 626h1v1h-1zM396 631h1v1h-1zM396 637h1v1h-1zM396 643h1v1h-1zM396 648h1v1h-1zM396 654h1v1h-1zM396 659h1v1h-1zM396 665h1v1h-1zM396 671h1v1h-1zM396 676h1v1h-1zM396 682h1v1h-1zM396 687h1v1h-1zM396 693h1v1h-1zM564 5h1v1h-1zM564 8h1v1h-1zM564 11h1v1h-1zM564 14h1v1h-1zM564 17h1v1h-1zM564 20h1v1h-1zM564 23h1v1h-1zM564 26h1v1h-1zM564 29h1v1h-1zM564 32h1v1h-1zM564 35h1v1h-1zM564 38h1v1h-1zM564 41h1v1h-1zM564 44h1v1h-1zM564 47h1v1h-1zM564 50h1v1h-1zM564 53h1v1h-1zM564 57h1v1h-1zM564 60h1v1h-1zM564 63h1v1h-1zM564 66h1v1h-1zM564 69h1v1h-1zM564 72h1v1h-1zM564 75h1v1h-1zM564 78h1v1h-1zM564 81h1v1h-1zM564 84h1v1h-1zM564 87h1v1h-1zM564 90h1v1h-1zM564 93h1v1h-1zM564 96h1v1h-1zM564 99h1v1h-1zM564 102h1v1h-1zM564 105h1v1h-1zM564 108h1v1h-1zM564 112h1v1h-1zM564 115h1v1h-1zM564 118h1v1h-1zM564 121h1v1h-1zM564 124h1v1h-1zM564 127h1v1h-1zM564 130h1v1h-1zM564 133h1v1h-1zM564 136h1v1h-1zM564 139h1v1h-1zM564 142h1v1h-1zM564 145h1v1h-1zM564 148h1v1h-1zM564 151h1v1h-1zM564 154h1v1h-1zM564 157h1v1h-1zM564 160h1v1h-1zM564 164h1v1h-1zM564 167h1v1h-1zM564 170h1v1h-1zM564 173h1v1h-1zM564 176h1v1h-1zM564 179h1v1h-1zM564 182h1v1h-1zM564 185h1v1h-1zM564 188h1v1h-1zM564 191h1v1h-1zM564 194h1v1h-1zM564 197h1v1h-1zM564 200h1v1h-1zM564 203h1v1h-1zM564 206h1v1h-1zM564 209h1v1h-1zM564 212h1v1h-1zM564 215h1v1h-1zM564 219h1v1h-1zM564 222h1v1h-1zM564 225h1v1h-1zM564 228h1v1h-1zM564 231h1v1h-1zM564 234h1v1h-1zM564 237h1v1h-1zM564 240h1v1h-1zM564 243h1v1h-1zM564 246h1v1h-1zM564 249h1v1h-1zM564 252h1v1h-1zM564 255h1v1h-1zM564 258h1v1h-1zM564 261h1v1h-1zM564 264h1v1h-1zM564 267h1v1h-1zM564 270h1v1h-1zM564 274h1v1h-1zM564 277h1v1h-1zM564 280h1v1h-1zM564 283h1v1h-1zM564 286h1v1h-1zM564 289h1v1h-1zM564 292h1v1h-1zM564 295h1v1h-1zM564 298h1v1h-1zM564 301h1v1h-1zM564 304h1v1h-1zM564 307h1v1h-1zM564 310h1v1h-1zM564 313h1v1h-1zM564 316h1v1h-1zM564 319h1v1h-1zM564 322h1v1h-1zM564 325h1v1h-1zM564 329h1v1h-1zM564 332h1v1h-1zM564 335h1v1h-1zM564 338h1v1h-1zM564 341h1v1h-1zM564 344h1v1h-1zM564 347h1v1h-1zM564 350h1v1h-1zM564 353h1v1h-1zM564 356h1v1h-1zM564 359h1v1h-1zM564 362h1v1h-1zM564 365h1v1h-1zM564 368h1v1h-1zM564 371h1v1h-1zM564 374h1v1h-1zM564 377h1v1h-1zM564 380h1v1h-1zM564 384h1v1h-1zM564 387h1v1h-1zM564 390h1v1h-1zM564 393h1v1h-1zM564 396h1v1h-1zM564 399h1v1h-1zM564 402h1v1h-1zM564 405h1v1h-1zM564 408h1v1h-1zM564 411h1v1h-1zM564 414h1v1h-1zM564 417h1v1h-1zM564 420h1v1h-1zM564 423h1v1h-1zM564 426h1v1h-1zM564 437h1v1h-1zM564 442h1v1h-1zM564 447h1v1h-1zM564 452h1v1h-1zM564 457h1v1h-1zM564 462h1v1h-1zM564 467h1v1h-1zM564 472h1v1h-1zM564 476h1v1h-1zM564 481h1v1h-1zM564 486h1v1h-1zM564 491h1v1h-1zM564 496h1v1h-1zM564 501h1v1h-1zM564 506h1v1h-1zM564 511h1v1h-1zM564 516h1v1h-1zM564 521h1v1h-1zM564 526h1v1h-1zM564 531h1v1h-1zM564 536h1v1h-1zM564 541h1v1h-1zM564 546h1v1h-1zM564 551h1v1h-1zM564 556h1v1h-1zM564 561h1v1h-1zM564 566h1v1h-1zM564 571h1v1h-1zM564 581h1v1h-1zM564 587h1v1h-1zM564 592h1v1h-1zM564 598h1v1h-1zM564 603h1v1h-1zM564 609h1v1h-1zM564 615h1v1h-1zM564 620h1v1h-1zM564 626h1v1h-1zM564 631h1v1h-1zM564 637h1v1h-1zM564 643h1v1h-1zM564 648h1v1h-1zM564 654h1v1h-1zM564 659h1v1h-1zM564 665h1v1h-1zM564 671h1v1h-1zM564 676h1v1h-1zM564 682h1v1h-1zM564 687h1v1h-1zM564 693h1v1h-1zM748 5h1v1h-1zM748 8h1v1h-1zM748 11h1v1h-1zM748 14h1v1h-1zM748 17h1v1h-1zM748 20h1v1h-1zM748 23h1v1h-1zM748 26h1v1h-1zM748 29h1v1h-1zM748 32h1v1h-1zM748 35h1v1h-1zM748 38h1v1h-1zM748 41h1v1h-1zM748 44h1v1h-1zM748 47h1v1h-1zM748 50h1v1h-1zM748 53h1v1h-1zM748 57h1v1h-1zM748 60h1v1h-1zM748 63h1v1h-1zM748 66h1v1h-1zM748 69h1v1h-1zM748 72h1v1h-1zM748 75h1v1h-1zM748 78h1v1h-1zM748 81h1v1h-1zM748 84h1v1h-1zM748 87h1v1h-1zM748 90h1v1h-1zM748 93h1v1h-1zM748 96h1v1h-1zM748 99h1v1h-1zM748 102h1v1h-1zM748 105h1v1h-1zM748 108h1v1h-1zM748 112h1v1h-1zM748 115h1v1h-1zM748 118h1v1h-1zM748 121h1v1h-1zM748 124h1v1h-1zM748 127h1v1h-1zM748 130h1v1h-1zM748 133h1v1h-1zM748 136h1v1h-1zM748 139h1v1h-1zM748 142h1v1h-1zM748 145h1v1h-1zM748 148h1v1h-1zM748 151h1v1h-1zM748 154h1v1h-1zM748 157h1v1h-1zM748 160h1v1h-1zM748 164h1v1h-1zM748 167h1v1h-1zM748 170h1v1h-1zM748 173h1v1h-1zM748 176h1v1h-1zM748 179h1v1h-1zM748 182h1v1h-1zM748 185h1v1h-1zM748 188h1v1h-1zM748 191h1v1h-1zM748 194h1v1h-1zM748 197h1v1h-1zM748 200h1v1h-1zM748 203h1v1h-1zM748 206h1v1h-1zM748 209h1v1h-1zM748 212h1v1h-1zM748 215h1v1h-1zM748 219h1v1h-1zM748 222h1v1h-1zM748 225h1v1h-1zM748 228h1v1h-1zM748 231h1v1h-1zM748 234h1v1h-1zM748 237h1v1h-1zM748 240h1v1h-1zM748 243h1v1h-1zM748 246h1v1h-1zM748 249h1v1h-1zM748 252h1v1h-1zM748 255h1v1h-1zM748 258h1v1h-1zM748 261h1v1h-1zM748 264h1v1h-1zM748 267h1v1h-1zM748 270h1v1h-1zM748 274h1v1h-1zM748 277h1v1h-1zM748 280h1v1h-1zM748 283h1v1h-1zM748 286h1v1h-1zM748 289h1v1h-1zM748 292h1v1h-1zM748 295h1v1h-1zM748 298h1v1h-1zM748 301h1v1h-1zM748 304h1v1h-1zM748 307h1v1h-1zM748 310h1v1h-1zM748 313h1v1h-1zM748 316h1v1h-1zM748 319h1v1h-1zM748 322h1v1h-1zM748 325h1v1h-1zM748 329h1v1h-1zM748 332h1v1h-1zM748 335h1v1h-1zM748 338h1v1h-1zM748 341h1v1h-1zM748 344h1v1h-1zM748 347h1v1h-1zM748 350h1v1h-1zM748 353h1v1h-1zM748 356h1v1h-1zM748 359h1v1h-1zM748 362h1v1h-1zM748 365h1v1h-1zM748 368h1v1h-1zM748 371h1v1h-1zM748 374h1v1h-1zM748 377h1v1h-1zM748 380h1v1h-1zM748 384h1v1h-1zM748 387h1v1h-1zM748 390h1v1h-1zM748 393h1v1h-1zM748 396h1v1h-1zM748 399h1v1h-1zM748 402h1v1h-1zM748 405h1v1h-1zM748 408h1v1h-1zM748 411h1v1h-1zM748 414h1v1h-1zM748 417h1v1h-1zM748 420h1v1h-1zM748 423h1v1h-1zM748 426h1v1h-1zM748 437h1v1h-1zM748 442h1v1h-1zM748 447h1v1h-1zM748 452h1v1h-1zM748 457h1v1h-1zM748 462h1v1h-1zM748 467h1v1h-1zM748 472h1v1h-1zM748 476h1v1h-1zM748 481h1v1h-1zM748 486h1v1h-1zM748 491h1v1h-1zM748 496h1v1h-1zM748 501h1v1h-1zM748 506h1v1h-1zM748 511h1v1h-1zM748 516h1v1h-1zM748 521h1v1h-1zM748 526h1v1h-1zM748 531h1v1h-1zM748 536h1v1h-1zM748 541h1v1h-1zM748 546h1v1h-1zM748 551h1v1h-1zM748 556h1v1h-1zM748 561h1v1h-1zM748 566h1v1h-1zM748 571h1v1h-1zM748 581h1v1h-1zM748 587h1v1h-1zM748 592h1v1h-1zM748 598h1v1h-1zM748 603h1v1h-1zM748 609h1v1h-1zM748 615h1v1h-1zM748 620h1v1h-1zM748 626h1v1h-1zM748 631h1v1h-1zM748 637h1v1h-1zM748 643h1v1h-1zM748 648h1v1h-1zM748 654h1v1h-1zM748 659h1v1h-1zM748 665h1v1h-1zM748 671h1v1h-1zM748 676h1v1h-1zM748 682h1v1h-1zM748 687h1v1h-1zM748 693h1v1h-1zM900 5h1v1h-1zM900 8h1v1h-1zM900 11h1v1h-1zM900 14h1v1h-1zM900 17h1v1h-1zM900 20h1v1h-1zM900 23h1v1h-1zM900 26h1v1h-1zM900 29h1v1h-1zM900 32h1v1h-1zM900 35h1v1h-1zM900 38h1v1h-1zM900 41h1v1h-1zM900 44h1v1h-1zM900 47h1v1h-1zM900 50h1v1h-1zM900 53h1v1h-1zM900 57h1v1h-1zM900 60h1v1h-1zM900 63h1v1h-1zM900 66h1v1h-1zM900 69h1v1h-1zM900 72h1v1h-1zM900 75h1v1h-1zM900 78h1v1h-1zM900 81h1v1h-1zM900 84h1v1h-1zM900 87h1v1h-1zM900 90h1v1h-1zM900 93h1v1h-1zM900 96h1v1h-1zM900 99h1v1h-1zM900 102h1v1h-1zM900 105h1v1h-1zM900 108h1v1h-1zM900 112h1v1h-1zM900 115h1v1h-1zM900 118h1v1h-1zM900 121h1v1h-1zM900 124h1v1h-1zM900 127h1v1h-1zM900 130h1v1h-1zM900 133h1v1h-1zM900 136h1v1h-1zM900 139h1v1h-1zM900 142h1v1h-1zM900 145h1v1h-1zM900 148h1v1h-1zM900 151h1v1h-1zM900 154h1v1h-1zM900 157h1v1h-1zM900 160h1v1h-1zM900 164h1v1h-1zM900 167h1v1h-1zM900 170h1v1h-1zM900 173h1v1h-1zM900 176h1v1h-1zM900 179h1v1h-1zM900 182h1v1h-1zM900 185h1v1h-1zM900 188h1v1h-1zM900 191h1v1h-1zM900 194h1v1h-1zM900 197h1v1h-1zM900 200h1v1h-1zM900 203h1v1h-1zM900 206h1v1h-1zM900 209h1v1h-1zM900 212h1v1h-1zM900 215h1v1h-1zM900 219h1v1h-1zM900 222h1v1h-1zM900 225h1v1h-1zM900 228h1v1h-1zM900 231h1v1h-1zM900 234h1v1h-1zM900 237h1v1h-1zM900 240h1v1h-1zM900 243h1v1h-1zM900 246h1v1h-1zM900 249h1v1h-1zM900 252h1v1h-1zM900 255h1v1h-1zM900 258h1v1h-1zM900 261h1v1h-1zM900 264h1v1h-1zM900 267h1v1h-1zM900 270h1v1h-1zM900 274h1v1h-1zM900 277h1v1h-1zM900 280h1v1h-1zM900 283h1v1h-1zM900 286h1v1h-1zM900 289h1v1h-1zM900 292h1v1h-1zM900 295h1v1h-1zM900 298h1v1h-1zM900 301h1v1h-1zM900 304h1v1h-1zM900 307h1v1h-1zM900 310h1v1h-1zM900 313h1v1h-1zM900 316h1v1h-1zM900 319h1v1h-1zM900 322h1v1h-1zM900 325h1v1h-1zM900 329h1v1h-1zM900 332h1v1h-1zM900 335h1v1h-1zM900 338h1v1h-1zM900 341h1v1h-1zM900 344h1v1h-1zM900 347h1v1h-1zM900 350h1v1h-1zM900 353h1v1h-1zM900 356h1v1h-1zM900 359h1v1h-1zM900 362h1v1h-1zM900 365h1v1h-1zM900 368h1v1h-1zM900 371h1v1h-1zM900 374h1v1h-1zM900 377h1v1h-1zM900 380h1v1h-1zM900 384h1v1h-1zM900 387h1v1h-1zM900 390h1v1h-1zM900 393h1v1h-1zM900 396h1v1h-1zM900 399h1v1h-1zM900 402h1v1h-1zM900 405h1v1h-1zM900 408h1v1h-1zM900 411h1v1h-1zM900 414h1v1h-1zM900 417h1v1h-1zM900 420h1v1h-1zM900 423h1v1h-1zM900 426h1v1h-1zM900 437h1v1h-1zM900 442h1v1h-1zM900 447h1v1h-1zM900 452h1v1h-1zM900 457h1v1h-1zM900 462h1v1h-1zM900 467h1v1h-1zM900 472h1v1h-1zM900 476h1v1h-1zM900 481h1v1h-1zM900 486h1v1h-1zM900 491h1v1h-1zM900 496h1v1h-1zM900 501h1v1h-1zM900 506h1v1h-1zM900 511h1v1h-1zM900 516h1v1h-1zM900 521h1v1h-1zM900 526h1v1h-1zM900 531h1v1h-1zM900 536h1v1h-1zM900 541h1v1h-1zM900 546h1v1h-1zM900 551h1v1h-1zM900 556h1v1h-1zM900 561h1v1h-1zM900 566h1v1h-1zM900 571h1v1h-1zM900 581h1v1h-1zM900 587h1v1h-1zM900 592h1v1h-1zM900 598h1v1h-1zM900 603h1v1h-1zM900 609h1v1h-1zM900 615h1v1h-1zM900 620h1v1h-1zM900 626h1v1h-1zM900 631h1v1h-1zM900 637h1v1h-1zM900 643h1v1h-1zM900 648h1v1h-1zM900 654h1v1h-1zM900 659h1v1h-1zM900 665h1v1h-1zM900 671h1v1h-1zM900 676h1v1h-1zM900 682h1v1h-1zM900 687h1v1h-1zM900 693h1v1h-1zM1076 5h1v1h-1zM1076 8h1v1h-1zM1076 11h1v1h-1zM1076 14h1v1h-1zM1076 17h1v1h-1zM1076 20h1v1h-1zM1076 23h1v1h-1zM1076 26h1v1h-1zM1076 29h1v1h-1zM1076 32h1v1h-1zM1076 35h1v1h-1zM1076 38h1v1h-1zM1076 41h1v1h-1zM1076 44h1v1h-1zM1076 47h1v1h-1zM1076 50h1v1h-1zM1076 53h1v1h-1zM1076 57h1v1h-1zM1076 60h1v1h-1zM1076 63h1v1h-1zM1076 66h1v1h-1zM1076 69h1v1h-1zM1076 72h1v1h-1zM1076 75h1v1h-1zM1076 78h1v1h-1zM1076 81h1v1h-1zM1076 84h1v1h-1zM1076 87h1v1h-1zM1076 90h1v1h-1zM1076 93h1v1h-1zM1076 96h1v1h-1zM1076 99h1v1h-1zM1076 102h1v1h-1zM1076 105h1v1h-1zM1076 108h1v1h-1zM1076 112h1v1h-1zM1076 115h1v1h-1zM1076 118h1v1h-1zM1076 121h1v1h-1zM1076 124h1v1h-1zM1076 127h1v1h-1zM1076 130h1v1h-1zM1076 133h1v1h-1zM1076 136h1v1h-1zM1076 139h1v1h-1zM1076 142h1v1h-1zM1076 145h1v1h-1zM1076 148h1v1h-1zM1076 151h1v1h-1zM1076 154h1v1h-1zM1076 157h1v1h-1zM1076 160h1v1h-1zM1076 164h1v1h-1zM1076 167h1v1h-1zM1076 170h1v1h-1zM1076 173h1v1h-1zM1076 176h1v1h-1zM1076 179h1v1h-1zM1076 182h1v1h-1zM1076 185h1v1h-1zM1076 188h1v1h-1zM1076 191h1v1h-1zM1076 194h1v1h-1zM1076 197h1v1h-1zM1076 200h1v1h-1zM1076 203h1v1h-1zM1076 206h1v1h-1zM1076 209h1v1h-1zM1076 212h1v1h-1zM1076 215h1v1h-1zM1076 219h1v1h-1zM1076 222h1v1h-1zM1076 225h1v1h-1zM1076 228h1v1h-1zM1076 231h1v1h-1zM1076 234h1v1h-1zM1076 237h1v1h-1zM1076 240h1v1h-1zM1076 243h1v1h-1zM1076 246h1v1h-1zM1076 249h1v1h-1zM1076 252h1v1h-1zM1076 255h1v1h-1zM1076 258h1v1h-1zM1076 261h1v1h-1zM1076 264h1v1h-1zM1076 267h1v1h-1zM1076 270h1v1h-1zM1076 274h1v1h-1zM1076 277h1v1h-1zM1076 280h1v1h-1zM1076 283h1v1h-1zM1076 286h1v1h-1zM1076 289h1v1h-1zM1076 292h1v1h-1zM1076 295h1v1h-1zM1076 298h1v1h-1zM1076 301h1v1h-1zM1076 304h1v1h-1zM1076 307h1v1h-1zM1076 310h1v1h-1zM1076 313h1v1h-1zM1076 316h1v1h-1zM1076 319h1v1h-1zM1076 322h1v1h-1zM1076 325h1v1h-1zM1076 329h1v1h-1zM1076 332h1v1h-1zM1076 335h1v1h-1zM1076 338h1v1h-1zM1076 341h1v1h-1zM1076 344h1v1h-1zM1076 347h1v1h-1zM1076 350h1v1h-1zM1076 353h1v1h-1zM1076 356h1v1h-1zM1076 359h1v1h-1zM1076 362h1v1h-1zM1076 365h1v1h-1zM1076 368h1v1h-1zM1076 371h1v1h-1zM1076 374h1v1h-1zM1076 377h1v1h-1zM1076 380h1v1h-1zM1076 384h1v1h-1zM1076 387h1v1h-1zM1076 390h1v1h-1zM1076 393h1v1h-1zM1076 396h1v1h-1zM1076 399h1v1h-1zM1076 402h1v1h-1zM1076 405h1v1h-1zM1076 408h1v1h-1zM1076 411h1v1h-1zM1076 414h1v1h-1zM1076 417h1v1h-1zM1076 420h1v1h-1zM1076 423h1v1h-1zM1076 426h1v1h-1zM1076 437h1v1h-1zM1076 442h1v1h-1zM1076 447h1v1h-1zM1076 452h1v1h-1zM1076 457h1v1h-1zM1076 462h1v1h-1zM1076 467h1v1h-1zM1076 472h1v1h-1zM1076 476h1v1h-1zM1076 481h1v1h-1zM1076 486h1v1h-1zM1076 491h1v1h-1zM1076 496h1v1h-1zM1076 501h1v1h-1zM1076 506h1v1h-1zM1076 511h1v1h-1zM1076 516h1v1h-1zM1076 521h1v1h-1zM1076 526h1v1h-1zM1076 531h1v1h-1zM1076 536h1v1h-1zM1076 541h1v1h-1zM1076 546h1v1h-1zM1076 551h1v1h-1zM1076 556h1v1h-1zM1076 561h1v1h-1zM1076 566h1v1h-1zM1076 571h1v1h-1zM1076 581h1v1h-1zM1076 587h1v1h-1zM1076 592h1v1h-1zM1076 598h1v1h-1zM1076 603h1v1h-1zM1076 609h1v1h-1zM1076 615h1v1h-1zM1076 620h1v1h-1zM1076 626h1v1h-1zM1076 631h1v1h-1zM1076 637h1v1h-1zM1076 643h1v1h-1zM1076 648h1v1h-1zM1076 654h1v1h-1zM1076 659h1v1h-1zM1076 665h1v1h-1zM1076 671h1v1h-1zM1076 676h1v1h-1zM1076 682h1v1h-1zM1076 687h1v1h-1zM1076 693h1v1h-1z"/>
<path fill="#f00" d="M3 481h3v1h-3zM9 481h3v1h-3zM15 481h3v1h-3zM21 481h3v1h-3zM27 481h3v1h-3zM33 481h3v1h-3zM39 481h3v1h-3zM45 481h3v1h-3zM51 481h3v1h-3zM57 481h3v1h-3zM63 481h3v1h-3zM69 481h3v1h-3zM75 481h3v1h-3zM81 481h3v1h-3zM87 481h3v1h-3zM93 481h3v1h-3zM99 481h3v1h-3zM105 481h3v1h-3zM111 481h3v1h-3zM117 481h3v1h-3zM123 481h3v1h-3zM129 481h3v1h-3zM135 481h3v1h-3zM141 481h3v1h-3zM147 481h3v1h-3zM153 481h3v1h-3zM159 481h3v1h-3zM165 481h3v1h-3zM171 481h3v1h-3zM177 481h3v1h-3zM183 481h3v1h-3zM189 481h3v1h-3zM195 481h3v1h-3zM201 481h3v1h-3zM207 481h3v1h-3zM213 481h3v1h-3zM219 481h3v1h-3zM225 481h3v1h-3zM231 481h3v1h-3zM237 481h3v1h-3zM244 481h3v1h-3zM250 481h3v1h-3zM256 481h3v1h-3zM262 481h3v1h-3zM268 481h3v1h-3zM274 481h3v1h-3zM280 481h3v1h-3zM286 481h3v1h-3zM292 481h3v1h-3zM298 481h3v1h-3zM304 481h3v1h-3zM310 481h3v1h-3zM316 481h3v1h-3zM322 481h3v1h-3zM328 481h3v1h-3zM334 481h3v1h-3zM340 481h3v1h-3zM346 481h3v1h-3zM352 481h3v1h-3zM358 481h3v1h-3zM364 481h3v1h-3zM370 481h3v1h-3zM376 481h3v1h-3zM382 481h3v1h-3zM388 481h3v1h-3zM394 481h3v1h-3zM400 481h3v1h-3zM406 481h3v1h-3zM412 481h3v1h-3zM418 481h3v1h-3zM424 481h3v1h-3zM430 481h3v1h-3zM436 481h3v1h-3zM442 481h3v1h-3zM448 481h3v1h-3zM454 481h3v1h-3zM460 481h3v1h-3zM466 481h3v1h-3zM472 481h3v1h-3zM478 481h3v1h-3zM484 481h3v1h-3zM490 481h3v1h-3zM496 481h3v1h-3zM502 481h3v1h-3zM508 481h3v1h-3zM514 481h3v1h-3zM520 481h3v1h-3zM526 481h3v1h-3zM532 481h3v1h-3zM538 481h3v1h-3zM544 481h3v1h-3zM550 481h3v1h-3zM556 481h3v1h-3zM562 481h3v1h-3zM568 481h3v1h-3zM574 481h3v1h-3zM580 481h3v1h-3zM586 481h3v1h-3zM592 481h3v1h-3zM598 481h3v1h-3zM604 481h3v1h-3zM610 481h3v1h-3zM616 481h3v1h-3zM622 481h3v1h-3zM628 481h3v1h-3zM634 481h3v1h-3zM640 481h3v1h-3zM646 481h3v1h-3zM652 481h3v1h-3zM658 481h3v1h-3zM664 481h3v1h-3zM670 481h3v1h-3zM676 481h3v1h-3zM682 481h3v1h-3zM688 481h3v1h-3zM694 481h3v1h-3zM700 481h3v1h-3zM706 481h3v1h-3zM712 481h3v1h-3zM718 481h3v1h-3zM724 481h3v1h-3zM731 481h3v1h-3zM737 481h3v1h-3zM743 481h3v1h-3zM749 481h3v1h-3zM755 481h3v1h-3zM761 481h3v1h-3zM767 481h3v1h-3zM773 481h3v1h-3zM779 481h3v1h-3zM785 481h3v1h-3zM791 481h3v1h-3zM797 481h3v1h-3zM803 481h3v1h-3zM809 481h3v1h-3zM815 481h3v1h-3zM821 481h3v1h-3zM827 481h3v1h-3zM833 481h3v1h-3zM839 481h3v1h-3zM845 481h3v1h-3zM851 481h3v1h-3zM857 481h3v1h-3zM863 481h3v1h-3zM869 481h3v1h-3zM875 481h3v1h-3zM881 481h3v1h-3zM887 481h3v1h-3zM893 481h3v1h-3zM899 481h3v1h-3zM905 481h3v1h-3zM911 481h3v1h-3zM917 481h3v1h-3zM923 481h3v1h-3zM929 481h3v1h-3zM935 481h3v1h-3zM941 481h3v1h-3zM947 481h3v1h-3zM953 481h3v1h-3zM959 481h3v1h-3zM965 481h3v1h-3zM971 481h3v1h-3zM977 481h3v1h-3zM983 481h3v1h-3zM989 481h3v1h-3zM995 481h3v1h-3zM1001 481h3v1h-3zM1007 481h3v1h-3zM1013 481h3v1h-3zM1019 481h3v1h-3zM1025 481h3v1h-3zM1031 481h3v1h-3zM1037 481h3v1h-3zM1043 481h3v1h-3zM1049 481h3v1h-3zM1055 481h3v1h-3zM1061 481h3v1h-3zM1067 481h3v1h-3zM1073 481h3v1h-3zM1079 481h3v1h-3zM1085 481h3v1h-3zM1091 481h3v1h-3zM1097 481h3v1h-3zM1103 481h3v1h-3zM1109 481h3v1h-3zM1115 481h3v1h-3zM1121 481h3v1h-3zM1127 481h3v1h-3zM1133 481h3v1h-3zM1139 481h3v1h-3zM1145 481h3v1h-3z"/>
<path fill="#00f" d="M3 543h3v1h-3zM9 543h3v1h-3zM15 543h3v1h-3zM21 543h3v1h-3zM27 543h3v1h-3zM33 543h3v1h-3zM39 543h3v1h-3zM45 543h3v1h-3zM51 543h3v1h-3zM57 543h3v1h-3zM63 543h3v1h-3zM69 543h3v1h-3zM75 543h3v1h-3zM81 543h3v1h-3zM87 543h3v1h-3zM93 543h3v1h-3zM99 543h3v1h-3zM105 543h3v1h-3zM111 543h3v1h-3zM117 543h3v1h-3zM123 543h3v1h-3zM129 543h3v1h-3zM135 543h3v1h-3zM141 543h3v1h-3zM147 543h3v1h-3zM153 543h3v1h-3zM159 543h3v1h-3zM165 543h3v1h-3zM171 543h3v1h-3zM177 543h3v1h-3zM183 543h3v1h-3zM189 543h3v1h-3zM195 543h3v1h-3zM201 543h3v1h-3zM207 543h3v1h-3zM213 543h3v1h-3zM219 543h3v1h-3zM225 543h3v1h-3zM231 543h3v1h-3zM237 543h3v1h-3zM244 543h3v1h-3zM250 543h3v1h-3zM256 543h3v1h-3zM262 543h3v1h-3zM268 543h3v1h-3zM274 543h3v1h-3zM280 543h3v1h-3zM286 543h3v1h-3zM292 543h3v1h-3zM298 543h3v1h-3zM304 543h3v1h-3zM310 543h3v1h-3zM316 543h3v1h-3zM322 543h3v1h-3zM328 543h3v1h-3zM334 543h3v1h-3zM340 543h3v1h-3zM346 543h3v1h-3zM352 543h3v1h-3zM358 543h3v1h-3zM364 543h3v1h-3zM370 543h3v1h-3zM376 543h3v1h-3zM382 543h3v1h-3zM388 543h3v1h-3zM394 543h3v1h-3zM400 543h3v1h-3zM406 543h3v1h-3zM412 543h3v1h-3zM418 543h3v1h-3zM424 543h3v1h-3zM430 543h3v1h-3zM436 543h3v1h-3zM442 543h3v1h-3zM448 543h3v1h-3zM454 543h3v1h-3zM460 543h3v1h-3zM466 543h3v1h-3zM472 543h3v1h-3zM478 543h3v1h-3zM484 543h3v1h-3zM490 543h3v1h-3zM496 543h3v1h-3zM502 543h3v1h-3zM508 543h3v1h-3zM514 543h3v1h-3zM520 543h3v1h-3zM526 543h3v1h-3zM532 543h3v1h-3zM538 543h3v1h-3zM544 543h3v1h-3zM550 543h3v1h-3zM556 543h3v1h-3zM562 543h3v1h-3zM568 543h3v1h-3zM574 543h3v1h-3zM580 543h3v1h-3zM586 543h3v1h-3zM592 543h3v1h-3zM598 543h3v1h-3zM604 543h3v1h-3zM610 543h3v1h-3zM616 543h3v1h-3zM622 543h3v1h-3zM628 543h3v1h-3zM634 543h3v1h-3zM640 543h3v1h-3zM646 543h3v1h-3zM652 543h3v1h-3zM658 543h3v1h-3zM664 543h3v1h-3zM670 543h3v1h-3zM676 543h3v1h-3zM682 543h3v1h-3zM688 543h3v1h-3zM694 543h3v1h-3zM700 543h3v1h-3zM706 543h3v1h-3zM712 543h3v1h-3zM718 543h3v1h-3zM724 543h3v1h-3zM731 543h3v1h-3zM737 543h3v1h-3zM743 543h3v1h-3zM749 543h3v1h-3zM755 543h3v1h-3zM761 543h3v1h-3zM767 543h3v1h-3zM773 543h3v1h-3zM779 543h3v1h-3zM785 543h3v1h-3zM791 543h3v1h-3zM797 543h3v1h-3zM803 543h3v1h-3zM809 543h3v1h-3zM815 543h3v1h-3zM821 543h3v1h-3zM827 543h3v1h-3zM833 543h3v1h-3zM839 543h3v1h-3zM845 543h3v1h-3zM851 543h3v1h-3zM857 543h3v1h-3zM863 543h3v1h-3zM869 543h3v1h-3zM875 543h3v1h-3zM881 543h3v1h-3zM887 543h3v1h-3zM893 543h3v1h-3zM899 543h3v1h-3zM905 543h3v1h-3zM911 543h3v1h-3zM917 543h3v1h-3zM923 543h3v1h-3zM929 543h3v1h-3zM935 543h3v1h-3zM941 543h3v1h-3zM947 543h3v1h-3zM953 543h3v1h-3zM959 543h3v1h-3zM965 543h3v1h-3zM971 543h3v1h-3zM977 543h3v1h-3zM983 543h3v1h-3zM989 543h3v1h-3zM995 543h3v1h-3zM1001 543h3v1h-3zM1007 543h3v1h-3zM1013 543h3v1h-3zM1019 543h3v1h-3zM1025 543h3v1h-3zM1031 543h3v1h-3zM1037 543h3v1h-3zM1043 543h3v1h-3zM1049 543h3v1h-3zM1055 543h3v1h-3zM1061 543h3v1h-3zM1067 543h3v1h-3zM1073 543h3v1h-3zM1079 543h3v1h-3zM1085 543h3v1h-3zM1091 543h3v1h-3zM1097 543h3v1h-3zM1103 543h3v1h-3zM1109 543h3v1h-3zM1115 543h3v1h-3zM1121 543h3v1h-3zM1127 543h3v1h-3zM1133 543h3v1h-3zM1139 543h3v1h-3zM1145 543h3v1h-3z"/>
<path fill="#f00" d="M3 603h3v1h-3zM9 603h3v1h-3zM15 603h3v1h-3zM21 603h3v1h-3zM27 603h3v1h-3zM33 603h3v1h-3zM39 603h3v1h-3zM45 603h3v1h-3zM51 603h3v1h-3zM57 603h3v1h-3zM63 603h3v1h-3zM69 603h3v1h-3zM75 603h3v1h-3zM81 603h3v1h-3zM87 603h3v1h-3zM93 603h3v1h-3zM99 603h3v1h-3zM105 603h3v1h-3zM111 603h3v1h-3zM117 603h3v1h-3zM123 603h3v1h-3zM129 603h3v1h-3zM135 603h3v1h-3zM141 603h3v1h-3zM147 603h3v1h-3zM153 603h3v1h-3zM159 603h3v1h-3zM165 603h3v1h-3zM171 603h3v1h-3zM177 603h3v1h-3zM183 603h3v1h-3zM189 603h3v1h-3zM195 603h3v1h-3zM201 603h3v1h-3zM207 603h3v1h-3zM213 603h3v1h-3zM219 603h3v1h-3zM225 603h3v1h-3zM231 603h3v1h-3zM237 603h3v1h-3zM244 603h3v1h-3zM250 603h3v1h-3zM256 603h3v1h-3zM262 603h3v1h-3zM268 603h3v1h-3zM274 603h3v1h-3zM280 603h3v1h-3zM286 603h3v1h-3zM292 603h3v1h-3zM298 603h3v1h-3zM304 603h3v1h-3zM310 603h3v1h-3zM316 603h3v1h-3zM322 603h3v1h-3zM328 603h3v1h-3zM334 603h3v1h-3zM340 603h3v1h-3zM346 603h3v1h-3zM352 603h3v1h-3zM358 603h3v1h-3zM364 603h3v1h-3zM370 603h3v1h-3zM376 603h3v1h-3zM382 603h3v1h-3zM388 603h3v1h-3zM394 603h3v1h-3zM400 603h3v1h-3zM406 603h3v1h-3zM412 603h3v1h-3zM418 603h3v1h-3zM424 603h3v1h-3zM430 603h3v1h-3zM436 603h3v1h-3zM442 603h3v1h-3zM448 603h3v1h-3zM454 603h3v1h-3zM460 603h3v1h-3zM466 603h3v1h-3zM472 603h3v1h-3zM478 603h3v1h-3zM484 603h3v1h-3zM490 603h3v1h-3zM496 603h3v1h-3zM502 603h3v1h-3zM508 603h3v1h-3zM514 603h3v1h-3zM520 603h3v1h-3zM526 603h3v1h-3zM532 603h3v1h-3zM538 603h3v1h-3zM544 603h3v1h-3zM550 603h3v1h-3zM556 603h3v1h-3zM562 603h3v1h-3zM568 603h3v1h-3zM574 603h3v1h-3zM580 603h3v1h-3zM586 603h3v1h-3zM592 603h3v1h-3zM598 603h3v1h-3zM604 603h3v1h-3zM610 603h3v1h-3zM616 603h3v1h-3zM622 603h3v1h-3zM628 603h3v1h-3zM634 603h3v1h-3zM640 603h3v1h-3zM646 603h3v1h-3zM652 603h3v1h-3zM658 603h3v1h-3zM664 603h3v1h-3zM670 603h3v1h-3zM676 603h3v1h-3zM682 603h3v1h-3zM688 603h3v1h-3zM694 603h3v1h-3zM700 603h3v1h-3zM706 603h3v1h-3zM712 603h3v1h-3zM718 603h3v1h-3zM724 603h3v1h-3zM731 603h3v1h-3zM737 603h3v1h-3zM743 603h3v1h-3zM749 603h3v1h-3zM755 603h3v1h-3zM761 603h3v1h-3zM767 603h3v1h-3zM773 603h3v1h-3zM779 603h3v1h-3zM785 603h3v1h-3zM791 603h3v1h-3zM797 603h3v1h-3zM803 603h3v1h-3zM809 603h3v1h-3zM815 603h3v1h-3zM821 603h3v1h-3zM827 603h3v1h-3zM833 603h3v1h-3zM839 603h3v1h-3zM845 603h3v1h-3zM851 603h3v1h-3zM857 603h3v1h-3zM863 603h3v1h-3zM869 603h3v1h-3zM875 603h3v1h-3zM881 603h3v1h-3zM887 603h3v1h-3zM893 603h3v1h-3zM899 603h3v1h-3zM905 603h3v1h-3zM911 603h3v1h-3zM917 603h3v1h-3zM923 603h3v1h-3zM929 603h3v1h-3zM935 603h3v1h-3zM941 603h3v1h-3zM947 603h3v1h-3zM953 603h3v1h-3zM959 603h3v1h-3zM965 603h3v1h-3zM971 603h3v1h-3zM977 603h3v1h-3zM983 603h3v1h-3zM989 603h3v1h-3zM995 603h3v1h-3zM1001 603h3v1h-3zM1007 603h3v1h-3zM1013 603h3v1h-3zM1019 603h3v1h-3zM1025 603h3v1h-3zM1031 603h3v1h-3zM1037 603h3v1h-3zM1043 603h3v1h-3zM1049 603h3v1h-3zM1055 603h3v1h-3zM1061 603h3v1h-3zM1067 603h3v1h-3zM1073 603h3v1h-3zM1079 603h3v1h-3zM1085 603h3v1h-3zM1091 603h3v1h-3zM1097 603h3v1h-3zM1103 603h3v1h-3zM1109 603h3v1h-3zM1115 603h3v1h-3zM1121 603h3v1h-3zM1127 603h3v1h-3zM1133 603h3v1h-3zM1139 603h3v1h-3zM1145 603h3v1h-3z"/>
<path fill="#00f" d="M3 670h3v1h-3zM9 670h3v1h-3zM15 670h3v1h-3zM21 670h3v1h-3zM27 670h3v1h-3zM33 670h3v1h-3zM39 670h3v1h-3zM45 670h3v1h-3zM51 670h3v1h-3zM57 670h3v1h-3zM63 670h3v1h-3zM69 670h3v1h-3zM75 670h3v1h-3zM81 670h3v1h-3zM87 670h3v1h-3zM93 670h3v1h-3zM99 670h3v1h-3zM105 670h3v1h-3zM111 670h3v1h-3zM117 670h3v1h-3zM123 670h3v1h-3zM129 670h3v1h-3zM135 670h3v1h-3zM141 670h3v1h-3zM147 670h3v1h-3zM153 670h3v1h-3zM159 670h3v1h-3zM165 670h3v1h-3zM171 670h3v1h-3zM177 670h3v1h-3zM183 670h3v1h-3zM189 670h3v1h-3zM195 670h3v1h-3zM201 670h3v1h-3zM207 670h3v1h-3zM213 670h3v1h-3zM219 670h3v1h-3zM225 670h3v1h-3zM231 670h3v1h-3zM237 670h3v1h-3zM244 670h3v1h-3zM250 670h3v1h-3zM256 670h3v1h-3zM262 670h3v1h-3zM268 670h3v1h-3zM274 670h3v1h-3zM280 670h3v1h-3zM286 670h3v1h-3zM292 670h3v1h-3zM298 670h3v1h-3zM304 670h3v1h-3zM310 670h3v1h-3zM316 670h3v1h-3zM322 670h3v1h-3zM328 670h3v1h-3zM334 670h3v1h-3zM340 670h3v1h-3zM346 670h3v1h-3zM352 670h3v1h-3zM358 670h3v1h-3zM364 670h3v1h-3zM370 670h3v1h-3zM376 670h3v1h-3zM382 670h3v1h-3zM388 670h3v1h-3zM394 670h3v1h-3zM400 670h3v1h-3zM406 670h3v1h-3zM412 670h3v1h-3zM418 670h3v1h-3zM424 670h3v1h-3zM430 670h3v1h-3zM436 670h3v1h-3zM442 670h3v1h-3zM448 670h3v1h-3zM454 670h3v1h-3zM460 670h3v1h-3zM466 670h3v1h-3zM472 670h3v1h-3zM478 670h3v1h-3zM484 670h3v1h-3zM490 670h3v1h-3zM496 670h3v1h-3zM502 670h3v1h-3zM508 670h3v1h-3zM514 670h3v1h-3zM520 670h3v1h-3zM526 670h3v1h-3zM532 670h3v1h-3zM538 670h3v1h-3zM544 670h3v1h-3zM550 670h3v1h-3zM556 670h3v1h-3zM562 670h3v1h-3zM568 670h3v1h-3zM574 670h3v1h-3zM580 670h3v1h-3zM586 670h3v1h-3zM592 670h3v1h-3zM598 670h3v1h-3zM604 670h3v1h-3zM610 670h3v1h-3zM616 670h3v1h-3zM622 670h3v1h-3zM628 670h3v1h-3zM634 670h3v1h-3zM640 670h3v1h-3zM646 670h3v1h-3zM652 670h3v1h-3zM658 670h3v1h-3zM664 670h3v1h-3zM670 670h3v1h-3zM676 670h3v1h-3zM682 670h3v1h-3zM688 670h3v1h-3zM694 670h3v1h-3zM700 670h3v1h-3zM706 670h3v1h-3zM712 670h3v1h-3zM718 670h3v1h-3zM724 670h3v1h-3zM731 670h3v1h-3zM737 670h3v1h-3zM743 670h3v1h-3zM749 670h3v1h-3zM755 670h3v1h-3zM761 670h3v1h-3zM767 670h3v1h-3zM773 670h3v1h-3zM779 670h3v1h-3zM785 670h3v1h-3zM791 670h3v1h-3zM797 670h3v1h-3zM803 670h3v1h-3zM809 670h3v1h-3zM815 670h3v1h-3zM821 670h3v1h-3zM827 670h3v1h-3zM833 670h3v1h-3zM839 670h3v1h-3zM845 670h3v1h-3zM851 670h3v1h-3zM857 670h3v1h-3zM863 670h3v1h-3zM869 670h3v1h-3zM875 670h3v1h-3zM881 670h3v1h-3zM887 670h3v1h-3zM893 670h3v1h-3zM899 670h3v1h-3zM905 670h3v1h-3zM911 670h3v1h-3zM917 670h3v1h-3zM923 670h3v1h-3zM929 670h3v1h-3zM935 670h3v1h-3zM941 670h3v1h-3zM947 670h3v1h-3zM953 670h3v1h-3zM959 670h3v1h-3zM965 670h3v1h-3zM971 670h3v1h-3zM977 670h3v1h-3zM983 670h3v1h-3zM989 670h3v1h-3zM995 670h3v1h-3zM1001 670h3v1h-3zM1007 670h3v1h-3zM1013 670h3v1h-3zM1019 670h3v1h-3zM1025 670h3v1h-3zM1031 670h3v1h-3zM1037 670h3v1h-3zM1043 670h3v1h-3zM1049 670h3v1h-3zM1055 670h3v1h-3zM1061 670h3v1h-3zM1067 670h3v1h-3zM1073 670h3v1h-3zM1079 670h3v1h-3zM1085 670h3v1h-3zM1091 670h3v1h-3zM1097 670h3v1h-3zM1103 670h3v1h-3zM1109 670h3v1h-3zM1115 670h3v1h-3zM1121 670h3v1h-3zM1127 670h3v1h-3zM1133 670h3v1h-3zM1139 670h3v1h-3zM1145 670h3v1h-3z"/>
<rect x="684" y="370" width="464" height="2" fill="#00f"/>
<polyline points="12.0,146.3 28.5,138.0 60.0,128.0 150.0,134.6 159.2,138.3 171.6,141.1 184.0,146.0 196.4,152.2 200.0,154.2 212.4,157.3 228.5,162.5 237.2,166.9 249.6,168.7 264.5,170.3 269.4,171.9 286.8,171.9 299.2,170.7 311.6,169.9 324.0,166.9 332.6,164.7 340.0,160.3 348.7,158.1 356.0,157.1 364.8,156.2 387.0,155.9 393.0,157.8 403.0,158.1 412.0,159.3 420.6,160.3 426.8,162.8 439.0,165.5 451.6,169.5 464.0,176.2 476.4,183.6 480.0,186.8 492.4,194.9 507.3,205.4 523.4,212.8 539.5,219.9 551.9,226.1 564.3,231.1 581.6,239.5 587.8,244.5 604.0,250.7 612.6,254.4 620.0,260.0 632.4,266.1 644.8,272.3 652.2,277.3 667.1,284.7 675.8,290.9 684.5,297.7 694.4,305.8 706.8,314.5 715.4,320.0 724.1,323.1 731.6,326.9 747.7,332.8 755.1,332.8 762.6,334.9 766.2,336.0 772.4,338.4 779.8,340.3 788.5,340.9 797.2,343.6 804.6,344.6 819.5,345.2 828.2,346.5 840.6,347.7 884.0,347.7 900.0,348.7 907.4,349.0 916.1,350.9 924.8,354.4 932.2,357.5 940.9,358.1 949.6,360.6 957.0,361.8 964.5,363.0 979.3,364.3 986.8,364.5 1002.9,364.5 1005.4,363.7 1019.0,363.7 1025.2,361.8 1036.4,360.2 1043.8,359.6 1059.8,357.8 1067.2,354.4 1075.9,352.5 1084.5,349.4 1090.7,345.1 1099.4,340.7 1108.1,337.3 1115.5,333.3 1123.0,331.8" fill="none" stroke="#f00" stroke-width="2" stroke-linejoin="round"/>
<path fill="#000" d="M75 141h2v13h-2zM74 141h1v2h-1zM77 147h2v2h-2zM83 142h2v20h-2zM82 151h1v2h-1zM85 146h2v2h-2zM91 147h2v9h-2zM90 147h1v2h-1zM93 152h2v2h-2zM99 154h2v3h-2zM98 155h1v2h-1zM101 155h2v2h-2zM107 149h2v6h-2zM106 149h1v2h-1zM109 149h2v2h-2zM115 154h2v6h-2zM114 158h1v2h-1zM117 156h2v2h-2zM123 156h2v10h-2zM122 156h1v2h-1zM125 160h2v2h-2zM131 147h2v24h-2zM130 166h1v2h-1zM133 147h2v2h-2zM139 147h2v17h-2zM138 152h1v2h-1zM141 162h2v2h-2zM147 159h2v9h-2zM146 162h1v2h-1zM149 165h2v2h-2zM155 169h2v7h-2zM154 169h1v2h-1zM157 173h2v2h-2zM163 169h2v9h-2zM162 172h1v2h-1zM165 170h2v2h-2zM171 170h2v14h-2zM170 180h1v2h-1zM173 178h2v2h-2zM179 175h2v5h-2zM178 177h1v2h-1zM181 176h2v2h-2zM187 159h2v23h-2zM186 179h1v2h-1zM189 163h2v2h-2zM195 160h2v10h-2zM194 160h1v2h-1zM197 168h2v2h-2zM203 172h2v7h-2zM202 175h1v2h-1zM205 172h2v2h-2zM211 174h2v4h-2zM210 176h1v2h-1zM213 174h2v2h-2zM219 170h2v8h-2zM218 176h1v2h-1zM221 176h2v2h-2zM227 166h2v9h-2zM226 166h1v2h-1zM229 171h2v2h-2zM235 174h2v20h-2zM234 174h1v2h-1zM237 192h2v2h-2zM243 169h2v29h-2zM242 196h1v2h-1zM245 179h2v2h-2zM251 174h2v24h-2zM250 174h1v2h-1zM253 187h2v2h-2zM259 153h2v34h-2zM258 171h1v2h-1zM261 153h2v2h-2zM267 167h2v21h-2zM266 173h1v2h-1zM269 186h2v2h-2zM275 161h2v29h-2zM274 188h1v2h-1zM277 170h2v2h-2zM283 169h2v7h-2zM282 174h1v2h-1zM285 172h2v2h-2zM291 135h2v37h-2zM290 170h1v2h-1zM293 135h2v2h-2zM299 118h2v25h-2zM298 128h1v2h-1zM301 127h2v2h-2zM307 134h2v23h-2zM306 134h1v2h-1zM309 151h2v2h-2zM315 123h2v24h-2zM314 138h1v2h-1zM317 130h2v2h-2zM323 124h2v16h-2zM322 138h1v2h-1zM325 138h2v2h-2zM331 120h2v14h-2zM330 130h1v2h-1zM333 120h2v2h-2zM339 87h2v23h-2zM338 105h1v2h-1zM341 105h2v2h-2zM347 111h2v17h-2zM346 111h1v2h-1zM349 126h2v2h-2zM355 119h2v25h-2zM354 119h1v2h-1zM357 142h2v2h-2zM363 148h2v10h-2zM362 148h1v2h-1zM365 148h2v2h-2zM371 148h2v20h-2zM370 148h1v2h-1zM373 166h2v2h-2zM379 172h2v10h-2zM378 174h1v2h-1zM381 175h2v2h-2zM387 175h2v7h-2zM386 180h1v2h-1zM389 180h2v2h-2zM395 200h2v9h-2zM394 204h1v2h-1zM397 202h2v2h-2zM403 196h2v9h-2zM402 203h1v2h-1zM405 196h2v2h-2zM411 195h2v4h-2zM410 196h1v2h-1zM413 196h2v2h-2zM419 212h2v4h-2zM418 212h1v2h-1zM421 212h2v2h-2zM427 210h2v8h-2zM426 213h1v2h-1zM429 216h2v2h-2zM435 221h2v10h-2zM434 227h1v2h-1zM437 224h2v2h-2zM443 224h2v9h-2zM442 224h1v2h-1zM445 227h2v2h-2zM451 225h2v11h-2zM450 234h1v2h-1zM453 228h2v2h-2zM459 219h2v15h-2zM458 219h1v2h-1zM461 232h2v2h-2zM467 221h2v21h-2zM466 240h1v2h-1zM469 227h2v2h-2zM475 233h2v19h-2zM474 233h1v2h-1zM477 250h2v2h-2zM483 229h2v20h-2zM482 244h1v2h-1zM485 229h2v2h-2zM491 229h2v23h-2zM490 229h1v2h-1zM493 250h2v2h-2zM499 234h2v14h-2zM498 239h1v2h-1zM501 234h2v2h-2zM507 214h2v10h-2zM506 219h1v2h-1zM509 222h2v2h-2zM515 214h2v15h-2zM514 226h1v2h-1zM517 214h2v2h-2zM523 210h2v21h-2zM522 210h1v2h-1zM525 226h2v2h-2zM531 223h2v2h-2zM530 223h1v2h-1zM533 223h2v2h-2zM539 230h2v6h-2zM538 230h1v2h-1zM541 234h2v2h-2zM547 246h2v20h-2zM546 246h1v2h-1zM549 264h2v2h-2zM555 254h2v8h-2zM554 258h1v2h-1zM557 257h2v2h-2zM563 255h2v9h-2zM562 255h1v2h-1zM565 262h2v2h-2zM571 263h2v23h-2zM570 265h1v2h-1zM573 283h2v2h-2zM579 273h2v11h-2zM578 282h1v2h-1zM581 282h2v2h-2zM587 297h2v17h-2zM586 301h1v2h-1zM589 309h2v2h-2zM595 301h2v8h-2zM594 301h1v2h-1zM597 303h2v2h-2zM603 297h2v14h-2zM602 309h1v2h-1zM605 301h2v2h-2zM611 294h2v12h-2zM610 294h1v2h-1zM613 303h2v2h-2zM619 318h2v13h-2zM618 318h1v2h-1zM621 328h2v2h-2zM627 313h2v6h-2zM626 317h1v2h-1zM629 313h2v2h-2zM635 308h2v16h-2zM634 308h1v2h-1zM637 322h2v2h-2zM643 325h2v9h-2zM642 332h1v2h-1zM645 332h2v2h-2zM651 334h2v6h-2zM650 335h1v2h-1zM653 334h2v2h-2zM659 326h2v8h-2zM658 329h1v2h-1zM661 327h2v2h-2zM667 324h2v10h-2zM666 324h1v2h-1zM669 328h2v2h-2zM675 337h2v2h-2zM674 337h1v2h-1zM677 337h2v2h-2zM683 349h2v9h-2zM682 349h1v2h-1zM685 356h2v2h-2zM691 347h2v9h-2zM690 354h1v2h-1zM693 354h2v2h-2zM699 352h2v14h-2zM698 364h1v2h-1zM701 358h2v2h-2zM707 350h2v12h-2zM706 360h1v2h-1zM709 350h2v2h-2zM715 342h2v19h-2zM714 342h1v2h-1zM717 359h2v2h-2zM723 323h2v35h-2zM722 356h1v2h-1zM725 330h2v2h-2zM731 335h2v15h-2zM730 335h1v2h-1zM733 344h2v2h-2zM739 345h2v8h-2zM738 349h1v2h-1zM741 345h2v2h-2zM747 325h2v17h-2zM746 339h1v2h-1zM749 329h2v2h-2zM755 315h2v13h-2zM754 326h1v2h-1zM757 322h2v2h-2zM763 322h2v26h-2zM762 322h1v2h-1zM765 344h2v2h-2zM771 348h2v12h-2zM770 348h1v2h-1zM773 353h2v2h-2zM779 350h2v8h-2zM778 353h1v2h-1zM781 354h2v2h-2zM787 349h2v17h-2zM786 349h1v2h-1zM789 355h2v2h-2zM795 352h2v12h-2zM794 361h1v2h-1zM797 353h2v2h-2zM803 337h2v27h-2zM802 362h1v2h-1zM805 347h2v2h-2zM811 327h2v27h-2zM810 345h1v2h-1zM813 344h2v2h-2zM819 333h2v18h-2zM818 344h1v2h-1zM821 334h2v2h-2zM827 334h2v19h-2zM826 334h1v2h-1zM829 347h2v2h-2zM835 339h2v13h-2zM834 349h1v2h-1zM837 349h2v2h-2zM843 345h2v9h-2zM842 346h1v2h-1zM845 351h2v2h-2zM851 359h2v10h-2zM850 359h1v2h-1zM853 360h2v2h-2zM859 360h2v10h-2zM858 362h1v2h-1zM861 368h2v2h-2zM867 333h2v33h-2zM866 364h1v2h-1zM869 345h2v2h-2zM875 344h2v9h-2zM874 347h1v2h-1zM877 347h2v2h-2zM883 343h2v12h-2zM882 344h1v2h-1zM885 346h2v2h-2zM891 341h2v10h-2zM890 347h1v2h-1zM893 342h2v2h-2zM899 343h2v25h-2zM898 355h1v2h-1zM901 362h2v2h-2zM907 358h2v10h-2zM906 361h1v2h-1zM909 362h2v2h-2zM915 358h2v12h-2zM914 364h1v2h-1zM917 368h2v2h-2zM923 371h2v20h-2zM922 371h1v2h-1zM925 388h2v2h-2zM931 391h2v8h-2zM930 391h1v2h-1zM933 394h2v2h-2zM939 381h2v10h-2zM938 385h1v2h-1zM941 385h2v2h-2zM947 380h2v8h-2zM946 384h1v2h-1zM949 386h2v2h-2zM955 374h2v10h-2zM954 380h1v2h-1zM957 374h2v2h-2zM963 371h2v7h-2zM962 376h1v2h-1zM965 375h2v2h-2zM971 362h2v26h-2zM970 384h1v2h-1zM973 372h2v2h-2zM979 359h2v11h-2zM978 359h1v2h-1zM981 367h2v2h-2zM987 350h2v18h-2zM986 366h1v2h-1zM989 353h2v2h-2zM995 344h2v12h-2zM994 346h1v2h-1zM997 344h2v2h-2zM1003 335h2v13h-2zM1002 340h1v2h-1zM1005 336h2v2h-2zM1011 339h2v7h-2zM1010 342h1v2h-1zM1013 341h2v2h-2zM1019 337h2v7h-2zM1018 339h1v2h-1zM1021 337h2v2h-2zM1027 331h2v18h-2zM1026 346h1v2h-1zM1029 334h2v2h-2zM1035 329h2v7h-2zM1034 334h1v2h-1zM1037 329h2v2h-2zM1043 318h2v13h-2zM1042 329h1v2h-1zM1045 319h2v2h-2zM1051 310h2v16h-2zM1050 311h1v2h-1zM1053 323h2v2h-2zM1059 317h2v11h-2zM1058 322h1v2h-1zM1061 317h2v2h-2zM1067 312h2v12h-2zM1066 322h1v2h-1zM1069 312h2v2h-2zM1075 310h2v13h-2zM1074 311h1v2h-1zM1077 312h2v2h-2zM1083 308h2v14h-2zM1082 318h1v2h-1zM1085 308h2v2h-2zM1091 292h2v16h-2zM1090 306h1v2h-1zM1093 292h2v2h-2zM1099 299h2v15h-2zM1098 299h1v2h-1zM1101 310h2v2h-2zM1107 308h2v13h-2zM1106 316h1v2h-1zM1109 311h2v2h-2zM1115 300h2v11h-2zM1114 308h1v2h-1zM1117 300h2v2h-2zM1123 318h2v21h-2zM1121 318h2v2h-2zM1125 337h4v2h-4z"/>
<path fill="#00f" d="M11 483h2v90h-2zM19 466h2v107h-2zM27 446h2v127h-2zM35 465h2v108h-2zM43 485h2v88h-2zM51 491h2v82h-2zM59 492h2v81h-2zM67 488h2v85h-2zM75 506h2v67h-2zM83 513h2v60h-2zM91 516h2v57h-2zM99 518h2v55h-2zM107 514h2v59h-2zM115 518h2v55h-2zM123 522h2v51h-2zM131 514h2v59h-2zM139 520h2v53h-2zM147 524h2v49h-2zM155 528h2v45h-2zM163 531h2v42h-2zM171 536h2v37h-2zM179 537h2v36h-2zM187 515h2v58h-2zM195 520h2v53h-2zM203 524h2v49h-2zM211 527h2v46h-2zM219 520h2v53h-2zM227 519h2v54h-2zM235 530h2v43h-2zM243 530h2v43h-2zM251 538h2v35h-2zM259 516h2v57h-2zM267 528h2v45h-2zM275 528h2v45h-2zM283 530h2v43h-2zM291 499h2v74h-2zM299 486h2v87h-2zM307 499h2v74h-2zM315 496h2v77h-2zM323 502h2v71h-2zM331 506h2v67h-2zM339 479h2v94h-2zM347 488h2v85h-2zM355 498h2v75h-2zM363 503h2v70h-2zM371 510h2v63h-2zM379 515h2v58h-2zM387 518h2v55h-2zM395 526h2v47h-2zM403 523h2v50h-2zM411 522h2v51h-2zM419 528h2v45h-2zM427 528h2v45h-2zM435 531h2v42h-2zM443 534h2v39h-2zM451 538h2v35h-2zM459 531h2v42h-2zM467 538h2v35h-2zM475 544h2v29h-2zM483 545h2v28h-2zM491 550h2v23h-2zM499 553h2v20h-2zM507 530h2v43h-2zM515 533h2v40h-2zM523 533h2v40h-2zM531 534h2v39h-2zM539 538h2v35h-2zM547 545h2v28h-2zM555 548h2v25h-2zM563 549h2v24h-2zM571 553h2v20h-2zM579 555h2v18h-2zM587 560h2v13h-2zM595 561h2v12h-2zM603 557h2v16h-2zM611 555h2v18h-2zM619 559h2v14h-2zM627 552h2v21h-2zM635 555h2v18h-2zM643 556h2v17h-2zM651 558h2v15h-2zM659 547h2v26h-2zM667 545h2v28h-2zM675 547h2v26h-2zM683 552h2v21h-2zM691 553h2v20h-2zM699 556h2v17h-2zM707 553h2v20h-2zM715 543h2v30h-2zM723 523h2v50h-2zM731 529h2v44h-2zM739 531h2v42h-2zM747 505h2v68h-2zM755 497h2v76h-2zM763 509h2v64h-2zM771 515h2v58h-2zM779 518h2v55h-2zM787 524h2v49h-2zM795 528h2v45h-2zM803 514h2v59h-2zM811 510h2v63h-2zM819 517h2v56h-2zM827 524h2v49h-2zM835 528h2v45h-2zM843 531h2v42h-2zM851 536h2v37h-2zM859 539h2v34h-2zM867 509h2v64h-2zM875 512h2v61h-2zM883 517h2v56h-2zM891 518h2v55h-2zM899 526h2v47h-2zM907 530h2v43h-2zM915 534h2v39h-2zM923 540h2v33h-2zM931 543h2v30h-2zM939 530h2v43h-2zM947 531h2v42h-2zM955 525h2v48h-2zM963 521h2v52h-2zM971 531h2v42h-2zM979 532h2v41h-2zM987 524h2v49h-2zM995 516h2v57h-2zM1003 506h2v67h-2zM1011 510h2v63h-2zM1019 512h2v61h-2zM1027 508h2v65h-2zM1035 506h2v67h-2zM1043 493h2v80h-2zM1051 488h2v85h-2zM1059 497h2v76h-2zM1067 496h2v77h-2zM1075 504h2v69h-2zM1083 505h2v68h-2zM1091 484h2v89h-2zM1099 498h2v75h-2zM1107 506h2v67h-2zM1115 498h2v75h-2zM1123 518h2v55h-2z"/>
<polyline points="12.5,516.5 20.5,523.5 28.5,534.6 36.5,521.0 44.5,485.8 52.5,490.0 60.5,495.8 68.5,501.6 76.5,482.0 84.5,480.7 92.5,485.2 100.5,484.1 108.5,488.6 116.5,487.0 124.5,481.5 132.5,495.2 140.5,505.5 148.5,503.5 156.5,492.6 164.5,494.2 172.5,490.2 180.5,493.6 188.5,508.5 196.5,513.4 204.5,500.5 212.5,504.5 220.5,511.5 228.5,517.4 236.5,489.2 244.5,506.5 252.5,517.4 260.5,529.0 268.5,535.3 276.5,542.9 284.5,544.8 292.5,551.2 300.5,554.8 308.5,542.9 316.5,547.2 324.5,550.2 332.5,552.8 340.5,556.2 348.5,538.3 356.5,524.4 364.5,513.4 372.5,508.5 380.5,496.2 388.5,499.5 396.5,477.7 404.5,482.0 412.5,484.0 420.5,470.3 428.5,474.1 436.5,462.2 444.5,465.8 452.5,469.3 460.5,480.7 468.5,482.0 476.5,481.7 484.5,493.6 492.5,499.5 500.5,509.5 508.5,517.0 516.5,515.4 524.5,523.0 532.5,524.4 540.5,509.5 548.5,479.7 556.5,486.6 564.5,485.2 572.5,466.8 580.5,474.1 588.5,450.5 596.5,456.8 604.5,466.8 612.5,474.1 620.5,453.4 628.5,466.2 636.5,467.4 644.5,458.4 652.5,454.2 660.5,461.8 668.5,470.3 676.5,466.2 684.5,449.9 692.5,459.4 700.5,453.8 708.5,461.8 716.5,479.7 724.5,502.5 732.5,511.5 740.5,509.5 748.5,517.4 756.5,523.0 764.5,502.5 772.5,492.6 780.5,495.6 788.5,492.6 796.5,498.5 804.5,511.5 812.5,520.4 820.5,527.4 828.5,530.3 836.5,535.3 844.5,533.3 852.5,516.4 860.5,516.4 868.5,527.4 876.5,532.3 884.5,532.3 892.5,534.3 900.5,516.4 908.5,519.4 916.5,520.4 924.5,497.1 932.5,487.6 940.5,496.6 948.5,500.5 956.5,508.1 964.5,512.1 972.5,508.5 980.5,514.4 988.5,523.0 996.5,526.8 1004.5,532.3 1012.5,534.9 1020.5,536.3 1028.5,541.3 1036.5,544.2 1044.5,548.2 1052.5,552.2 1060.5,551.6 1068.5,552.8 1076.5,555.6 1084.5,557.6 1092.5,560.7 1100.5,555.2 1108.5,545.2 1116.5,547.2 1124.5,511.9" fill="none" stroke="#f00" stroke-width="1"/>
<path fill="#00f" d="M11 614h2v80h-2zM19 609h2v85h-2zM27 608h2v86h-2zM35 619h2v75h-2zM43 644h2v50h-2zM51 658h2v36h-2zM59 662h2v32h-2zM67 662h2v32h-2zM75 671h2v23h-2zM83 674h2v20h-2zM91 677h2v17h-2zM99 681h2v13h-2zM107 680h2v14h-2zM115 681h2v13h-2zM123 683h2v11h-2zM131 673h2v21h-2zM139 674h2v20h-2zM147 674h2v20h-2zM155 677h2v17h-2zM163 676h2v18h-2zM171 677h2v17h-2zM179 675h2v19h-2zM187 661h2v33h-2zM195 658h2v36h-2zM203 658h2v36h-2zM211 661h2v33h-2zM219 662h2v32h-2zM227 656h2v38h-2zM235 668h2v26h-2zM243 658h2v36h-2zM251 661h2v33h-2zM259 631h2v63h-2zM267 645h2v49h-2zM275 637h2v57h-2zM283 635h2v59h-2zM291 612h2v82h-2zM299 604h2v90h-2zM307 614h2v80h-2zM315 608h2v86h-2zM323 610h2v84h-2zM331 602h2v92h-2zM339 603h2v91h-2zM347 611h2v83h-2zM355 624h2v70h-2zM363 637h2v57h-2zM371 654h2v40h-2zM379 665h2v29h-2zM387 675h2v19h-2zM395 680h2v14h-2zM403 681h2v13h-2zM411 682h2v12h-2zM419 684h2v10h-2zM427 687h2v7h-2zM435 686h2v8h-2zM443 687h2v7h-2zM451 685h2v9h-2zM459 686h2v8h-2zM467 680h2v14h-2zM475 684h2v10h-2zM483 674h2v20h-2zM491 678h2v16h-2zM499 669h2v25h-2zM507 652h2v42h-2zM515 633h2v61h-2zM523 630h2v64h-2zM531 625h2v69h-2zM539 633h2v61h-2zM547 656h2v38h-2zM555 663h2v31h-2zM563 672h2v22h-2zM571 680h2v14h-2zM579 683h2v11h-2zM587 685h2v9h-2zM595 684h2v10h-2zM603 682h2v12h-2zM611 681h2v13h-2zM619 685h2v9h-2zM627 679h2v15h-2zM635 681h2v13h-2zM643 684h2v10h-2zM651 684h2v10h-2zM659 679h2v15h-2zM667 675h2v19h-2zM675 679h2v15h-2zM683 684h2v10h-2zM691 684h2v10h-2zM699 683h2v11h-2zM707 676h2v18h-2zM715 677h2v17h-2zM723 655h2v39h-2zM731 650h2v44h-2zM739 647h2v47h-2zM747 632h2v62h-2zM755 620h2v74h-2zM763 630h2v64h-2zM771 643h2v51h-2zM779 654h2v40h-2zM787 661h2v33h-2zM795 663h2v31h-2zM803 661h2v33h-2zM811 657h2v37h-2zM819 647h2v47h-2zM827 650h2v44h-2zM835 651h2v43h-2zM843 653h2v41h-2zM851 660h2v34h-2zM859 670h2v24h-2zM867 656h2v38h-2zM875 649h2v45h-2zM883 643h2v51h-2zM891 634h2v60h-2zM899 645h2v49h-2zM907 653h2v41h-2zM915 664h2v30h-2zM923 675h2v19h-2zM931 681h2v13h-2zM939 677h2v17h-2zM947 675h2v19h-2zM955 666h2v28h-2zM963 660h2v34h-2zM971 654h2v40h-2zM979 642h2v52h-2zM987 625h2v69h-2zM995 610h2v84h-2zM1003 600h2v94h-2zM1011 599h2v95h-2zM1019 595h2v99h-2zM1027 593h2v101h-2zM1035 590h2v104h-2zM1043 587h2v107h-2zM1051 594h2v100h-2zM1059 594h2v100h-2zM1067 592h2v102h-2zM1075 591h2v103h-2zM1083 589h2v105h-2zM1091 586h2v108h-2zM1099 598h2v96h-2zM1107 608h2v86h-2zM1115 608h2v86h-2zM1123 636h2v58h-2z"/>
<path fill="#f00" d="M11 604h2v10h-2zM19 606h2v3h-2zM27 607h2v1h-2zM35 611h2v8h-2zM43 622h2v22h-2zM51 634h2v24h-2zM59 643h2v19h-2zM67 649h2v13h-2zM75 657h2v14h-2zM83 662h2v12h-2zM91 667h2v10h-2zM99 672h2v9h-2zM107 675h2v5h-2zM115 677h2v4h-2zM123 679h2v4h-2zM155 676h2v1h-2zM171 676h2v1h-2zM235 663h2v5h-2zM347 609h2v2h-2zM355 614h2v10h-2zM363 622h2v15h-2zM371 632h2v22h-2zM379 643h2v22h-2zM387 654h2v21h-2zM395 663h2v17h-2zM403 669h2v12h-2zM411 673h2v9h-2zM419 677h2v7h-2zM427 680h2v7h-2zM435 682h2v4h-2zM443 684h2v3h-2zM451 684h2v1h-2zM459 685h2v1h-2zM475 683h2v1h-2zM547 644h2v12h-2zM555 650h2v13h-2zM563 657h2v15h-2zM571 665h2v15h-2zM579 671h2v12h-2zM587 676h2v9h-2zM595 679h2v5h-2zM603 680h2v2h-2zM611 680h2v1h-2zM619 682h2v3h-2zM643 682h2v2h-2zM651 683h2v1h-2zM683 681h2v3h-2zM691 682h2v2h-2zM699 682h2v1h-2zM771 638h2v5h-2zM779 644h2v10h-2zM787 649h2v12h-2zM795 654h2v9h-2zM803 656h2v5h-2zM811 656h2v1h-2zM843 652h2v1h-2zM851 655h2v5h-2zM859 660h2v10h-2zM907 648h2v5h-2zM915 653h2v11h-2zM923 661h2v14h-2zM931 667h2v14h-2zM939 671h2v6h-2zM947 672h2v3h-2zM1099 593h2v5h-2zM1107 598h2v10h-2zM1115 601h2v7h-2zM1123 613h2v23h-2z"/>
</g>
<line x1="898.3" y1="163.2" x2="1089.9" y2="319.5" stroke="#000" stroke-width="0.9"/>
<polygon points="1100.0,327.7 1087.8,322.0 1092.0,316.9" fill="#000"/>
<line x1="871.8" y1="459.4" x2="903.1" y2="469.6" stroke="#000" stroke-width="0.9"/>
<polygon points="914.5,473.3 902.2,472.4 904.0,466.7" fill="#000"/>
<line x1="877.2" y1="628.5" x2="911.4" y2="636.8" stroke="#000" stroke-width="0.9"/>
<polygon points="923.1,639.6 910.7,639.7 912.1,633.9" fill="#000"/>
<rect x="4" y="3" width="159" height="135" fill="#fff"/>
<text x="12.2 28.1 44.1 60.0 75.9 91.9 107.8 123.8 139.7" y="24.2 21.9 24.2 24.2 24.2 23.7 23.7 23.7 23.7" font-family="Liberation Mono, DejaVu Sans Mono, monospace" font-size="27.80" text-anchor="middle" fill="#000" xml:space="preserve">O<tspan font-family="Liberation Sans, Arial, sans-serif" font-size="24.74" stroke="#000" stroke-width="0.45">=   </tspan><tspan font-family="Liberation Sans, Arial, sans-serif" font-size="26.60" stroke="#000" stroke-width="0.45">6010</tspan></text>
<text x="12.2 28.1 44.1 60.0 75.9 91.9 107.8 123.8 139.7" y="51.0 48.7 51.0 51.0 51.0 50.5 50.5 50.5 50.5" font-family="Liberation Mono, DejaVu Sans Mono, monospace" font-size="27.80" text-anchor="middle" fill="#000" xml:space="preserve">H<tspan font-family="Liberation Sans, Arial, sans-serif" font-size="24.74" stroke="#000" stroke-width="0.45">=   </tspan><tspan font-family="Liberation Sans, Arial, sans-serif" font-size="26.60" stroke="#000" stroke-width="0.45">6030</tspan></text>
<text x="12.2 28.1 44.1 60.0 75.9 91.9 107.8 123.8 139.7" y="77.8 75.5 77.8 77.8 77.8 77.3 77.3 77.3 77.3" font-family="Liberation Mono, DejaVu Sans Mono, monospace" font-size="27.80" text-anchor="middle" fill="#000" xml:space="preserve">L<tspan font-family="Liberation Sans, Arial, sans-serif" font-size="24.74" stroke="#000" stroke-width="0.45">=   </tspan><tspan font-family="Liberation Sans, Arial, sans-serif" font-size="26.60" stroke="#000" stroke-width="0.45">5694</tspan></text>
<text x="12.2 28.1 44.1 60.0 75.9 91.9 107.8 123.8 139.7" y="104.8 102.5 104.8 104.8 104.8 104.3 104.3 104.3 104.3" font-family="Liberation Mono, DejaVu Sans Mono, monospace" font-size="27.80" text-anchor="middle" fill="#000" xml:space="preserve">L<tspan font-family="Liberation Sans, Arial, sans-serif" font-size="24.74" stroke="#000" stroke-width="0.45">=   </tspan><tspan font-family="Liberation Sans, Arial, sans-serif" font-size="26.60" stroke="#000" stroke-width="0.45">5696</tspan></text>
<text x="12.2 28.1 44.1 60.0 75.9 91.9 107.8 123.8 139.7" y="132.0 129.7 132.0 132.0 132.0 131.5 131.5 131.5 131.5" font-family="Liberation Mono, DejaVu Sans Mono, monospace" font-size="27.80" text-anchor="middle" fill="#000" xml:space="preserve">Δ<tspan font-family="Liberation Sans, Arial, sans-serif" font-size="24.74" stroke="#000" stroke-width="0.45">=   </tspan><tspan font-family="Liberation Sans, Arial, sans-serif" font-size="26.60" stroke="#000" stroke-width="0.45">-596</tspan></text>
<polyline points="149.3,96.3 153.2,101.8 162.2,88.3" fill="none" stroke="#000" stroke-width="2"/>
<text x="704.2 718.3 732.4 746.4 760.5 774.5 788.6 802.7 816.7 830.8 844.8 858.9 873.0 887.0 901.1 915.1 929.2 943.2 957.3 971.4 985.4 999.5 1013.6 1027.6" y="133.9" font-family="Liberation Mono, DejaVu Sans Mono, monospace" font-size="22.30" text-anchor="middle" fill="#000" xml:space="preserve" stroke="#000" stroke-width="0.8">MARKET <tspan font-family="Liberation Sans, Arial, sans-serif" font-size="20.52" stroke="#000" stroke-width="0.8">I</tspan>S BREAK<tspan font-family="Liberation Sans, Arial, sans-serif" font-size="20.52" stroke="#000" stroke-width="0.8">I</tspan>NG BELOW</text>
<text x="704.2 718.3 732.4 746.4 760.5 774.5 788.6 802.7 816.7 830.8 844.8 858.9 873.0 887.0 901.1 915.1 929.2 943.2 957.3 971.4 985.4 999.5 1013.6 1027.6" y="154.0" font-family="Liberation Mono, DejaVu Sans Mono, monospace" font-size="22.30" text-anchor="middle" fill="#000" xml:space="preserve" stroke="#000" stroke-width="0.8">SUPPORT AT THE M<tspan font-family="Liberation Sans, Arial, sans-serif" font-size="20.52" stroke="#000" stroke-width="0.8">.</tspan>A<tspan font-family="Liberation Sans, Arial, sans-serif" font-size="20.52" stroke="#000" stroke-width="0.8">. </tspan>L<tspan font-family="Liberation Sans, Arial, sans-serif" font-size="20.52" stroke="#000" stroke-width="0.8">I</tspan>NE</text>
<text x="685.2 699.1 713.0 726.9 740.8 754.8 768.6 782.5 796.4 810.3 824.2 838.1 852.0 865.9 879.8 893.8 907.6 921.5 935.5 949.3 963.2" y="449.6" font-family="Liberation Mono, DejaVu Sans Mono, monospace" font-size="22.30" text-anchor="middle" fill="#000" xml:space="preserve" stroke="#000" stroke-width="0.8">DM<tspan font-family="Liberation Sans, Arial, sans-serif" font-size="20.52" stroke="#000" stroke-width="0.8">I </tspan>SL<tspan font-family="Liberation Sans, Arial, sans-serif" font-size="20.52" stroke="#000" stroke-width="0.8">I</tspan>GHTLY NEGAT<tspan font-family="Liberation Sans, Arial, sans-serif" font-size="20.52" stroke="#000" stroke-width="0.8">I</tspan>VE</text>
<text x="686.2 700.1 714.0 727.9 741.8 755.7 769.6 783.5 797.4 811.2 825.2 839.1 853.0 866.9" y="598.3" font-family="Liberation Mono, DejaVu Sans Mono, monospace" font-size="22.30" text-anchor="middle" fill="#000" xml:space="preserve" stroke="#000" stroke-width="0.8">STOCH NEGAT<tspan font-family="Liberation Sans, Arial, sans-serif" font-size="20.52" stroke="#000" stroke-width="0.8">I</tspan>VE</text>
<rect x="3" y="575" width="51" height="14" fill="#fff"/>
<text x="7.9 15.9 23.9" y="443.3" font-family="Liberation Mono, DejaVu Sans Mono, monospace" font-size="13.20" text-anchor="middle" fill="#000" xml:space="preserve" stroke="#000" stroke-width="0.25">DM<tspan font-family="Liberation Sans, Arial, sans-serif" font-size="12.15" stroke="#000" stroke-width="0.25">I</tspan></text>
<text x="7.9 15.9 23.9 31.9 39.9 47.9" y="585.7" font-family="Liberation Mono, DejaVu Sans Mono, monospace" font-size="13.20" text-anchor="middle" fill="#000" xml:space="preserve" stroke="#000" stroke-width="0.25">SStoch</text>
<rect x="3" y="530" width="115" height="43" fill="#fff"/>
<path d="M3 530.5H117.5V573" fill="none" stroke="#000" stroke-width="1" shape-rendering="crispEdges"/>
<text x="8.4 16.4 24.4 32.4 40.4 48.4 56.4 64.4 72.4 80.4 88.4 96.4 104.4 112.4" y="541.6" font-family="Liberation Mono, DejaVu Sans Mono, monospace" font-size="13.20" text-anchor="middle" fill="#000" xml:space="preserve" stroke="#000" stroke-width="0.25">DM<tspan font-family="Liberation Sans, Arial, sans-serif" font-size="12.15" stroke="#000" stroke-width="0.25">I</tspan>u<tspan font-family="Liberation Sans, Arial, sans-serif" font-size="12.15" stroke="#000" stroke-width="0.25">=    25.44</tspan></text>
<text x="8.4 16.4 24.4 32.4 40.4 48.4 56.4 64.4 72.4 80.4 88.4 96.4 104.4 112.4" y="555.5" font-family="Liberation Mono, DejaVu Sans Mono, monospace" font-size="13.20" text-anchor="middle" fill="#000" xml:space="preserve" stroke="#000" stroke-width="0.25">DM<tspan font-family="Liberation Sans, Arial, sans-serif" font-size="12.15" stroke="#000" stroke-width="0.25">I</tspan>d<tspan font-family="Liberation Sans, Arial, sans-serif" font-size="12.15" stroke="#000" stroke-width="0.25">=    27.60</tspan></text>
<text x="8.4 16.4 24.4 32.4 40.4 48.4 56.4 64.4 72.4 80.4 88.4 96.4 104.4 112.4" y="569.4" font-family="Liberation Mono, DejaVu Sans Mono, monospace" font-size="13.20" text-anchor="middle" fill="#000" xml:space="preserve" stroke="#000" stroke-width="0.25">DM<tspan font-family="Liberation Sans, Arial, sans-serif" font-size="12.15" stroke="#000" stroke-width="0.25">I</tspan>ATR<tspan font-family="Liberation Sans, Arial, sans-serif" font-size="12.15" stroke="#000" stroke-width="0.25">= 256.32</tspan></text>
<rect x="3" y="669" width="83" height="30" fill="#fff"/>
<path d="M3 669.5H85.5V698" fill="none" stroke="#000" stroke-width="1" shape-rendering="crispEdges"/>
<text x="8.4 16.4 24.4 32.4 40.4 48.4 56.4 64.4 72.4 80.4" y="681.3" font-family="Liberation Mono, DejaVu Sans Mono, monospace" font-size="13.20" text-anchor="middle" fill="#000" xml:space="preserve" stroke="#000" stroke-width="0.25">SSK<tspan font-family="Liberation Sans, Arial, sans-serif" font-size="12.15" stroke="#000" stroke-width="0.25">= 50.16</tspan></text>
<text x="8.4 16.4 24.4 32.4 40.4 48.4 56.4 64.4 72.4 80.4" y="695.3" font-family="Liberation Mono, DejaVu Sans Mono, monospace" font-size="13.20" text-anchor="middle" fill="#000" xml:space="preserve" stroke="#000" stroke-width="0.25">SSD<tspan font-family="Liberation Sans, Arial, sans-serif" font-size="12.15" stroke="#000" stroke-width="0.25">= 71.15</tspan></text>
<rect x="229" y="686" width="25.0" height="12" fill="#fff"/>
<text x="234.0 242.0 250.0" y="695.7" font-family="Liberation Mono, DejaVu Sans Mono, monospace" font-size="13.20" text-anchor="middle" fill="#000" xml:space="preserve" stroke="#000" stroke-width="0.25">Aug</text>
<rect x="397" y="686" width="25.0" height="12" fill="#fff"/>
<text x="402.0 410.0 418.0" y="695.7" font-family="Liberation Mono, DejaVu Sans Mono, monospace" font-size="13.20" text-anchor="middle" fill="#000" xml:space="preserve" stroke="#000" stroke-width="0.25">Sep</text>
<rect x="565" y="686" width="25.0" height="12" fill="#fff"/>
<text x="570.0 578.0 586.0" y="695.7" font-family="Liberation Mono, DejaVu Sans Mono, monospace" font-size="13.20" text-anchor="middle" fill="#000" xml:space="preserve" stroke="#000" stroke-width="0.25">Oct</text>
<rect x="749" y="686" width="25.0" height="12" fill="#fff"/>
<text x="754.0 762.0 770.0" y="695.7" font-family="Liberation Mono, DejaVu Sans Mono, monospace" font-size="13.20" text-anchor="middle" fill="#000" xml:space="preserve" stroke="#000" stroke-width="0.25">Nov</text>
<rect x="901" y="686" width="25.0" height="12" fill="#fff"/>
<text x="906.0 914.0 922.0" y="695.7" font-family="Liberation Mono, DejaVu Sans Mono, monospace" font-size="13.20" text-anchor="middle" fill="#000" xml:space="preserve" stroke="#000" stroke-width="0.25">Dec</text>
<rect x="1077" y="686" width="33.0" height="12" fill="#fff"/>
<text x="1082.0 1090.0 1098.0 1106.0" y="695.7" font-family="Liberation Mono, DejaVu Sans Mono, monospace" font-size="13.20" text-anchor="middle" fill="#000" xml:space="preserve" stroke="#000" stroke-width="0.25"><tspan font-family="Liberation Sans, Arial, sans-serif" font-size="12.15" stroke="#000" stroke-width="0.25">2009</tspan></text>
<g shape-rendering="crispEdges">
<path fill="#b6b3a5" d="M0 0h1209v1h-1209zM0 0h1v718h-1z"/>
<path fill="#8c8978" d="M0 1h1208v1h-1208z"/>
<path fill="#979483" d="M1 1h1v717h-1z"/>
<path fill="#ece9d8" d="M2 717h1207v1h-1207zM1208 2h1v716h-1z"/>
<path fill="#000" d="M2 2h1147v1h-1147zM2 2h1v715h-1zM1148 2h1v697h-1zM2 430h1147v2h-1147zM2 573h1147v2h-1147zM16 698h1133v1h-1133zM2 696h14v1h-14zM15 696h1v21h-1zM2 716h14v1h-14zM1146 5h2v1h-2zM3 5h1v1h-1zM1146 8h2v1h-2zM3 8h1v1h-1zM1146 11h2v1h-2zM3 11h1v1h-1zM1143 14h5v1h-5zM3 14h1v1h-1zM1146 17h2v1h-2zM3 17h1v1h-1zM1146 20h2v1h-2zM3 20h1v1h-1zM1146 23h2v1h-2zM3 23h1v1h-1zM1146 26h2v1h-2zM3 26h1v1h-1zM1144 29h4v1h-4zM3 29h1v1h-1zM1146 32h2v1h-2zM3 32h1v1h-1zM1146 35h2v1h-2zM3 35h1v1h-1zM1146 38h2v1h-2zM3 38h1v1h-1zM1146 41h2v1h-2zM3 41h1v1h-1zM1143 44h5v1h-5zM3 44h1v1h-1zM1146 47h2v1h-2zM3 47h1v1h-1zM1146 50h2v1h-2zM3 50h1v1h-1zM1146 53h2v1h-2zM3 53h1v1h-1zM1146 57h2v1h-2zM3 57h1v1h-1zM1144 60h4v1h-4zM3 60h1v1h-1zM1146 63h2v1h-2zM3 63h1v1h-1zM1146 66h2v1h-2zM3 66h1v1h-1zM1146 69h2v1h-2zM3 69h1v1h-1zM1146 72h2v1h-2zM3 72h1v1h-1zM1143 75h5v1h-5zM3 75h1v1h-1zM1146 78h2v1h-2zM3 78h1v1h-1zM1146 81h2v1h-2zM3 81h1v1h-1zM1146 84h2v1h-2zM3 84h1v1h-1zM1146 87h2v1h-2zM3 87h1v1h-1zM1144 90h4v1h-4zM3 90h1v1h-1zM1146 93h2v1h-2zM3 93h1v1h-1zM1146 96h2v1h-2zM3 96h1v1h-1zM1146 99h2v1h-2zM3 99h1v1h-1zM1146 102h2v1h-2zM3 102h1v1h-1zM1143 105h5v1h-5zM3 105h1v1h-1zM1146 108h2v1h-2zM3 108h1v1h-1zM1146 112h2v1h-2zM3 112h1v1h-1zM1146 115h2v1h-2zM3 115h1v1h-1zM1146 118h2v1h-2zM3 118h1v1h-1zM1144 121h4v1h-4zM3 121h1v1h-1zM1146 124h2v1h-2zM3 124h1v1h-1zM1146 127h2v1h-2zM3 127h1v1h-1zM1146 130h2v1h-2zM3 130h1v1h-1zM1146 133h2v1h-2zM3 133h1v1h-1zM1143 136h5v1h-5zM3 136h1v1h-1zM1146 139h2v1h-2zM3 139h2v1h-2zM1146 142h2v1h-2zM3 142h2v1h-2zM1146 145h2v1h-2zM3 145h2v1h-2zM1146 148h2v1h-2zM3 148h2v1h-2zM1144 151h4v1h-4zM3 151h4v1h-4zM1146 154h2v1h-2zM3 154h2v1h-2zM1146 157h2v1h-2zM3 157h2v1h-2zM1146 160h2v1h-2zM3 160h2v1h-2zM1146 164h2v1h-2zM3 164h2v1h-2zM1143 167h5v1h-5zM3 167h5v1h-5zM1146 170h2v1h-2zM3 170h2v1h-2zM1146 173h2v1h-2zM3 173h2v1h-2zM1146 176h2v1h-2zM3 176h2v1h-2zM1146 179h2v1h-2zM3 179h2v1h-2zM1144 182h4v1h-4zM3 182h4v1h-4zM1146 185h2v1h-2zM3 185h2v1h-2zM1146 188h2v1h-2zM3 188h2v1h-2zM1146 191h2v1h-2zM3 191h2v1h-2zM1146 194h2v1h-2zM3 194h2v1h-2zM1143 197h5v1h-5zM3 197h5v1h-5zM1146 200h2v1h-2zM3 200h2v1h-2zM1146 203h2v1h-2zM3 203h2v1h-2zM1146 206h2v1h-2zM3 206h2v1h-2zM1146 209h2v1h-2zM3 209h2v1h-2zM1144 212h4v1h-4zM3 212h4v1h-4zM1146 215h2v1h-2zM3 215h2v1h-2zM1146 219h2v1h-2zM3 219h2v1h-2zM1146 222h2v1h-2zM3 222h2v1h-2zM1146 225h2v1h-2zM3 225h2v1h-2zM1143 228h5v1h-5zM3 228h5v1h-5zM1146 231h2v1h-2zM3 231h2v1h-2zM1146 234h2v1h-2zM3 234h2v1h-2zM1146 237h2v1h-2zM3 237h2v1h-2zM1146 240h2v1h-2zM3 240h2v1h-2zM1144 243h4v1h-4zM3 243h4v1h-4zM1146 246h2v1h-2zM3 246h2v1h-2zM1146 249h2v1h-2zM3 249h2v1h-2zM1146 252h2v1h-2zM3 252h2v1h-2zM1146 255h2v1h-2zM3 255h2v1h-2zM1143 258h5v1h-5zM3 258h5v1h-5zM1146 261h2v1h-2zM3 261h2v1h-2zM1146 264h2v1h-2zM3 264h2v1h-2zM1146 267h2v1h-2zM3 267h2v1h-2zM1146 270h2v1h-2zM3 270h2v1h-2zM1144 274h4v1h-4zM3 274h4v1h-4zM1146 277h2v1h-2zM3 277h2v1h-2zM1146 280h2v1h-2zM3 280h2v1h-2zM1146 283h2v1h-2zM3 283h2v1h-2zM1146 286h2v1h-2zM3 286h2v1h-2zM1143 289h5v1h-5zM3 289h5v1h-5zM1146 292h2v1h-2zM3 292h2v1h-2zM1146 295h2v1h-2zM3 295h2v1h-2zM1146 298h2v1h-2zM3 298h2v1h-2zM1146 301h2v1h-2zM3 301h2v1h-2zM1144 304h4v1h-4zM3 304h4v1h-4zM1146 307h2v1h-2zM3 307h2v1h-2zM1146 310h2v1h-2zM3 310h2v1h-2zM1146 313h2v1h-2zM3 313h2v1h-2zM1146 316h2v1h-2zM3 316h2v1h-2zM1143 319h5v1h-5zM3 319h5v1h-5zM1146 322h2v1h-2zM3 322h2v1h-2zM1146 325h2v1h-2zM3 325h2v1h-2zM1146 329h2v1h-2zM3 329h2v1h-2zM1146 332h2v1h-2zM3 332h2v1h-2zM1144 335h4v1h-4zM3 335h4v1h-4zM1146 338h2v1h-2zM3 338h2v1h-2zM1146 341h2v1h-2zM3 341h2v1h-2zM1146 344h2v1h-2zM3 344h2v1h-2zM1146 347h2v1h-2zM3 347h2v1h-2zM1143 350h5v1h-5zM3 350h5v1h-5zM1146 353h2v1h-2zM3 353h2v1h-2zM1146 356h2v1h-2zM3 356h2v1h-2zM1146 359h2v1h-2zM3 359h2v1h-2zM1146 362h2v1h-2zM3 362h2v1h-2zM1144 365h4v1h-4zM3 365h4v1h-4zM1146 368h2v1h-2zM3 368h2v1h-2zM1146 371h2v1h-2zM3 371h2v1h-2zM1146 374h2v1h-2zM3 374h2v1h-2zM1146 377h2v1h-2zM3 377h2v1h-2zM1143 380h5v1h-5zM3 380h5v1h-5zM1146 384h2v1h-2zM3 384h2v1h-2zM1146 387h2v1h-2zM3 387h2v1h-2zM1146 390h2v1h-2zM3 390h2v1h-2zM1146 393h2v1h-2zM3 393h2v1h-2zM1144 396h4v1h-4zM3 396h4v1h-4zM1146 399h2v1h-2zM3 399h2v1h-2zM1146 402h2v1h-2zM3 402h2v1h-2zM1146 405h2v1h-2zM3 405h2v1h-2zM1146 408h2v1h-2zM3 408h2v1h-2zM1143 411h5v1h-5zM3 411h5v1h-5zM1146 414h2v1h-2zM3 414h2v1h-2zM1146 417h2v1h-2zM3 417h2v1h-2zM1146 420h2v1h-2zM3 420h2v1h-2zM1146 423h2v1h-2zM3 423h2v1h-2zM1144 426h4v1h-4zM3 426h4v1h-4zM1146 437h2v1h-2zM1146 442h2v1h-2zM1146 447h2v1h-2zM3 447h2v1h-2zM1146 452h2v1h-2zM3 452h2v1h-2zM1144 457h4v1h-4zM3 457h4v1h-4zM1146 462h2v1h-2zM3 462h2v1h-2zM1146 467h2v1h-2zM3 467h2v1h-2zM1146 472h2v1h-2zM3 472h2v1h-2zM1146 476h2v1h-2zM3 476h2v1h-2zM1144 481h4v1h-4zM3 481h4v1h-4zM1146 486h2v1h-2zM3 486h2v1h-2zM1146 491h2v1h-2zM3 491h2v1h-2zM1146 496h2v1h-2zM3 496h2v1h-2zM1146 501h2v1h-2zM3 501h2v1h-2zM1144 506h4v1h-4zM3 506h4v1h-4zM1146 511h2v1h-2zM3 511h2v1h-2zM1146 516h2v1h-2zM3 516h2v1h-2zM1146 521h2v1h-2zM3 521h2v1h-2zM1146 526h2v1h-2zM3 526h2v1h-2zM1144 531h4v1h-4zM1146 536h2v1h-2zM1146 541h2v1h-2zM1146 546h2v1h-2zM1146 551h2v1h-2zM1144 556h4v1h-4zM1146 561h2v1h-2zM1146 566h2v1h-2zM1146 571h2v1h-2zM1144 581h4v1h-4zM1146 587h2v1h-2zM1146 592h2v1h-2zM3 592h2v1h-2zM1146 598h2v1h-2zM3 598h2v1h-2zM1146 603h2v1h-2zM3 603h2v1h-2zM1144 609h4v1h-4zM3 609h4v1h-4zM1146 615h2v1h-2zM3 615h2v1h-2zM1146 620h2v1h-2zM3 620h2v1h-2zM1146 626h2v1h-2zM3 626h2v1h-2zM1146 631h2v1h-2zM3 631h2v1h-2zM1144 637h4v1h-4zM3 637h4v1h-4zM1146 643h2v1h-2zM3 643h2v1h-2zM1146 648h2v1h-2zM3 648h2v1h-2zM1146 654h2v1h-2zM3 654h2v1h-2zM1146 659h2v1h-2zM3 659h2v1h-2zM1144 665h4v1h-4zM3 665h4v1h-4zM1146 671h2v1h-2zM1146 676h2v1h-2zM1146 682h2v1h-2zM1146 687h2v1h-2zM1144 693h4v1h-4z"/>
<path fill="#f00" d="M3 481h3v1h-3zM3 603h3v1h-3z"/>
<path fill="#000" d="M52 699h1v16h-1zM76 699h1v16h-1zM116 699h1v16h-1zM156 699h1v16h-1zM196 699h1v16h-1zM228 699h1v16h-1zM276 699h1v16h-1zM316 699h1v16h-1zM356 699h1v16h-1zM396 699h1v16h-1zM428 699h1v16h-1zM468 699h1v16h-1zM508 699h1v16h-1zM564 699h1v16h-1zM588 699h1v16h-1zM628 699h1v16h-1zM668 699h1v16h-1zM708 699h1v16h-1zM748 699h1v16h-1zM788 699h1v16h-1zM828 699h1v16h-1zM868 699h1v16h-1zM900 699h1v16h-1zM940 699h1v16h-1zM980 699h1v16h-1zM1020 699h1v16h-1zM1052 699h1v16h-1zM1076 699h1v16h-1zM1124 699h1v16h-1z"/>
</g>
<text x="57.6 65.6" y="711.0" font-family="Liberation Mono, DejaVu Sans Mono, monospace" font-size="13.20" text-anchor="middle" fill="#000" xml:space="preserve" stroke="#000" stroke-width="0.25"><tspan font-family="Liberation Sans, Arial, sans-serif" font-size="12.15" stroke="#000" stroke-width="0.25">01</tspan></text>
<text x="81.6 89.6" y="711.0" font-family="Liberation Mono, DejaVu Sans Mono, monospace" font-size="13.20" text-anchor="middle" fill="#000" xml:space="preserve" stroke="#000" stroke-width="0.25"><tspan font-family="Liberation Sans, Arial, sans-serif" font-size="12.15" stroke="#000" stroke-width="0.25">07</tspan></text>
<text x="121.6 129.6" y="711.0" font-family="Liberation Mono, DejaVu Sans Mono, monospace" font-size="13.20" text-anchor="middle" fill="#000" xml:space="preserve" stroke="#000" stroke-width="0.25"><tspan font-family="Liberation Sans, Arial, sans-serif" font-size="12.15" stroke="#000" stroke-width="0.25">14</tspan></text>
<text x="161.6 169.6" y="711.0" font-family="Liberation Mono, DejaVu Sans Mono, monospace" font-size="13.20" text-anchor="middle" fill="#000" xml:space="preserve" stroke="#000" stroke-width="0.25"><tspan font-family="Liberation Sans, Arial, sans-serif" font-size="12.15" stroke="#000" stroke-width="0.25">21</tspan></text>
<text x="201.6 209.6" y="711.0" font-family="Liberation Mono, DejaVu Sans Mono, monospace" font-size="13.20" text-anchor="middle" fill="#000" xml:space="preserve" stroke="#000" stroke-width="0.25"><tspan font-family="Liberation Sans, Arial, sans-serif" font-size="12.15" stroke="#000" stroke-width="0.25">28</tspan></text>
<text x="233.6 241.6" y="711.0" font-family="Liberation Mono, DejaVu Sans Mono, monospace" font-size="13.20" text-anchor="middle" fill="#000" xml:space="preserve" stroke="#000" stroke-width="0.25"><tspan font-family="Liberation Sans, Arial, sans-serif" font-size="12.15" stroke="#000" stroke-width="0.25">01</tspan></text>
<text x="281.6 289.6" y="711.0" font-family="Liberation Mono, DejaVu Sans Mono, monospace" font-size="13.20" text-anchor="middle" fill="#000" xml:space="preserve" stroke="#000" stroke-width="0.25"><tspan font-family="Liberation Sans, Arial, sans-serif" font-size="12.15" stroke="#000" stroke-width="0.25">11</tspan></text>
<text x="321.6 329.6" y="711.0" font-family="Liberation Mono, DejaVu Sans Mono, monospace" font-size="13.20" text-anchor="middle" fill="#000" xml:space="preserve" stroke="#000" stroke-width="0.25"><tspan font-family="Liberation Sans, Arial, sans-serif" font-size="12.15" stroke="#000" stroke-width="0.25">18</tspan></text>
<text x="361.6 369.6" y="711.0" font-family="Liberation Mono, DejaVu Sans Mono, monospace" font-size="13.20" text-anchor="middle" fill="#000" xml:space="preserve" stroke="#000" stroke-width="0.25"><tspan font-family="Liberation Sans, Arial, sans-serif" font-size="12.15" stroke="#000" stroke-width="0.25">25</tspan></text>
<text x="401.6 409.6" y="711.0" font-family="Liberation Mono, DejaVu Sans Mono, monospace" font-size="13.20" text-anchor="middle" fill="#000" xml:space="preserve" stroke="#000" stroke-width="0.25"><tspan font-family="Liberation Sans, Arial, sans-serif" font-size="12.15" stroke="#000" stroke-width="0.25">02</tspan></text>
<text x="433.6 441.6" y="711.0" font-family="Liberation Mono, DejaVu Sans Mono, monospace" font-size="13.20" text-anchor="middle" fill="#000" xml:space="preserve" stroke="#000" stroke-width="0.25"><tspan font-family="Liberation Sans, Arial, sans-serif" font-size="12.15" stroke="#000" stroke-width="0.25">08</tspan></text>
<text x="473.6 481.6" y="711.0" font-family="Liberation Mono, DejaVu Sans Mono, monospace" font-size="13.20" text-anchor="middle" fill="#000" xml:space="preserve" stroke="#000" stroke-width="0.25"><tspan font-family="Liberation Sans, Arial, sans-serif" font-size="12.15" stroke="#000" stroke-width="0.25">15</tspan></text>
<text x="513.6 521.6" y="711.0" font-family="Liberation Mono, DejaVu Sans Mono, monospace" font-size="13.20" text-anchor="middle" fill="#000" xml:space="preserve" stroke="#000" stroke-width="0.25"><tspan font-family="Liberation Sans, Arial, sans-serif" font-size="12.15" stroke="#000" stroke-width="0.25">22</tspan></text>
<text x="569.6 577.6" y="711.0" font-family="Liberation Mono, DejaVu Sans Mono, monospace" font-size="13.20" text-anchor="middle" fill="#000" xml:space="preserve" stroke="#000" stroke-width="0.25"><tspan font-family="Liberation Sans, Arial, sans-serif" font-size="12.15" stroke="#000" stroke-width="0.25">01</tspan></text>
<text x="593.6 601.6" y="711.0" font-family="Liberation Mono, DejaVu Sans Mono, monospace" font-size="13.20" text-anchor="middle" fill="#000" xml:space="preserve" stroke="#000" stroke-width="0.25"><tspan font-family="Liberation Sans, Arial, sans-serif" font-size="12.15" stroke="#000" stroke-width="0.25">06</tspan></text>
<text x="633.6 641.6" y="711.0" font-family="Liberation Mono, DejaVu Sans Mono, monospace" font-size="13.20" text-anchor="middle" fill="#000" xml:space="preserve" stroke="#000" stroke-width="0.25"><tspan font-family="Liberation Sans, Arial, sans-serif" font-size="12.15" stroke="#000" stroke-width="0.25">13</tspan></text>
<text x="673.6 681.6" y="711.0" font-family="Liberation Mono, DejaVu Sans Mono, monospace" font-size="13.20" text-anchor="middle" fill="#000" xml:space="preserve" stroke="#000" stroke-width="0.25"><tspan font-family="Liberation Sans, Arial, sans-serif" font-size="12.15" stroke="#000" stroke-width="0.25">20</tspan></text>
<text x="713.6 721.6" y="711.0" font-family="Liberation Mono, DejaVu Sans Mono, monospace" font-size="13.20" text-anchor="middle" fill="#000" xml:space="preserve" stroke="#000" stroke-width="0.25"><tspan font-family="Liberation Sans, Arial, sans-serif" font-size="12.15" stroke="#000" stroke-width="0.25">27</tspan></text>
<text x="753.6 761.6" y="711.0" font-family="Liberation Mono, DejaVu Sans Mono, monospace" font-size="13.20" text-anchor="middle" fill="#000" xml:space="preserve" stroke="#000" stroke-width="0.25"><tspan font-family="Liberation Sans, Arial, sans-serif" font-size="12.15" stroke="#000" stroke-width="0.25">03</tspan></text>
<text x="793.6 801.6" y="711.0" font-family="Liberation Mono, DejaVu Sans Mono, monospace" font-size="13.20" text-anchor="middle" fill="#000" xml:space="preserve" stroke="#000" stroke-width="0.25"><tspan font-family="Liberation Sans, Arial, sans-serif" font-size="12.15" stroke="#000" stroke-width="0.25">10</tspan></text>
<text x="833.6 841.6" y="711.0" font-family="Liberation Mono, DejaVu Sans Mono, monospace" font-size="13.20" text-anchor="middle" fill="#000" xml:space="preserve" stroke="#000" stroke-width="0.25"><tspan font-family="Liberation Sans, Arial, sans-serif" font-size="12.15" stroke="#000" stroke-width="0.25">17</tspan></text>
<text x="873.6 881.6" y="711.0" font-family="Liberation Mono, DejaVu Sans Mono, monospace" font-size="13.20" text-anchor="middle" fill="#000" xml:space="preserve" stroke="#000" stroke-width="0.25"><tspan font-family="Liberation Sans, Arial, sans-serif" font-size="12.15" stroke="#000" stroke-width="0.25">24</tspan></text>
<text x="905.6 913.6" y="711.0" font-family="Liberation Mono, DejaVu Sans Mono, monospace" font-size="13.20" text-anchor="middle" fill="#000" xml:space="preserve" stroke="#000" stroke-width="0.25"><tspan font-family="Liberation Sans, Arial, sans-serif" font-size="12.15" stroke="#000" stroke-width="0.25">01</tspan></text>
<text x="945.6 953.6" y="711.0" font-family="Liberation Mono, DejaVu Sans Mono, monospace" font-size="13.20" text-anchor="middle" fill="#000" xml:space="preserve" stroke="#000" stroke-width="0.25"><tspan font-family="Liberation Sans, Arial, sans-serif" font-size="12.15" stroke="#000" stroke-width="0.25">08</tspan></text>
<text x="985.6 993.6" y="711.0" font-family="Liberation Mono, DejaVu Sans Mono, monospace" font-size="13.20" text-anchor="middle" fill="#000" xml:space="preserve" stroke="#000" stroke-width="0.25"><tspan font-family="Liberation Sans, Arial, sans-serif" font-size="12.15" stroke="#000" stroke-width="0.25">15</tspan></text>
<text x="1025.6 1033.6" y="711.0" font-family="Liberation Mono, DejaVu Sans Mono, monospace" font-size="13.20" text-anchor="middle" fill="#000" xml:space="preserve" stroke="#000" stroke-width="0.25"><tspan font-family="Liberation Sans, Arial, sans-serif" font-size="12.15" stroke="#000" stroke-width="0.25">22</tspan></text>
<text x="1057.6 1065.6" y="711.0" font-family="Liberation Mono, DejaVu Sans Mono, monospace" font-size="13.20" text-anchor="middle" fill="#000" xml:space="preserve" stroke="#000" stroke-width="0.25"><tspan font-family="Liberation Sans, Arial, sans-serif" font-size="12.15" stroke="#000" stroke-width="0.25">29</tspan></text>
<text x="1081.6 1089.6" y="711.0" font-family="Liberation Mono, DejaVu Sans Mono, monospace" font-size="13.20" text-anchor="middle" fill="#000" xml:space="preserve" stroke="#000" stroke-width="0.25"><tspan font-family="Liberation Sans, Arial, sans-serif" font-size="12.15" stroke="#000" stroke-width="0.25">02</tspan></text>
<text x="1129.6 1137.6" y="711.0" font-family="Liberation Mono, DejaVu Sans Mono, monospace" font-size="13.20" text-anchor="middle" fill="#000" xml:space="preserve" stroke="#000" stroke-width="0.25"><tspan font-family="Liberation Sans, Arial, sans-serif" font-size="12.15" stroke="#000" stroke-width="0.25">12</tspan></text>
<text x="1170.4 1178.4 1186.4 1194.4 1202.4" y="16.9" font-family="Liberation Mono, DejaVu Sans Mono, monospace" font-size="13.20" text-anchor="middle" fill="#000" xml:space="preserve" stroke="#000" stroke-width="0.25"><tspan font-family="Liberation Sans, Arial, sans-serif" font-size="12.15" stroke="#000" stroke-width="0.25">11000</tspan></text>
<text x="1170.4 1178.4 1186.4 1194.4 1202.4" y="46.9" font-family="Liberation Mono, DejaVu Sans Mono, monospace" font-size="13.20" text-anchor="middle" fill="#000" xml:space="preserve" stroke="#000" stroke-width="0.25"><tspan font-family="Liberation Sans, Arial, sans-serif" font-size="12.15" stroke="#000" stroke-width="0.25">10500</tspan></text>
<text x="1170.4 1178.4 1186.4 1194.4 1202.4" y="77.9" font-family="Liberation Mono, DejaVu Sans Mono, monospace" font-size="13.20" text-anchor="middle" fill="#000" xml:space="preserve" stroke="#000" stroke-width="0.25"><tspan font-family="Liberation Sans, Arial, sans-serif" font-size="12.15" stroke="#000" stroke-width="0.25">10000</tspan></text>
<text x="1178.4 1186.4 1194.4 1202.4" y="107.9" font-family="Liberation Mono, DejaVu Sans Mono, monospace" font-size="13.20" text-anchor="middle" fill="#000" xml:space="preserve" stroke="#000" stroke-width="0.25"><tspan font-family="Liberation Sans, Arial, sans-serif" font-size="12.15" stroke="#000" stroke-width="0.25">9500</tspan></text>
<text x="1178.4 1186.4 1194.4 1202.4" y="138.9" font-family="Liberation Mono, DejaVu Sans Mono, monospace" font-size="13.20" text-anchor="middle" fill="#000" xml:space="preserve" stroke="#000" stroke-width="0.25"><tspan font-family="Liberation Sans, Arial, sans-serif" font-size="12.15" stroke="#000" stroke-width="0.25">9000</tspan></text>
<text x="1178.4 1186.4 1194.4 1202.4" y="169.9" font-family="Liberation Mono, DejaVu Sans Mono, monospace" font-size="13.20" text-anchor="middle" fill="#000" xml:space="preserve" stroke="#000" stroke-width="0.25"><tspan font-family="Liberation Sans, Arial, sans-serif" font-size="12.15" stroke="#000" stroke-width="0.25">8500</tspan></text>
<text x="1178.4 1186.4 1194.4 1202.4" y="199.9" font-family="Liberation Mono, DejaVu Sans Mono, monospace" font-size="13.20" text-anchor="middle" fill="#000" xml:space="preserve" stroke="#000" stroke-width="0.25"><tspan font-family="Liberation Sans, Arial, sans-serif" font-size="12.15" stroke="#000" stroke-width="0.25">8000</tspan></text>
<text x="1178.4 1186.4 1194.4 1202.4" y="230.9" font-family="Liberation Mono, DejaVu Sans Mono, monospace" font-size="13.20" text-anchor="middle" fill="#000" xml:space="preserve" stroke="#000" stroke-width="0.25"><tspan font-family="Liberation Sans, Arial, sans-serif" font-size="12.15" stroke="#000" stroke-width="0.25">7500</tspan></text>
<text x="1178.4 1186.4 1194.4 1202.4" y="260.9" font-family="Liberation Mono, DejaVu Sans Mono, monospace" font-size="13.20" text-anchor="middle" fill="#000" xml:space="preserve" stroke="#000" stroke-width="0.25"><tspan font-family="Liberation Sans, Arial, sans-serif" font-size="12.15" stroke="#000" stroke-width="0.25">7000</tspan></text>
<text x="1178.4 1186.4 1194.4 1202.4" y="291.9" font-family="Liberation Mono, DejaVu Sans Mono, monospace" font-size="13.20" text-anchor="middle" fill="#000" xml:space="preserve" stroke="#000" stroke-width="0.25"><tspan font-family="Liberation Sans, Arial, sans-serif" font-size="12.15" stroke="#000" stroke-width="0.25">6500</tspan></text>
<text x="1178.4 1186.4 1194.4 1202.4" y="321.9" font-family="Liberation Mono, DejaVu Sans Mono, monospace" font-size="13.20" text-anchor="middle" fill="#000" xml:space="preserve" stroke="#000" stroke-width="0.25"><tspan font-family="Liberation Sans, Arial, sans-serif" font-size="12.15" stroke="#000" stroke-width="0.25">6000</tspan></text>
<text x="1178.4 1186.4 1194.4 1202.4" y="352.9" font-family="Liberation Mono, DejaVu Sans Mono, monospace" font-size="13.20" text-anchor="middle" fill="#000" xml:space="preserve" stroke="#000" stroke-width="0.25"><tspan font-family="Liberation Sans, Arial, sans-serif" font-size="12.15" stroke="#000" stroke-width="0.25">5500</tspan></text>
<text x="1178.4 1186.4 1194.4 1202.4" y="382.9" font-family="Liberation Mono, DejaVu Sans Mono, monospace" font-size="13.20" text-anchor="middle" fill="#000" xml:space="preserve" stroke="#000" stroke-width="0.25"><tspan font-family="Liberation Sans, Arial, sans-serif" font-size="12.15" stroke="#000" stroke-width="0.25">5000</tspan></text>
<text x="1178.4 1186.4 1194.4 1202.4" y="413.9" font-family="Liberation Mono, DejaVu Sans Mono, monospace" font-size="13.20" text-anchor="middle" fill="#000" xml:space="preserve" stroke="#000" stroke-width="0.25"><tspan font-family="Liberation Sans, Arial, sans-serif" font-size="12.15" stroke="#000" stroke-width="0.25">4500</tspan></text>
<text x="1169.2 1177.2" y="483.9" font-family="Liberation Mono, DejaVu Sans Mono, monospace" font-size="13.20" text-anchor="middle" fill="#000" xml:space="preserve" stroke="#000" stroke-width="0.25"><tspan font-family="Liberation Sans, Arial, sans-serif" font-size="12.15" stroke="#000" stroke-width="0.25">40</tspan></text>
<text x="1169.2 1177.2" y="533.9" font-family="Liberation Mono, DejaVu Sans Mono, monospace" font-size="13.20" text-anchor="middle" fill="#000" xml:space="preserve" stroke="#000" stroke-width="0.25"><tspan font-family="Liberation Sans, Arial, sans-serif" font-size="12.15" stroke="#000" stroke-width="0.25">20</tspan></text>
<text x="1178.0 1186.0" y="611.9" font-family="Liberation Mono, DejaVu Sans Mono, monospace" font-size="13.20" text-anchor="middle" fill="#000" xml:space="preserve" stroke="#000" stroke-width="0.25"><tspan font-family="Liberation Sans, Arial, sans-serif" font-size="12.15" stroke="#000" stroke-width="0.25">75</tspan></text>
<text x="1178.0 1186.0" y="667.9" font-family="Liberation Mono, DejaVu Sans Mono, monospace" font-size="13.20" text-anchor="middle" fill="#000" xml:space="preserve" stroke="#000" stroke-width="0.25"><tspan font-family="Liberation Sans, Arial, sans-serif" font-size="12.15" stroke="#000" stroke-width="0.25">25</tspan></text>
<text x="1186.0" y="695.9" font-family="Liberation Mono, DejaVu Sans Mono, monospace" font-size="13.20" text-anchor="middle" fill="#000" xml:space="preserve" stroke="#000" stroke-width="0.25"><tspan font-family="Liberation Sans, Arial, sans-serif" font-size="12.15" stroke="#000" stroke-width="0.25">0</tspan></text>
<rect x="1149.5" y="330.5" width="58" height="12" fill="#000" stroke="#000" stroke-width="1" shape-rendering="crispEdges"/>
<text x="1177.2 1185.2 1193.2 1201.2" y="340.9" font-family="Liberation Mono, DejaVu Sans Mono, monospace" font-size="13.20" text-anchor="middle" fill="#fff" xml:space="preserve" stroke="#fff" stroke-width="0.25"><tspan font-family="Liberation Sans, Arial, sans-serif" font-size="12.15" stroke="#fff" stroke-width="0.25">5696</tspan></text>
<rect x="1149.5" y="323.5" width="58" height="12" fill="#f00" stroke="#000" stroke-width="1" shape-rendering="crispEdges"/>
<text x="1177.2 1185.2 1193.2 1201.2" y="333.9" font-family="Liberation Mono, DejaVu Sans Mono, monospace" font-size="13.20" text-anchor="middle" fill="#fff" xml:space="preserve" stroke="#fff" stroke-width="0.25"><tspan font-family="Liberation Sans, Arial, sans-serif" font-size="12.15" stroke="#fff" stroke-width="0.25">5812</tspan></text>
<rect x="1149.5" y="504.5" width="58" height="12" fill="#f00" stroke="#000" stroke-width="1" shape-rendering="crispEdges"/>
<text x="1169.2 1177.2 1185.2 1193.2 1201.2" y="514.9" font-family="Liberation Mono, DejaVu Sans Mono, monospace" font-size="13.20" text-anchor="middle" fill="#fff" xml:space="preserve" stroke="#fff" stroke-width="0.25"><tspan font-family="Liberation Sans, Arial, sans-serif" font-size="12.15" stroke="#fff" stroke-width="0.25">27.60</tspan></text>
<rect x="1149.5" y="510.5" width="58" height="12" fill="#00f" stroke="#000" stroke-width="1" shape-rendering="crispEdges"/>
<text x="1169.2 1177.2 1185.2 1193.2 1201.2" y="520.9" font-family="Liberation Mono, DejaVu Sans Mono, monospace" font-size="13.20" text-anchor="middle" fill="#fff" xml:space="preserve" stroke="#fff" stroke-width="0.25"><tspan font-family="Liberation Sans, Arial, sans-serif" font-size="12.15" stroke="#fff" stroke-width="0.25">25.44</tspan></text>
<rect x="1149.5" y="605.5" width="58" height="12" fill="#f00" stroke="#000" stroke-width="1" shape-rendering="crispEdges"/>
<text x="1177.2 1185.2 1193.2 1201.2" y="615.9" font-family="Liberation Mono, DejaVu Sans Mono, monospace" font-size="13.20" text-anchor="middle" fill="#fff" xml:space="preserve" stroke="#fff" stroke-width="0.25"><tspan font-family="Liberation Sans, Arial, sans-serif" font-size="12.15" stroke="#fff" stroke-width="0.25">71.2</tspan></text>
<rect x="1149.5" y="628.5" width="58" height="12" fill="#00f" stroke="#000" stroke-width="1" shape-rendering="crispEdges"/>
<text x="1177.2 1185.2 1193.2 1201.2" y="638.9" font-family="Liberation Mono, DejaVu Sans Mono, monospace" font-size="13.20" text-anchor="middle" fill="#fff" xml:space="preserve" stroke="#fff" stroke-width="0.25"><tspan font-family="Liberation Sans, Arial, sans-serif" font-size="12.15" stroke="#fff" stroke-width="0.25">50.2</tspan></text>
<text x="2" y="731" font-family="DejaVu Sans Condensed, DejaVu Sans, Liberation Sans, sans-serif" font-size="11" fill="#000" textLength="396" lengthAdjust="spacingAndGlyphs">Source: CQG, Inc. © 2009 All rights reserved worldwide. www.cqg.com</text>
<text x="1060" y="731" font-family="DejaVu Sans Condensed, DejaVu Sans, Liberation Sans, sans-serif" font-size="11" fill="#000" textLength="147.5" lengthAdjust="spacingAndGlyphs">Mon Jan 12 2009 18:33:47</text>
</svg>
</body></html>
